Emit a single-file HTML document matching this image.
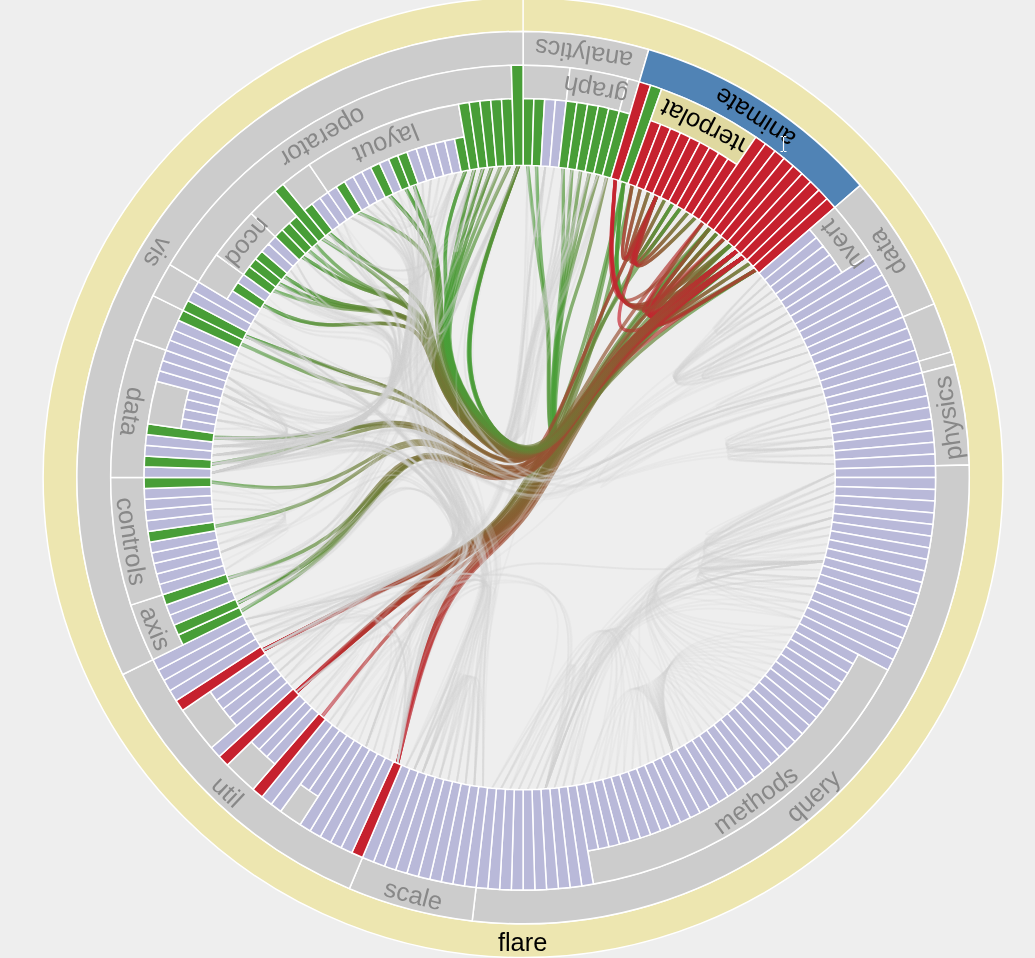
<!DOCTYPE html>
<html><head><meta charset="utf-8"><title>flare</title>
<style>html,body{margin:0;padding:0;background:#eeeeee;overflow:hidden}svg{display:block}.h{stroke-width:3.5;stroke-opacity:0.68}</style>
</head><body><svg width="1035" height="958" viewBox="0 0 1035 958"><defs><clipPath id="c1"><rect x="-31" y="-30" width="63" height="60"/></clipPath><clipPath id="c2"><rect x="-47.9" y="-30" width="92.8" height="60"/></clipPath><clipPath id="c3"><rect x="-30.3" y="-30" width="54.6" height="60"/></clipPath><clipPath id="c4"><rect x="-30.3" y="-30" width="54.6" height="60"/></clipPath><linearGradient id="ga" x1="0" y1="0" x2="1" y2="0"><stop offset="0" stop-color="#489e37"/><stop offset="1" stop-color="#c6212e"/></linearGradient><linearGradient id="gb" x1="1" y1="0" x2="0" y2="0"><stop offset="0" stop-color="#489e37"/><stop offset="1" stop-color="#c6212e"/></linearGradient></defs><g fill="none" stroke="#d0d0d0" stroke-width="1.8" stroke-opacity="0.2"><path class="h" d="M527.6,165.5C527.6,165.5 527.6,165.5 529.5,183.7C531.5,201.9 535.4,238.2 539.5,265.8C543.5,293.5 547.7,312.3 548.3,348.6C549,384.8 546.1,438.5 555.3,442C564.5,445.5 585.8,399 619.2,359.8C652.7,320.6 698.2,288.7 721,272.8C743.8,256.9 743.8,256.9 743.8,256.9" stroke="url(#ga)"/><path d="M527.6,165.5C527.6,165.5 527.6,165.5 527.1,184.5C526.7,203.4 525.8,241.4 525.1,270.6C524.3,299.8 523.7,320.2 519.5,358C515.4,395.9 507.7,451.1 487.5,461.7C467.4,472.4 434.7,438.5 405.9,427.6C377.1,416.7 352.3,428.8 320.5,438.8C288.7,448.7 249.9,456.5 230.6,460.4C211.2,464.2 211.2,464.2 211.2,464.2"/><path d="M527.6,165.5C527.6,165.5 527.6,165.5 527.5,185.5C527.5,205.4 527.4,245.4 527.5,276.6C527.6,307.8 527.8,330.2 524.4,370.1C521.1,409.9 514.2,467.1 497.7,501.9C481.2,536.8 455.1,549.3 435.1,564.3C415,579.2 401.1,596.5 381,620.3C361,644.1 334.9,674.3 321.8,689.4C308.8,704.5 308.8,704.5 308.8,704.5"/><path d="M527.6,165.5C527.6,165.5 527.6,165.5 528.8,183.2C530,201 532.4,236.5 536.9,236.7C541.3,237 547.8,202 551,184.5C554.3,167 554.3,167 554.3,167"/><path d="M527.6,165.5C527.6,165.5 527.6,165.5 528.7,183.2C529.8,201 532,236.4 534.9,236.6C537.9,236.7 541.6,201.5 543.5,183.9C545.4,166.2 545.4,166.2 545.4,166.2"/><path d="M527.6,165.5C527.6,165.5 527.6,165.5 527.1,184.5C526.7,203.5 525.8,241.5 525.1,270.8C524.3,300.1 523.7,320.6 519.5,358.5C515.4,396.4 507.7,451.7 487.5,462.4C467.4,473.1 434.7,439.3 405.9,428.5C377.1,417.7 352.2,429.9 320.4,441.2C288.5,452.4 249.8,462.8 230.4,468C211,473.1 211,473.1 211,473.1"/><path d="M536.5,165.7C536.5,165.7 536.5,165.7 536.2,183.4C535.9,201.1 535.4,236.5 536.9,236.6C538.4,236.7 541.9,201.5 543.6,183.9C545.4,166.2 545.4,166.2 545.4,166.2"/><path class="h" d="M536.5,165.7C536.5,165.7 536.5,165.7 537.1,183.9C537.8,202 539.1,238.3 541.8,265.9C544.5,293.5 548.6,312.4 549.1,348.6C549.7,384.9 546.7,438.5 555.8,442C565,445.6 586.2,399 619.5,359.8C652.9,320.6 698.3,288.7 721.1,272.8C743.8,256.9 743.8,256.9 743.8,256.9" stroke="url(#ga)"/><path d="M536.5,165.7C536.5,165.7 536.5,165.7 534.7,184.7C533,203.6 529.5,241.5 527.4,270.6C525.4,299.8 524.7,320.2 520.4,358.1C516.2,395.9 508.5,451.1 488.2,461.7C468,472.4 435.2,438.5 406.4,427.6C377.5,416.7 352.6,428.8 320.7,438.8C288.8,448.7 250,456.5 230.6,460.4C211.2,464.2 211.2,464.2 211.2,464.2"/><path d="M536.5,165.7C536.5,165.7 536.5,165.7 536.3,183.4C536.2,201.2 535.8,236.6 538.8,236.8C541.8,237 548,202 551.1,184.5C554.3,167 554.3,167 554.3,167"/><path d="M536.5,165.7C536.5,165.7 536.5,165.7 535.1,185.7C533.8,205.6 531.2,245.5 529.9,276.6C528.6,307.8 528.7,330.3 525.3,370.1C521.9,409.9 515,467.1 498.4,502C481.8,536.8 455.7,549.3 435.5,564.3C415.4,579.2 401.4,596.6 381.3,620.3C361.1,644.1 335,674.3 321.9,689.4C308.8,704.5 308.8,704.5 308.8,704.5"/><path d="M545.4,166.2C545.4,166.2 545.4,166.2 542.3,185C539.3,203.8 533.3,241.4 529.8,270.3C526.4,299.3 525.7,319.6 521.4,357.2C517.1,394.9 509.3,449.9 489,460.4C468.7,470.9 435.9,436.9 406.9,425.8C378,414.8 353,426.8 321.2,434.1C289.5,441.3 251,443.9 231.8,445.2C212.5,446.4 212.5,446.4 212.5,446.4"/><path d="M545.4,166.2C545.4,166.2 545.4,166.2 542.3,185C539.3,203.7 533.3,241.2 529.9,270.1C526.5,299 525.7,319.2 521.4,356.8C517.2,394.4 509.4,449.3 489.1,459.8C468.8,470.2 436,436.1 407,425C378.1,413.8 353.1,425.8 321.5,431.7C289.9,437.6 251.7,437.6 232.6,437.6C213.5,437.6 213.5,437.6 213.5,437.6"/><path d="M545.4,166.2C545.4,166.2 545.4,166.2 542.3,185.1C539.3,204 533.2,241.7 529.8,270.8C526.4,299.9 525.6,320.3 521.3,358.1C517,395.9 509.2,451.1 488.9,461.8C468.6,472.4 435.7,438.5 406.8,427.6C377.9,416.7 352.9,428.9 320.9,438.8C289,448.7 250.1,456.5 230.7,460.4C211.2,464.2 211.2,464.2 211.2,464.2"/><path d="M545.4,166.2C545.4,166.2 545.4,166.2 542.4,184.8C539.4,203.3 533.5,240.4 530.2,268.8C526.9,297.2 526.2,317 522,354.2C517.8,391.3 510.1,445.9 489.9,455.9C469.7,465.8 437,431.3 408.2,419.7C379.4,408.2 354.4,419.7 324.5,417.8C294.6,415.9 259.8,400.6 242.3,393C224.9,385.4 224.9,385.4 224.9,385.4"/><path d="M545.4,166.2C545.4,166.2 545.4,166.2 543,186.9C540.6,207.5 535.9,248.7 533.7,281.2C531.6,313.8 532.1,337.7 529.2,379C526.2,420.3 519.6,479 503.5,515.4C487.4,551.7 461.6,565.7 442.3,603.3C423,640.9 410.3,702.1 403.9,732.8C397.5,763.4 397.5,763.4 397.5,763.4"/><path d="M545.4,166.2C545.4,166.2 545.4,166.2 543.8,183.9C542.3,201.5 539.3,236.8 540.7,236.9C542.2,237 548.2,202 551.2,184.5C554.3,167 554.3,167 554.3,167"/><path d="M545.4,166.2C545.4,166.2 545.4,166.2 542.3,186.2C539.2,206.2 533,246.1 529.4,277.4C525.9,308.7 524.9,331.3 520.5,371.3C516.1,411.4 508.1,468.8 490.5,503.8C473,538.9 445.8,551.6 404.6,569.7C363.5,587.9 308.5,611.4 281,623.2C253.5,635 253.5,635 253.5,635"/><path d="M545.4,166.2C545.4,166.2 545.4,166.2 543.4,183.9C541.5,201.5 537.6,236.8 536.4,263.4C535.2,290 536.6,308 534.5,343.4C532.4,378.7 526.7,431.5 508.6,439.6C490.5,447.8 459.9,411.5 445.9,379.7C431.9,348 434.6,320.9 442.1,286.6C449.6,252.3 461.9,210.8 468.1,190C474.3,169.3 474.3,169.3 474.3,169.3"/><path d="M545.4,166.2C545.4,166.2 545.4,166.2 542.3,186.3C539.3,206.3 533.2,246.4 529.7,277.8C526.2,309.3 525.4,332.1 521.1,372.2C516.7,412.4 508.9,470 491.4,505.2C473.9,540.4 446.8,553.2 407.1,573.7C367.4,594.1 315.2,622.1 289.1,636.1C262.9,650.1 262.9,650.1 262.9,650.1"/><path d="M545.4,166.2C545.4,166.2 545.4,166.2 542.3,185.1C539.3,204 533.2,241.8 529.8,271C526.4,300.2 525.6,320.7 521.3,358.6C517,396.5 509.2,451.7 488.9,462.4C468.5,473.1 435.7,439.3 406.8,428.5C377.9,417.7 352.8,429.9 320.8,441.2C288.8,452.5 249.9,462.8 230.4,468C211,473.1 211,473.1 211,473.1"/><path class="h" d="M563.1,168C563.1,168 563.1,168 563.2,186.2C563.4,204.5 563.6,240.9 562.3,268.2C561,295.4 558,313.4 554.9,349.2C551.8,385 548.6,438.6 557.4,442.1C566.3,445.7 587.2,399.1 620.3,359.9C653.4,320.7 698.6,288.8 721.2,272.8C743.8,256.9 743.8,256.9 743.8,256.9" stroke="url(#ga)"/><path d="M563.1,168C563.1,168 563.1,168 560.9,186.9C558.7,205.8 554.2,243.6 548.1,272.2C542.1,300.8 534.4,320.2 526.6,357.4C518.8,394.5 510.8,449.5 490.4,459.9C469.9,470.3 437,436.2 407.9,425C378.9,413.9 353.7,425.8 322,431.7C290.2,437.7 251.9,437.6 232.7,437.6C213.5,437.6 213.5,437.6 213.5,437.6"/><path d="M563.1,168C563.1,168 563.1,168 560.9,187C558.6,206.1 554.2,244.1 548.1,272.9C542,301.7 534.3,321.3 526.5,358.7C518.6,396.1 510.7,451.3 490.2,461.9C469.7,472.5 436.8,438.6 407.7,427.7C378.6,416.8 353.4,428.9 321.3,438.8C289.2,448.8 250.2,456.5 230.7,460.4C211.2,464.2 211.2,464.2 211.2,464.2"/><path d="M563.1,168C563.1,168 563.1,168 561.5,188.8C559.9,209.5 556.7,251 551.9,283.4C547.1,315.7 540.7,338.7 534.1,379.6C527.6,420.5 520.9,479.2 504.6,515.5C488.2,551.8 462.3,565.8 442.9,603.4C423.4,641 410.4,702.2 404,732.8C397.5,763.4 397.5,763.4 397.5,763.4"/><path d="M563.1,168C563.1,168 563.1,168 560.9,187.1C558.6,206.1 554.2,244.2 548.1,273.1C542,302 534.3,321.7 526.5,359.2C518.6,396.6 510.7,451.9 490.2,462.6C469.7,473.3 436.8,439.4 407.7,428.6C378.6,417.8 353.4,430 321.3,441.2C289.1,452.5 250.1,462.8 230.5,468C211,473.1 211,473.1 211,473.1"/><path d="M563.1,168C563.1,168 563.1,168 560.8,188.2C558.6,208.4 554,248.8 547.9,280C541.7,311.1 534,333.1 526.1,372.8C518.2,412.6 510.1,470.1 492.5,505.3C474.8,540.5 447.5,553.3 407.6,573.7C367.8,594.1 315.4,622.1 289.2,636.1C262.9,650.1 262.9,650.1 262.9,650.1"/><path d="M563.1,168C563.1,168 563.1,168 562,185.8C560.8,203.6 558.5,239.2 554.7,265.5C550.8,291.9 545.3,309 539.6,344C534,378.9 528.2,431.6 509.9,439.8C491.7,447.9 460.9,411.6 446.8,379.8C432.7,348.1 435.2,321 442.6,286.6C449.9,252.3 462.1,210.8 468.2,190C474.3,169.3 474.3,169.3 474.3,169.3"/><path class="h" d="M571.9,169.3C571.9,169.3 571.9,169.3 570.8,187.3C569.6,205.4 567.3,241.4 564.6,268.5C561.9,295.5 558.9,313.5 555.7,349.3C552.5,385.1 549.2,438.7 558,442.2C566.7,445.7 587.6,399.2 620.6,359.9C653.6,320.7 698.7,288.8 721.3,272.8C743.8,256.9 743.8,256.9 743.8,256.9" stroke="url(#ga)"/><path d="M571.9,169.3C571.9,169.3 571.9,169.3 568.4,188C564.9,206.7 557.9,244.2 550.5,272.6C543.1,301 535.4,320.3 527.5,357.5C519.6,394.7 511.6,449.6 491,460C470.5,470.4 437.5,436.2 408.4,425.1C379.2,414 354,425.9 322.2,431.8C290.3,437.7 251.9,437.6 232.7,437.6C213.5,437.6 213.5,437.6 213.5,437.6"/><path d="M571.9,169.3C571.9,169.3 571.9,169.3 568.4,188C564.9,206.8 557.9,244.3 550.5,272.8C543.1,301.3 535.3,320.7 527.4,357.9C519.5,395.2 511.5,450.2 491,460.7C470.4,471.1 437.4,437 408.3,426C379.1,414.9 353.9,426.9 321.9,434.1C289.9,441.4 251.2,443.9 231.9,445.2C212.5,446.4 212.5,446.4 212.5,446.4"/><path d="M571.9,169.3C571.9,169.3 571.9,169.3 570.1,186.9C568.3,204.6 564.7,239.9 567.6,240.4C570.6,241 580,206.8 584.7,189.7C589.5,172.6 589.5,172.6 589.5,172.6"/><path d="M571.9,169.3C571.9,169.3 571.9,169.3 568.4,188.2C564.9,207 557.8,244.8 550.4,273.5C543,302.2 535.2,321.8 527.3,359.3C519.4,396.7 511.4,452 490.9,462.7C470.3,473.4 437.3,439.5 408.1,428.7C379,417.8 353.7,430 321.5,441.3C289.3,452.5 250.1,462.8 230.6,468C211,473.1 211,473.1 211,473.1"/><path d="M571.9,169.3C571.9,169.3 571.9,169.3 568.4,189.3C564.8,209.3 557.7,249.3 550.2,280.3C542.7,311.3 534.8,333.2 526.9,372.9C518.9,412.7 510.7,470.2 493,505.4C475.2,540.5 447.9,553.4 407.9,573.8C368,594.2 315.5,622.1 289.2,636.1C262.9,650.1 262.9,650.1 262.9,650.1"/><path d="M571.9,169.3C571.9,169.3 571.9,169.3 569.5,186.9C567.1,204.5 562.2,239.7 557,265.9C551.8,292 546.2,309.2 540.5,344.1C534.8,379 528.9,431.7 510.6,439.9C492.3,448 461.4,411.6 447.2,379.9C433,348.1 435.5,321 442.8,286.7C450.1,252.3 462.2,210.8 468.2,190.1C474.3,169.3 474.3,169.3 474.3,169.3"/><path class="h" d="M580.7,170.8C580.7,170.8 580.7,170.8 578.3,188.6C575.8,206.4 570.9,242.1 566.9,268.9C562.9,295.7 559.8,313.7 556.5,349.5C553.2,385.3 549.8,438.8 558.5,442.3C567.2,445.8 587.9,399.2 620.8,360C653.7,320.7 698.8,288.8 721.3,272.8C743.8,256.9 743.8,256.9 743.8,256.9" stroke="url(#ga)"/><path d="M580.7,170.8C580.7,170.8 580.7,170.8 575.9,189.3C571.1,207.8 561.5,244.8 552.8,273C544.1,301.2 536.3,320.5 528.3,357.7C520.4,394.8 512.3,449.7 491.7,460.1C471.1,470.5 438,436.3 408.8,425.2C379.6,414 354.3,425.9 322.4,431.8C290.5,437.7 252,437.7 232.8,437.6C213.5,437.6 213.5,437.6 213.5,437.6"/><path d="M580.7,170.8C580.7,170.8 580.7,170.8 575.9,189.3C571.1,207.9 561.5,244.9 552.8,273.2C544.1,301.4 536.3,320.9 528.3,358.1C520.3,395.3 512.2,450.3 491.6,460.8C471,471.2 437.9,437.1 408.7,426.1C379.5,415 354.2,426.9 322.1,434.2C290.1,441.4 251.3,443.9 231.9,445.2C212.5,446.4 212.5,446.4 212.5,446.4"/><path d="M580.7,170.8C580.7,170.8 580.7,170.8 575.9,189.5C571.1,208.1 561.5,245.4 552.8,273.9C544,302.3 536.2,322 528.2,359.4C520.2,396.9 512.1,452.1 491.5,462.8C470.9,473.5 437.8,439.6 408.6,428.7C379.3,417.9 354,430.1 321.7,441.3C289.4,452.5 250.2,462.8 230.6,468C211,473.1 211,473.1 211,473.1"/><path d="M580.7,170.8C580.7,170.8 580.7,170.8 575.9,190.6C571,210.4 561.3,249.9 552.5,280.7C543.7,311.4 535.7,333.4 527.6,373.1C519.6,412.8 511.4,470.3 493.5,505.4C475.7,540.6 448.2,553.4 408.2,573.8C368.1,594.2 315.5,622.1 289.2,636.1C262.9,650.1 262.9,650.1 262.9,650.1"/><path d="M580.7,170.8C580.7,170.8 580.7,170.8 577,188.2C573.3,205.6 565.9,240.3 559.3,266.3C552.8,292.2 547.2,309.3 541.4,344.2C535.6,379.1 529.7,431.8 511.3,440C492.8,448.1 461.9,411.7 447.7,380C433.4,348.2 435.8,321 443,286.7C450.2,252.4 462.2,210.8 468.3,190.1C474.3,169.3 474.3,169.3 474.3,169.3"/><path d="M589.5,172.6C589.5,172.6 589.5,172.6 583.4,190.9C577.3,209.1 565.2,245.7 555.1,273.7C545.1,301.7 537.2,321.1 529.2,358.3C521.1,395.5 513,450.5 492.3,460.9C471.6,471.3 438.4,437.2 409.2,426.2C379.9,415.1 354.5,427 322.3,434.2C290.2,441.4 251.4,443.9 231.9,445.2C212.5,446.4 212.5,446.4 212.5,446.4"/><path d="M589.5,172.6C589.5,172.6 589.5,172.6 583.4,190.8C577.3,209.1 565.2,245.5 555.2,273.4C545.1,301.4 537.3,320.7 529.2,357.8C521.2,395 513,449.9 492.4,460.2C471.7,470.6 438.5,436.4 409.3,425.3C380,414.1 354.6,426 322.6,431.9C290.6,437.7 252.1,437.7 232.8,437.6C213.5,437.6 213.5,437.6 213.5,437.6"/><path class="h" d="M589.5,172.6C589.5,172.6 589.5,172.6 585.7,190.1C582,207.7 574.5,242.8 569.2,269.3C563.9,295.9 560.6,313.9 557.3,349.6C553.9,385.4 550.4,439 559,442.4C567.6,445.9 588.3,399.3 621.1,360C653.9,320.7 698.9,288.8 721.3,272.8C743.8,256.9 743.8,256.9 743.8,256.9" stroke="url(#ga)"/><path d="M589.5,172.6C589.5,172.6 589.5,172.6 584.5,189.7C579.5,206.8 569.5,241.1 561.7,266.7C553.8,292.4 548.1,309.5 542.3,344.4C536.4,379.3 530.4,432 511.9,440.1C493.4,448.3 462.4,411.8 448.1,380C433.8,348.3 436.1,321.1 443.2,286.8C450.4,252.4 462.3,210.8 468.3,190.1C474.3,169.3 474.3,169.3 474.3,169.3"/><path d="M589.5,172.6C589.5,172.6 589.5,172.6 583.9,192.1C578.4,211.5 567.3,250.5 558.4,280.8C549.5,311.2 542.7,333 535.7,372.6C528.8,412.2 521.7,469.6 505,504.6C488.2,539.6 461.9,552.3 444.9,570C427.8,587.8 420.1,610.5 404.7,638.5C389.4,666.4 366.3,699.6 354.8,716.2C343.2,732.7 343.2,732.7 343.2,732.7"/><path d="M589.5,172.6C589.5,172.6 589.5,172.6 584,192.1C578.5,211.6 567.5,250.5 558.6,281C549.7,311.4 543,333.2 536.1,372.8C529.2,412.5 522.2,469.9 505.5,505C488.9,540 462.6,552.8 445.6,570.6C428.6,588.3 421,611.1 406.7,639.8C392.4,668.5 371.5,703.1 361.1,720.5C350.6,737.8 350.6,737.8 350.6,737.8"/><path d="M589.5,172.6C589.5,172.6 589.5,172.6 583.3,192.1C577.2,211.6 564.9,250.7 554.8,281.1C544.6,311.6 536.6,333.5 528.4,373.2C520.3,412.9 512,470.4 494,505.6C476.1,540.7 448.6,553.5 408.4,573.9C368.3,594.2 315.6,622.2 289.3,636.1C262.9,650.1 262.9,650.1 262.9,650.1"/><path d="M589.5,172.6C589.5,172.6 589.5,172.6 583.4,191C577.3,209.4 565.1,246.1 555.1,274.3C545.1,302.5 537.1,322.2 529.1,359.6C521,397 512.9,452.2 492.2,462.9C471.5,473.6 438.3,439.7 409,428.8C379.7,418 354.3,430.1 321.9,441.3C289.6,452.6 250.3,462.9 230.6,468C211,473.1 211,473.1 211,473.1"/><path class="h" d="M598.1,174.6C598.1,174.6 598.1,174.6 593.1,191.9C588.1,209.1 578.1,243.6 571.5,269.9C564.8,296.1 561.5,314.1 558.1,349.8C554.6,385.6 551,439.1 559.5,442.5C568.1,446 588.6,399.4 621.4,360.1C654.1,320.8 699,288.8 721.4,272.9C743.8,256.9 743.8,256.9 743.8,256.9" stroke="url(#ga)"/><path d="M598.1,174.6C598.1,174.6 598.1,174.6 590.8,192.5C583.5,210.5 568.8,246.4 557.5,274C546.2,301.6 538.2,320.9 530.1,358C522,395.1 513.7,450 493,460.4C472.3,470.7 439,436.5 409.7,425.4C380.3,414.2 354.9,426 322.8,431.9C290.8,437.8 252.2,437.7 232.8,437.6C213.5,437.6 213.5,437.6 213.5,437.6"/><path d="M598.1,174.6C598.1,174.6 598.1,174.6 591.3,191.7C584.4,208.8 570.6,243.1 560.2,269C549.8,295 542.7,312.6 535.5,348.1C528.3,383.5 521,436.8 501.2,445.5C481.3,454.2 449,418.3 433.3,387.1C417.6,355.9 418.6,329.3 402.9,305.3C387.1,281.4 354.6,260.1 338.3,249.4C322.1,238.8 322.1,238.8 322.1,238.8"/><path d="M598.1,174.6C598.1,174.6 598.1,174.6 592,191.4C585.9,208.2 573.6,241.8 564.7,267.1C555.8,292.5 550.2,309.5 544.6,344.3C538.9,379.2 533,431.8 514.7,439.8C496.4,447.9 465.5,411.4 464.1,358.3C462.7,305.1 490.7,235.3 504.7,200.4C518.6,165.5 518.6,165.5 518.6,165.5"/><path d="M598.1,174.6C598.1,174.6 598.1,174.6 590.9,192.3C583.6,210 569,245.4 557.8,272.5C546.6,299.6 538.8,318.4 530.8,355C522.8,391.6 514.7,446 494.1,455.8C473.4,465.7 440.3,431 411.1,419.3C381.9,407.6 356.5,419 326.6,415.7C296.7,412.5 262.1,394.7 244.9,385.8C227.6,376.9 227.6,376.9 227.6,376.9"/><path d="M598.1,174.6C598.1,174.6 598.1,174.6 590.7,193.8C583.3,213.1 568.5,251.5 557,281.7C545.6,311.8 537.5,333.7 529.2,373.4C521,413.1 512.6,470.5 494.6,505.7C476.5,540.8 448.9,553.6 408.7,573.9C368.5,594.3 315.7,622.2 289.3,636.1C262.9,650.1 262.9,650.1 262.9,650.1"/><path d="M598.1,174.6C598.1,174.6 598.1,174.6 591.9,191.4C585.6,208.3 573.1,241.9 564,267.3C554.9,292.6 549.1,309.7 543.1,344.6C537.2,379.5 531.1,432.2 512.6,440.3C494,448.4 462.9,412 448.5,380.2C434.1,348.3 436.4,321.2 443.4,286.8C450.5,252.4 462.4,210.9 468.3,190.1C474.3,169.3 474.3,169.3 474.3,169.3"/><path d="M598.1,174.6C598.1,174.6 598.1,174.6 590.8,192.7C583.4,210.8 568.8,247 557.4,274.9C546.1,302.8 538.1,322.4 530,359.8C521.8,397.2 513.6,452.4 492.8,463.1C472.1,473.7 438.8,439.8 409.4,428.9C380.1,418 354.6,430.2 322.2,441.4C289.7,452.6 250.4,462.9 230.7,468C211,473.1 211,473.1 211,473.1"/><path class="h" d="M606.8,176.9C606.8,176.9 606.8,176.9 602.7,194.3C598.6,211.8 590.5,246.6 582.6,272.5C574.6,298.4 566.8,315.3 561.1,350.5C555.3,385.7 551.6,439.3 560.1,442.7C568.5,446.1 589,399.5 621.6,360.1C654.3,320.8 699,288.9 721.4,272.9C743.8,256.9 743.8,256.9 743.8,256.9" stroke="url(#ga)"/><path d="M606.8,176.9C606.8,176.9 606.8,176.9 601,196.8C595.2,216.8 583.6,256.8 572.2,287.7C560.8,318.7 549.5,340.7 540.3,380.9C531.1,421.2 523.9,479.8 507.2,516C490.4,552.2 464,566.1 444.2,603.6C424.3,641.1 410.9,702.3 404.2,732.8C397.5,763.4 397.5,763.4 397.5,763.4"/><path d="M606.8,176.9C606.8,176.9 606.8,176.9 600.4,195.1C594,213.3 581.2,249.7 568.6,277.1C556,304.5 543.5,322.9 533.1,359.7C522.7,396.4 514.3,451.4 493.5,461.9C472.7,472.4 439.4,438.3 409.9,427.3C380.5,416.2 355,428.2 322.6,436.7C290.2,445.2 251,450.3 231.4,452.8C211.7,455.3 211.7,455.3 211.7,455.3"/><path d="M606.8,176.9C606.8,176.9 606.8,176.9 601.1,196.9C595.4,216.9 584.1,257 572.9,288C561.8,319.1 550.7,341.1 541.8,381.5C532.8,421.9 525.9,480.5 517.1,521.1C508.2,561.7 497.4,584.2 481.3,623.2C465.2,662.1 443.8,717.6 433.1,745.3C422.4,773.1 422.4,773.1 422.4,773.1"/><path d="M606.8,176.9C606.8,176.9 606.8,176.9 600.4,195.6C594.1,214.3 581.5,251.7 569,280.2C556.5,308.6 544.1,328.1 533.9,365.8C523.6,403.6 515.4,459.6 494.7,471.1C474,482.6 440.8,449.6 413.1,454.1C385.3,458.5 363,500.5 333,527.5C303,554.5 265.3,566.4 246.5,572.3C227.6,578.3 227.6,578.3 227.6,578.3"/><path d="M606.8,176.9C606.8,176.9 606.8,176.9 601.6,193.9C596.4,210.8 586,244.8 575.8,269.8C565.6,294.8 555.5,310.8 547.5,345.1C539.5,379.3 533.6,431.9 515.2,440C496.8,448 465.9,411.5 464.4,358.4C462.9,305.2 490.8,235.3 504.7,200.4C518.6,165.5 518.6,165.5 518.6,165.5"/><path d="M606.8,176.9C606.8,176.9 606.8,176.9 600.3,196.3C593.8,215.7 580.9,254.5 568.1,284.3C555.4,314.2 542.7,335 532.2,374.1C521.7,413.3 513.2,470.7 495.1,505.8C477,540.9 449.2,553.7 409,574C368.7,594.3 315.8,622.2 289.4,636.2C262.9,650.1 262.9,650.1 262.9,650.1"/><path d="M606.8,176.9C606.8,176.9 606.8,176.9 601.5,193.9C596.2,210.9 585.6,244.9 575.1,269.9C564.7,295 554.4,311 546.2,345.4C538,379.7 531.9,432.3 513.2,440.4C494.6,448.5 463.4,412.1 449,380.3C434.5,348.4 436.7,321.2 443.7,286.9C450.6,252.5 462.5,210.9 468.4,190.1C474.3,169.3 474.3,169.3 474.3,169.3"/><path class="h" d="M623.8,182.1C623.8,182.1 623.8,182.1 617,212.3C610.3,242.5 596.8,302.8 578.4,359.9C560.1,416.9 536.9,470.8 511,504.9C485.2,539 456.9,553.4 420.6,581.3C384.4,609.2 340.3,650.6 318.2,671.2C296.2,691.9 296.2,691.9 296.2,691.9" stroke="url(#gb)"/><path class="h" d="M623.8,182.1C623.8,182.1 623.8,182.1 620.5,210C617.2,237.8 610.7,293.5 629.6,304.9C648.5,316.3 693,283.5 715.2,267.1C737.4,250.7 737.4,250.7 737.4,250.7" stroke="url(#ga)"/><path class="h" d="M623.8,182.1C623.8,182.1 623.8,182.1 617.7,212.7C611.6,243.4 599.3,304.6 582.2,362.5C565.1,420.5 543.2,475.2 518.6,510.2C494.1,545.2 467,560.5 446.4,599.4C425.7,638.3 411.6,700.9 404.6,732.1C397.5,763.4 397.5,763.4 397.5,763.4" stroke="url(#gb)"/><path class="h" d="M623.8,182.1C623.8,182.1 623.8,182.1 620.4,209.9C617.1,237.7 610.3,293.2 628.2,303.6C646,314 688.4,279.3 709.7,262C730.9,244.6 730.9,244.6 730.9,244.6" stroke="url(#ga)"/><path class="h" d="M623.8,182.1C623.8,182.1 623.8,182.1 620.6,210C617.4,238 611,293.8 631,306.2C651,318.7 697.4,287.8 720.6,272.3C743.8,256.9 743.8,256.9 743.8,256.9" stroke="url(#ga)"/><path class="h" d="M632.2,185.1C632.2,185.1 632.2,185.1 627.6,205.8C623,226.5 613.9,267.9 605.6,300.2C597.4,332.5 590.1,355.8 575.7,394.1C561.3,432.4 539.8,485.6 515.8,519.1C491.7,552.6 465.1,566.5 444.9,603.9C424.8,641.3 411.1,702.3 404.3,732.8C397.5,763.4 397.5,763.4 397.5,763.4" stroke="url(#gb)"/><path class="h" d="M632.2,185.1C632.2,185.1 632.2,185.1 629.1,203.1C626,221 619.8,256.8 623.9,258.6C628,260.3 642.4,227.9 649.6,211.7C656.8,195.5 656.8,195.5 656.8,195.5" stroke="url(#ga)"/><path class="h" d="M640.5,188.4C640.5,188.4 640.5,188.4 636.1,205.8C631.7,223.2 623,258.1 625.7,259.3C628.4,260.5 642.6,228 649.7,211.8C656.8,195.5 656.8,195.5 656.8,195.5" stroke="url(#ga)"/><path class="h" d="M648.7,191.8C648.7,191.8 648.7,191.8 643.1,208.7C637.4,225.6 626.1,259.4 627.5,260C628.8,260.6 642.8,228.1 649.8,211.8C656.8,195.5 656.8,195.5 656.8,195.5" stroke="url(#ga)"/><path class="h" d="M656.8,195.5C656.8,195.5 656.8,195.5 650.1,212C643.4,228.4 630,261.2 632.7,262.6C635.3,263.9 654,233.8 663.4,218.7C672.7,203.6 672.7,203.6 672.7,203.6" stroke="url(#ga)"/><path class="h" d="M656.8,195.5C656.8,195.5 656.8,195.5 649.7,211.8C642.6,228 628.4,260.5 625.7,259.3C623,258.1 631.7,223.2 636.1,205.8C640.5,188.4 640.5,188.4 640.5,188.4" stroke="url(#gb)"/><path class="h" d="M656.8,195.5C656.8,195.5 656.8,195.5 650.3,212.1C643.8,228.6 630.8,261.7 636,264.5C641.2,267.4 664.7,240 676.4,226.3C688.1,212.6 688.1,212.6 688.1,212.6" stroke="url(#ga)"/><path class="h" d="M656.8,195.5C656.8,195.5 656.8,195.5 650.2,212C643.6,228.5 630.4,261.4 634.3,263.5C638.3,265.6 659.4,236.8 669.9,222.4C680.5,208 680.5,208 680.5,208" stroke="url(#ga)"/><path class="h" d="M656.8,195.5C656.8,195.5 656.8,195.5 650,211.9C643.2,228.3 629.6,261 631,261.7C632.3,262.3 648.6,230.9 656.7,215.2C664.8,199.5 664.8,199.5 664.8,199.5" stroke="url(#ga)"/><path class="h" d="M656.8,195.5C656.8,195.5 656.8,195.5 650.4,212.1C644,228.7 631.2,261.9 637.6,265.6C644.1,269.2 669.8,243.3 682.7,230.4C695.6,217.4 695.6,217.4 695.6,217.4" stroke="url(#ga)"/><path class="h" d="M656.8,195.5C656.8,195.5 656.8,195.5 649.8,211.8C642.8,228.1 628.8,260.6 627.5,260C626.1,259.4 637.4,225.6 643.1,208.7C648.7,191.8 648.7,191.8 648.7,191.8" stroke="url(#gb)"/><path class="h" d="M656.8,195.5C656.8,195.5 656.8,195.5 647.9,214.1C639.1,232.7 621.3,269.9 608,299.5C594.7,329.1 585.8,351.2 569.8,388.2C553.8,425.3 530.8,477.3 505.1,509.6C479.5,541.8 451.2,554.4 410.5,574.6C369.7,594.7 316.3,622.4 289.6,636.2C262.9,650.1 262.9,650.1 262.9,650.1" stroke="url(#gb)"/><path class="h" d="M656.8,195.5C656.8,195.5 656.8,195.5 649.6,211.7C642.4,227.9 628,260.3 623.9,258.6C619.8,256.8 626,221 629.1,203.1C632.2,185.1 632.2,185.1 632.2,185.1" stroke="url(#gb)"/><path class="h" d="M664.8,199.5C664.8,199.5 664.8,199.5 656.7,215.2C648.6,230.9 632.3,262.3 631,261.7C629.6,261 643.2,228.3 650,211.9C656.8,195.5 656.8,195.5 656.8,195.5" stroke="url(#gb)"/><path class="h" d="M672.7,203.6C672.7,203.6 672.7,203.6 663.4,218.7C654,233.8 635.3,263.9 632.7,262.6C630,261.2 643.4,228.4 650.1,212C656.8,195.5 656.8,195.5 656.8,195.5" stroke="url(#gb)"/><path class="h" d="M672.7,203.6C672.7,203.6 672.7,203.6 661.7,221.2C650.6,238.9 628.6,274.1 613.2,302.9C597.8,331.7 589.1,354.1 573.2,391.5C557.4,428.9 534.5,481.2 509.1,513.8C483.6,546.4 455.5,559.3 419.6,585.7C383.7,612.1 339.9,652 318.1,672C296.2,691.9 296.2,691.9 296.2,691.9" stroke="url(#gb)"/><path class="h" d="M680.5,208C680.5,208 680.5,208 669.9,222.4C659.4,236.8 638.3,265.6 634.3,263.5C630.4,261.4 643.6,228.5 650.2,212C656.8,195.5 656.8,195.5 656.8,195.5" stroke="url(#gb)"/><path class="h" d="M680.5,208C680.5,208 680.5,208 668.1,224.8C655.8,241.5 631.1,275.1 614.2,302.8C597.3,330.5 588.2,352.5 572,389.4C555.7,426.3 532.4,478.1 506.5,510.3C480.7,542.5 452.2,554.9 411.2,574.9C370.1,594.9 316.5,622.5 289.7,636.3C262.9,650.1 262.9,650.1 262.9,650.1" stroke="url(#gb)"/><path class="h" d="M688.1,212.6C688.1,212.6 688.1,212.6 676.4,226.3C664.7,240 641.2,267.4 636,264.5C630.8,261.7 643.8,228.6 650.3,212.1C656.8,195.5 656.8,195.5 656.8,195.5" stroke="url(#gb)"/><path class="h" d="M695.6,217.4C695.6,217.4 695.6,217.4 682.7,230.4C669.8,243.3 644.1,269.2 637.6,265.6C631.2,261.9 644,228.7 650.4,212.1C656.8,195.5 656.8,195.5 656.8,195.5" stroke="url(#gb)"/><path class="h" d="M710.2,227.7C710.2,227.7 710.2,227.7 692,247.6C673.9,267.5 637.7,307.4 621.9,299.3C606.1,291.3 610.7,235.3 613,207.4C615.3,179.4 615.3,179.4 615.3,179.4" stroke="url(#gb)"/><path class="h" d="M710.2,227.7C710.2,227.7 710.2,227.7 693.6,248.5C677,269.3 643.8,310.9 648.3,314.8C652.9,318.6 695.1,284.6 716.3,267.6C737.4,250.7 737.4,250.7 737.4,250.7" stroke="url(#ga)"/><path class="h" d="M710.2,227.7C710.2,227.7 710.2,227.7 691.3,251.6C672.4,275.4 634.6,323.2 604.2,374.1C573.8,425.1 550.7,479.2 525.1,513.6C499.5,548.1 471.3,562.8 449.6,601.1C427.9,639.5 412.7,701.4 405.1,732.4C397.5,763.4 397.5,763.4 397.5,763.4" stroke="url(#gb)"/><path class="h" d="M710.2,227.7C710.2,227.7 710.2,227.7 690.6,251.1C671.1,274.6 632.1,321.4 600.4,371.4C568.7,421.5 544.4,474.7 517.5,508.3C490.6,541.8 461.2,555.7 423.9,583C386.5,610.3 341.3,651.1 318.8,671.5C296.2,691.9 296.2,691.9 296.2,691.9" stroke="url(#gb)"/><path class="h" d="M710.2,227.7C710.2,227.7 710.2,227.7 690.4,250.9C670.7,274 631.2,320.4 599.1,369.9C567.1,419.4 542.3,472.1 515,505.2C487.7,538.2 457.9,551.5 415.4,572.4C373,593.2 318,621.7 290.4,635.9C262.9,650.1 262.9,650.1 262.9,650.1" stroke="url(#gb)"/><path class="h" d="M717.2,233.2C717.2,233.2 717.2,233.2 699.5,253.1C681.9,273.1 646.5,313 649.9,315.9C653.2,318.9 695.3,284.8 716.4,267.7C737.4,250.7 737.4,250.7 737.4,250.7" stroke="url(#ga)"/><path class="h" d="M717.2,233.2C717.2,233.2 717.2,233.2 696.7,255.8C676.1,278.4 634.9,323.6 602.2,372.8C569.4,422 545,475.2 518.1,508.7C491.1,542.2 461.5,555.9 424.1,583.2C386.7,610.4 341.4,651.2 318.8,671.6C296.2,691.9 296.2,691.9 296.2,691.9" stroke="url(#gb)"/><path class="h" d="M724.1,238.8C724.1,238.8 724.1,238.8 704.9,257.5C685.8,276.3 647.4,313.8 643.9,311.1C640.3,308.3 671.6,265.4 687.3,243.9C703,222.5 703,222.5 703,222.5" stroke="url(#gb)"/><path class="h" d="M724.1,238.8C724.1,238.8 724.1,238.8 705.1,257.7C686.1,276.6 648.1,314.3 647,313.4C645.8,312.4 681.5,272.8 699.4,253C717.2,233.2 717.2,233.2 717.2,233.2" stroke="url(#gb)"/><path class="h" d="M724.1,238.8C724.1,238.8 724.1,238.8 705.4,257.9C686.6,277 649.1,315.2 651.3,317.2C653.6,319.1 695.5,284.9 716.5,267.8C737.4,250.7 737.4,250.7 737.4,250.7" stroke="url(#ga)"/><path class="h" d="M724.1,238.8C724.1,238.8 724.1,238.8 702.5,260.6C680.9,282.4 637.8,325.9 603.9,374.3C570.1,422.6 545.6,475.7 518.6,509.1C491.5,542.5 461.9,556.2 424.4,583.4C386.9,610.6 341.5,651.3 318.8,671.6C296.2,691.9 296.2,691.9 296.2,691.9" stroke="url(#gb)"/><path class="h" d="M730.9,244.6C730.9,244.6 730.9,244.6 709.5,261.9C688.2,279.2 645.6,313.9 626.3,303C607.1,292.1 611.2,235.7 613.3,207.6C615.3,179.4 615.3,179.4 615.3,179.4" stroke="url(#gb)"/><path class="h" d="M730.9,244.6C730.9,244.6 730.9,244.6 708.3,265.6C685.7,286.5 640.5,328.3 605.6,375.7C570.8,423.2 546.2,476.2 519.1,509.6C491.9,542.9 462.2,556.5 424.6,583.6C387,610.7 341.6,651.3 318.9,671.6C296.2,691.9 296.2,691.9 296.2,691.9" stroke="url(#gb)"/><path class="h" d="M730.9,244.6C730.9,244.6 730.9,244.6 711.1,262.8C691.3,281 651.7,317.4 652.8,318.4C653.9,319.4 695.7,285.1 716.5,267.9C737.4,250.7 737.4,250.7 737.4,250.7" stroke="url(#ga)"/><path class="h" d="M730.9,244.6C730.9,244.6 730.9,244.6 708.9,266C687,287.4 643,330.1 609.4,378.4C575.8,426.8 552.6,480.7 526.7,514.9C500.8,549.1 472.3,563.7 450.4,601.8C428.4,639.9 413,701.6 405.2,732.5C397.5,763.4 397.5,763.4 397.5,763.4" stroke="url(#gb)"/><path class="h" d="M730.9,244.6C730.9,244.6 730.9,244.6 708.1,265.3C685.3,285.9 639.7,327.3 604.4,374.2C569.1,421.1 544.1,473.6 516.6,506.4C489,539.2 458.9,552.3 416.2,573C373.5,593.6 318.2,621.9 290.6,636C262.9,650.1 262.9,650.1 262.9,650.1" stroke="url(#gb)"/><path class="h" d="M737.4,250.7C737.4,250.7 737.4,250.7 716.7,268C696,285.4 654.5,320 655.6,321.1C656.7,322.1 700.3,289.5 722,273.2C743.8,256.9 743.8,256.9 743.8,256.9" stroke="url(#ga)"/><path class="h" d="M737.4,250.7C737.4,250.7 737.4,250.7 716.8,268.1C696.1,285.5 654.9,320.4 657,322.5C659.1,324.6 704.5,293.9 727.3,278.6C750,263.3 750,263.3 750,263.3" stroke="url(#ga)"/><path class="h" d="M737.4,250.7C737.4,250.7 737.4,250.7 716.5,267.8C695.5,284.9 653.6,319.1 651.3,317.2C649.1,315.2 686.6,277 705.4,257.9C724.1,238.8 724.1,238.8 724.1,238.8" stroke="url(#gb)"/><path class="h" d="M737.4,250.7C737.4,250.7 737.4,250.7 716.4,267.7C695.3,284.8 653.2,318.9 649.9,315.9C646.5,313 681.9,273.1 699.5,253.1C717.2,233.2 717.2,233.2 717.2,233.2" stroke="url(#gb)"/><path class="h" d="M737.4,250.7C737.4,250.7 737.4,250.7 716.3,267.6C695.1,284.6 652.9,318.6 648.3,314.8C643.8,310.9 677,269.3 693.6,248.5C710.2,227.7 710.2,227.7 710.2,227.7" stroke="url(#gb)"/><path class="h" d="M737.4,250.7C737.4,250.7 737.4,250.7 715.1,267C692.8,283.4 648.1,316.2 627.8,304.3C607.4,292.4 611.4,235.9 613.3,207.6C615.3,179.4 615.3,179.4 615.3,179.4" stroke="url(#gb)"/><path class="h" d="M737.4,250.7C737.4,250.7 737.4,250.7 716.5,267.9C695.7,285.1 653.9,319.4 652.8,318.4C651.7,317.4 691.3,281 711.1,262.8C730.9,244.6 730.9,244.6 730.9,244.6" stroke="url(#gb)"/><path class="h" d="M737.4,250.7C737.4,250.7 737.4,250.7 716.2,267.6C695,284.5 652.5,318.3 646.8,313.6C641,308.9 672,265.7 687.5,244.1C703,222.5 703,222.5 703,222.5" stroke="url(#gb)"/><path class="h" d="M737.4,250.7C737.4,250.7 737.4,250.7 713.9,270.7C690.3,290.7 643.2,330.8 607.3,377.3C571.4,423.8 546.8,476.8 519.6,510C492.3,543.3 462.5,556.8 424.9,583.8C387.2,610.9 341.7,651.4 318.9,671.7C296.2,691.9 296.2,691.9 296.2,691.9" stroke="url(#gb)"/><path class="h" d="M737.4,250.7C737.4,250.7 737.4,250.7 716.9,268.2C696.3,285.7 655.2,320.7 658.3,323.9C661.4,327.1 708.7,298.5 732.4,284.2C756.1,269.8 756.1,269.8 756.1,269.8" stroke="url(#ga)"/><path class="h" d="M737.4,250.7C737.4,250.7 737.4,250.7 713.7,270.4C689.9,290.2 642.4,329.7 606.1,375.7C569.8,421.7 544.7,474.1 517.1,506.9C489.4,539.6 459.2,552.6 416.4,573.2C373.6,593.8 318.3,621.9 290.6,636C262.9,650.1 262.9,650.1 262.9,650.1" stroke="url(#gb)"/><path class="h" d="M743.8,256.9C743.8,256.9 743.8,256.9 719.5,276.1C695.1,295.4 646.5,333.9 609.9,379.8C573.4,425.6 549,478.8 522,512.3C495,545.8 465.5,559.6 431.7,590.3C398,621 360,668.7 341,692.6C322.1,716.4 322.1,716.4 322.1,716.4" stroke="url(#gb)"/><path class="h" d="M743.8,256.9C743.8,256.9 743.8,256.9 721.7,272.9C699.6,288.9 655.3,321 649.7,316.1C644.1,311.3 677.1,269.5 693.6,248.6C710.2,227.7 710.2,227.7 710.2,227.7" stroke="url(#gb)"/><path class="h" d="M743.8,256.9C743.8,256.9 743.8,256.9 720.5,272.3C697.2,287.7 650.6,318.6 629.2,305.6C607.7,292.7 611.5,236.1 613.4,207.7C615.3,179.4 615.3,179.4 615.3,179.4" stroke="url(#gb)"/><path class="h" d="M743.8,256.9C743.8,256.9 743.8,256.9 722,273.1C700.1,289.3 656.4,321.8 654.2,319.8C652,317.7 691.4,281.2 711.2,262.9C730.9,244.6 730.9,244.6 730.9,244.6" stroke="url(#gb)"/><path class="h" d="M743.8,256.9C743.8,256.9 743.8,256.9 722,273.2C700.3,289.5 656.7,322.1 655.6,321.1C654.5,320 696,285.4 716.7,268C737.4,250.7 737.4,250.7 737.4,250.7" stroke="url(#gb)"/><path class="h" d="M743.8,256.9C743.8,256.9 743.8,256.9 722.3,273.4C700.7,290 657.6,323.1 659.7,325.2C661.7,327.4 708.9,298.6 732.5,284.2C756.1,269.8 756.1,269.8 756.1,269.8" stroke="url(#ga)"/><path class="h" d="M743.8,256.9C743.8,256.9 743.8,256.9 719.1,275.7C694.4,294.6 645,332.3 607.7,377.3C570.4,422.3 545.3,474.7 517.6,507.3C489.8,540 459.5,552.9 416.7,573.4C373.8,594 318.4,622 290.7,636.1C262.9,650.1 262.9,650.1 262.9,650.1" stroke="url(#gb)"/><path class="h" d="M743.8,256.9C743.8,256.9 743.8,256.9 719.3,276C694.8,295.1 645.8,333.3 608.9,378.9C572.1,424.4 547.4,477.3 520.1,510.5C492.7,543.7 462.9,557.1 425.1,584.1C387.4,611 341.8,651.5 319,671.7C296.2,691.9 296.2,691.9 296.2,691.9" stroke="url(#gb)"/><path class="h" d="M750,263.3C750,263.3 750,263.3 727.3,278.6C704.5,293.9 659.1,324.6 657,322.5C654.9,320.4 696.1,285.5 716.8,268.1C737.4,250.7 737.4,250.7 737.4,250.7" stroke="url(#gb)"/><path class="h" d="M756.1,269.8C756.1,269.8 756.1,269.8 732.5,284.2C708.9,298.6 661.7,327.4 659.7,325.2C657.6,323.1 700.7,290 722.3,273.4C743.8,256.9 743.8,256.9 743.8,256.9" stroke="url(#gb)"/><path class="h" d="M756.1,269.8C756.1,269.8 756.1,269.8 732.4,284.2C708.7,298.5 661.4,327.1 658.3,323.9C655.2,320.7 696.3,285.7 716.9,268.2C737.4,250.7 737.4,250.7 737.4,250.7" stroke="url(#gb)"/><path class="h" d="M756.1,269.8C756.1,269.8 756.1,269.8 731.8,283.8C707.5,297.7 659,325.6 636.4,330.1C613.8,334.7 617.1,315.9 624.8,289.6C632.5,263.3 644.7,229.4 650.7,212.5C656.8,195.5 656.8,195.5 656.8,195.5" stroke="url(#gb)"/><path class="h" d="M756.1,269.8C756.1,269.8 756.1,269.8 729.5,286.8C703,303.7 650,337.6 610.8,380.6C571.6,423.6 546.4,475.8 518.5,508.3C490.6,540.8 460.2,553.6 417.1,573.9C374.1,594.3 318.5,622.2 290.7,636.1C262.9,650.1 262.9,650.1 262.9,650.1" stroke="url(#gb)"/><path d="M761.9,276.6C761.9,276.6 761.9,276.6 749.5,289.4C737.1,302.3 712.4,327.9 715.1,331.5C717.8,335 748,316.4 763.1,307.1C778.2,297.7 778.2,297.7 778.2,297.7"/><path d="M761.9,276.6C761.9,276.6 761.9,276.6 749.5,289.3C737,302.1 712.1,327.6 713.9,329.9C715.8,332.2 744.4,311.4 758.7,301C773,290.5 773,290.5 773,290.5"/><path d="M761.9,276.6C761.9,276.6 761.9,276.6 749.6,289.5C737.3,302.4 712.6,328.3 716.2,333.1C719.7,337.8 751.5,321.5 767.4,313.3C783.3,305.1 783.3,305.1 783.3,305.1"/><path d="M761.9,276.6C761.9,276.6 761.9,276.6 749.4,289.2C736.9,301.9 711.8,327.2 712.8,328.4C713.7,329.5 740.6,306.5 754.1,295C767.5,283.5 767.5,283.5 767.5,283.5"/><path d="M767.5,283.5C767.5,283.5 767.5,283.5 754.4,295.4C741.3,307.4 715,331.4 695.9,350.3C676.7,369.1 664.8,383 682.8,378.4C700.9,373.9 749,350.9 773,339.5C797.1,328 797.1,328 797.1,328"/><path d="M767.5,283.5C767.5,283.5 767.5,283.5 754.5,295.6C741.5,307.8 715.4,332.2 696.4,351.5C677.5,370.7 665.8,385 685.7,384.2C705.6,383.5 757.2,367.7 783.1,359.9C808.9,352 808.9,352 808.9,352"/><path d="M767.5,283.5C767.5,283.5 767.5,283.5 754.5,295.6C741.4,307.7 715.2,331.9 696.3,351C677.3,370.2 665.4,384.3 684.8,382.3C704.1,380.2 754.6,362.1 779.9,353C805.2,343.9 805.2,343.9 805.2,343.9"/><path d="M767.5,283.5C767.5,283.5 767.5,283.5 754.3,295.3C741,307 714.5,330.6 716.3,333C718.1,335.3 748.2,316.5 763.2,307.1C778.2,297.7 778.2,297.7 778.2,297.7"/><path d="M767.5,283.5C767.5,283.5 767.5,283.5 754.4,295.4C741.2,307.3 714.8,331.1 695.6,349.9C676.4,368.6 664.4,382.3 681.8,376.6C699.1,370.8 745.9,345.5 769.3,332.9C792.7,320.2 792.7,320.2 792.7,320.2"/><path d="M767.5,283.5C767.5,283.5 767.5,283.5 754.3,295.3C741.1,307.2 714.7,330.8 695.4,349.5C676.1,368.1 664,381.7 680.7,374.7C697.3,367.7 742.7,340.2 765.4,326.4C788.1,312.6 788.1,312.6 788.1,312.6"/><path d="M773,290.5C773,290.5 773,290.5 759,301.4C745.1,312.4 717.2,334.2 697.2,352C677.2,369.7 665.1,383.5 683.1,378.8C701.1,374.1 749.1,351.1 773.1,339.5C797.1,328 797.1,328 797.1,328"/><path d="M773,290.5C773,290.5 773,290.5 759.1,301.6C745.3,312.8 717.5,335 697.8,353.2C678,371.3 666.1,385.5 686,384.6C705.8,383.7 757.3,367.9 783.1,359.9C808.9,352 808.9,352 808.9,352"/><path d="M773,290.5C773,290.5 773,290.5 759.1,301.6C745.2,312.6 717.4,334.7 697.6,352.8C677.7,370.8 665.8,384.8 685.1,382.6C704.3,380.5 754.7,362.2 779.9,353C805.2,343.9 805.2,343.9 805.2,343.9"/><path d="M773,290.5C773,290.5 773,290.5 758.9,301.2C744.8,311.9 716.6,333.3 717.5,334.5C718.4,335.7 748.3,316.7 763.3,307.2C778.2,297.7 778.2,297.7 778.2,297.7"/><path d="M773,290.5C773,290.5 773,290.5 759,301.4C745,312.2 717,333.9 696.9,351.6C676.9,369.2 664.8,382.8 682,376.9C699.3,371 746,345.6 769.3,332.9C792.7,320.2 792.7,320.2 792.7,320.2"/><path d="M773,290.5C773,290.5 773,290.5 759,301.3C744.9,312.1 716.9,333.7 696.7,351.2C676.6,368.7 664.4,382.2 680.9,375.1C697.5,368 742.8,340.3 765.4,326.4C788.1,312.6 788.1,312.6 788.1,312.6"/><path d="M778.2,297.7C778.2,297.7 778.2,297.7 763.5,307.6C748.7,317.4 719.2,337.1 698.4,353.7C677.6,370.3 665.5,383.9 683.4,379.2C701.3,374.4 749.2,351.2 773.1,339.6C797.1,328 797.1,328 797.1,328"/><path d="M778.2,297.7C778.2,297.7 778.2,297.7 763.4,307.5C748.7,317.3 719.1,336.8 698.2,353.3C677.3,369.8 665.1,383.3 682.3,377.3C699.5,371.3 746.1,345.8 769.4,333C792.7,320.2 792.7,320.2 792.7,320.2"/><path d="M783.3,305.1C783.3,305.1 783.3,305.1 767.8,313.8C752.3,322.6 721.3,340 699.6,355.5C678,371 665.8,384.4 683.6,379.5C701.4,374.6 749.2,351.3 773.2,339.7C797.1,328 797.1,328 797.1,328"/><path d="M783.3,305.1C783.3,305.1 783.3,305.1 767.9,314C752.5,323 721.7,340.8 700.2,356.7C678.8,372.6 666.8,386.4 686.5,385.3C706.1,384.2 757.5,368.1 783.2,360C808.9,352 808.9,352 808.9,352"/><path d="M783.3,305.1C783.3,305.1 783.3,305.1 767.8,314C752.4,322.8 721.5,340.5 700.1,356.3C678.6,372 666.5,385.8 685.6,383.4C704.7,381 754.9,362.4 780,353.2C805.2,343.9 805.2,343.9 805.2,343.9"/><path d="M783.3,305.1C783.3,305.1 783.3,305.1 767.6,313.6C751.9,322 720.5,338.9 719.7,337.7C718.9,336.4 748.5,317.1 763.4,307.4C778.2,297.7 778.2,297.7 778.2,297.7"/><path d="M783.3,305.1C783.3,305.1 783.3,305.1 767.7,313.8C752.2,322.4 721.1,339.8 699.4,355.1C677.7,370.4 665.5,383.8 682.6,377.6C699.7,371.5 746.2,345.9 769.4,333.1C792.7,320.2 792.7,320.2 792.7,320.2"/><path d="M783.3,305.1C783.3,305.1 783.3,305.1 767.7,313.7C752.1,322.3 721,339.5 699.2,354.7C677.4,369.9 665.1,383.2 681.4,375.8C697.8,368.5 743,340.5 765.5,326.6C788.1,312.6 788.1,312.6 788.1,312.6"/><path d="M783.3,305.1C783.3,305.1 783.3,305.1 765,315.4C746.8,325.6 710.4,346.2 683.3,364.7C656.3,383.2 638.7,399.8 612.2,428C585.8,456.2 550.5,496 518.2,521.7C485.8,547.3 456.3,558.8 414.2,577.8C372.2,596.9 317.6,623.5 290.3,636.8C262.9,650.1 262.9,650.1 262.9,650.1"/><path d="M788.1,312.6C788.1,312.6 788.1,312.6 765.8,327.1C743.6,341.6 699,370.7 702.5,377.2C706,383.8 757.4,367.9 783.1,359.9C808.9,352 808.9,352 808.9,352"/><path d="M792.7,320.2C792.7,320.2 792.7,320.2 769.5,333.1C746.2,345.9 699.8,371.6 699,370.4C698.2,369.1 743.1,340.8 765.6,326.7C788.1,312.6 788.1,312.6 788.1,312.6"/><path d="M792.7,320.2C792.7,320.2 792.7,320.2 767,336C741.4,351.7 690.1,383.1 647,419.8C603.8,456.4 568.9,498.4 536.8,526.1C504.7,553.9 475.4,567.4 452.7,604.6C430,641.8 413.7,702.6 405.6,733C397.5,763.4 397.5,763.4 397.5,763.4"/><path d="M797.1,328C797.1,328 797.1,328 773.4,340C749.7,352.1 702.3,376.2 703.6,378.8C705,381.5 755.1,362.7 780.1,353.3C805.2,343.9 805.2,343.9 805.2,343.9"/><path d="M801.2,335.9C801.2,335.9 801.2,335.9 776.7,346.3C752.1,356.7 702.9,377.5 684.4,381.1C665.8,384.6 677.9,370.9 698.6,354.1C719.4,337.3 748.8,317.5 763.5,307.6C778.2,297.7 778.2,297.7 778.2,297.7"/><path d="M801.2,335.9C801.2,335.9 801.2,335.9 776.5,346.1C751.8,356.4 702.4,376.8 683.6,380C664.7,383.2 676.5,369.1 694.7,349C712.9,328.9 737.4,302.7 749.6,289.6C761.9,276.6 761.9,276.6 761.9,276.6"/><path d="M801.2,335.9C801.2,335.9 801.2,335.9 776.7,346.4C752.2,356.9 703.3,378 701.8,375.4C700.4,372.8 746.5,346.5 769.6,333.4C792.7,320.2 792.7,320.2 792.7,320.2"/><path d="M801.2,335.9C801.2,335.9 801.2,335.9 776.8,346.5C752.4,357.1 703.5,378.4 702.8,377.1C702.1,375.8 749.6,351.9 773.3,339.9C797.1,328 797.1,328 797.1,328"/><path d="M805.2,343.9C805.2,343.9 805.2,343.9 780.1,353.2C755,362.5 704.8,381.1 702.7,377.1C700.6,373.2 746.6,346.7 769.7,333.5C792.7,320.2 792.7,320.2 792.7,320.2"/><path d="M808.9,352C808.9,352 808.9,352 783.1,359.9C757.4,367.9 706,383.8 702.5,377.2C699,370.7 743.6,341.6 765.8,327.1C788.1,312.6 788.1,312.6 788.1,312.6"/><path d="M815.6,368.5C815.6,368.5 815.6,368.5 790.8,377.9C765.9,387.3 716.3,406.1 715.8,404.8C715.2,403.4 763.8,381.8 788.1,371C812.3,360.2 812.3,360.2 812.3,360.2"/><path d="M818.6,376.9C818.6,376.9 818.6,376.9 793.3,385C768,393.1 717.5,409.4 716.4,406.6C715.4,403.8 763.9,382 788.1,371.1C812.3,360.2 812.3,360.2 812.3,360.2"/><path d="M821.3,385.4C821.3,385.4 821.3,385.4 795.6,392.2C769.9,399 718.5,412.6 717,408.4C715.5,404.2 763.9,382.2 788.1,371.2C812.3,360.2 812.3,360.2 812.3,360.2"/><path d="M823.8,393.9C823.8,393.9 823.8,393.9 798.2,400.8C772.6,407.7 721.3,421.5 678.5,441.8C635.8,462.1 601.6,488.8 601,487.2C600.5,485.6 633.7,455.6 674.5,429.7C715.4,403.8 763.8,382 788.1,371.1C812.3,360.2 812.3,360.2 812.3,360.2"/><path d="M823.8,393.9C823.8,393.9 823.8,393.9 798.1,400.6C772.4,407.3 720.9,420.7 678,440.6C635,460.5 600.6,486.8 598.3,481.4C595.9,476 625.6,438.7 664.1,407.9C702.6,377 749.8,352.5 773.4,340.3C797.1,328 797.1,328 797.1,328"/><path d="M823.8,393.9C823.8,393.9 823.8,393.9 796.4,399.6C768.9,405.3 714,416.7 667.5,434.5C621.1,452.4 583.2,476.7 547.3,469.2C511.5,461.7 477.6,422.5 473.2,366.6C468.7,310.7 493.7,238.1 506.2,201.8C518.6,165.5 518.6,165.5 518.6,165.5"/><path d="M823.8,393.9C823.8,393.9 823.8,393.9 795.3,402C766.7,410 709.7,426.1 661.1,448.6C612.5,471.2 572.5,500.2 534.5,497.4C496.4,494.6 460.5,460.1 429.9,463.1C399.4,466 374.3,506.5 341.5,532C308.6,557.5 268.1,567.9 247.9,573.1C227.6,578.3 227.6,578.3 227.6,578.3"/><path d="M823.8,393.9C823.8,393.9 823.8,393.9 795.4,402.1C766.9,410.3 709.9,426.7 661.5,449.6C613.1,472.5 573.2,501.8 535.3,499.4C497.4,496.9 461.5,462.7 431.1,466C400.7,469.3 375.7,510.2 345,540.6C314.2,571.1 277.6,591.2 259.3,601.3C241,611.3 241,611.3 241,611.3"/><path d="M823.8,393.9C823.8,393.9 823.8,393.9 795.2,401.4C766.6,409 709.3,424 660.6,445.5C611.9,466.9 571.7,494.9 533.5,491.1C495.3,487.3 459.1,451.7 426.8,439.1C394.6,426.5 366.2,437 330.9,446.5C295.5,456 253.3,464.6 232.1,468.9C211,473.1 211,473.1 211,473.1"/><path d="M826.1,402.6C826.1,402.6 826.1,402.6 800.8,411.2C775.5,419.9 724.8,437.2 726.1,444.5C727.3,451.8 780.5,449.1 807.1,447.8C833.7,446.4 833.7,446.4 833.7,446.4"/><path d="M826.1,402.6C826.1,402.6 826.1,402.6 800.8,411.1C775.4,419.7 724.8,436.8 725.9,442.6C727,448.4 779.8,443 806.2,440.3C832.7,437.6 832.7,437.6 832.7,437.6"/><path d="M826.1,402.6C826.1,402.6 826.1,402.6 800.7,410.9C775.4,419.2 724.6,435.9 725.3,438.8C725.9,441.7 777.9,430.8 803.9,425.4C829.9,420 829.9,420 829.9,420"/><path d="M828.1,411.2C828.1,411.2 828.1,411.2 802.5,418.6C776.9,425.9 725.6,440.5 726.5,446.4C727.4,452.3 780.6,449.4 807.1,447.9C833.7,446.4 833.7,446.4 833.7,446.4"/><path d="M828.1,411.2C828.1,411.2 828.1,411.2 802.5,418.5C776.8,425.7 725.5,440.1 726.3,444.5C727.1,448.9 779.9,443.2 806.3,440.4C832.7,437.6 832.7,437.6 832.7,437.6"/><path d="M828.1,411.2C828.1,411.2 828.1,411.2 802.4,418.2C776.8,425.2 725.4,439.2 725.7,440.7C726,442.1 777.9,431.1 803.9,425.5C829.9,420 829.9,420 829.9,420"/><path d="M829.9,420C829.9,420 829.9,420 804,426C778.1,431.9 726.3,443.9 726.9,448.3C727.5,452.7 780.6,449.6 807.2,448C833.7,446.4 833.7,446.4 833.7,446.4"/><path d="M831.4,428.8C831.4,428.8 831.4,428.8 805.3,433.4C779.1,438 726.8,447.3 727.2,450.2C727.6,453.1 780.7,449.8 807.2,448.1C833.7,446.4 833.7,446.4 833.7,446.4"/><path d="M831.4,428.8C831.4,428.8 831.4,428.8 805.3,433.3C779.1,437.8 726.8,446.8 727,448.3C727.2,449.8 779.9,443.7 806.3,440.6C832.7,437.6 832.7,437.6 832.7,437.6"/><path d="M831.4,428.8C831.4,428.8 831.4,428.8 805.2,433.1C779,437.4 726.7,445.9 726.4,444.5C726.2,443 778,431.5 804,425.7C829.9,420 829.9,420 829.9,420"/><path d="M833.7,446.4C833.7,446.4 833.7,446.4 807.2,448.2C780.7,450 727.7,453.6 727.5,452.1C727.3,450.6 780,444.1 806.3,440.9C832.7,437.6 832.7,437.6 832.7,437.6"/><path d="M833.7,446.4C833.7,446.4 833.7,446.4 807.2,448.1C780.7,449.8 727.6,453.1 727.2,450.2C726.8,447.3 779.1,438 805.3,433.4C831.4,428.8 831.4,428.8 831.4,428.8"/><path d="M833.7,446.4C833.7,446.4 833.7,446.4 807.1,447.8C780.5,449.1 727.3,451.8 726.1,444.5C724.8,437.2 775.5,419.9 800.8,411.2C826.1,402.6 826.1,402.6 826.1,402.6"/><path d="M833.7,446.4C833.7,446.4 833.7,446.4 807.1,447.9C780.6,449.4 727.4,452.3 726.5,446.4C725.6,440.5 776.9,425.9 802.5,418.6C828.1,411.2 828.1,411.2 828.1,411.2"/><path d="M833.7,446.4C833.7,446.4 833.7,446.4 807.2,448.5C780.7,450.5 727.8,454.5 727.9,456C728,457.4 781.2,456.4 807.8,455.9C834.5,455.3 834.5,455.3 834.5,455.3"/><path d="M833.7,446.4C833.7,446.4 833.7,446.4 807.2,448.6C780.7,450.7 727.8,454.9 728,457.9C728.2,460.8 781.6,462.5 808.3,463.4C835,464.2 835,464.2 835,464.2"/><path d="M833.7,446.4C833.7,446.4 833.7,446.4 807.2,448C780.6,449.6 727.5,452.7 726.9,448.3C726.3,443.9 778.1,431.9 804,426C829.9,420 829.9,420 829.9,420"/><path d="M834.5,455.3C834.5,455.3 834.5,455.3 807.8,455.7C781.2,456.2 728,457 727.7,454C727.4,451.1 780,444.3 806.3,441C832.7,437.6 832.7,437.6 832.7,437.6"/><path d="M835,464.2C835,464.2 835,464.2 808.3,463.4C781.6,462.5 728.2,460.8 728,457.9C727.8,454.9 780.7,450.7 807.2,448.6C833.7,446.4 833.7,446.4 833.7,446.4"/><path d="M835,464.2C835,464.2 835,464.2 808.3,463.3C781.6,462.3 728.2,460.4 727.8,456C727.4,451.5 780,444.6 806.4,441.1C832.7,437.6 832.7,437.6 832.7,437.6"/><path d="M835,464.2C835,464.2 835,464.2 808.3,463.5C781.6,462.8 728.2,461.3 728.2,459.8C728.1,458.3 781.3,456.8 807.9,456.1C834.5,455.3 834.5,455.3 834.5,455.3"/><path d="M835,464.2C835,464.2 835,464.2 808.2,463.1C781.5,461.9 728,459.5 727.2,452.2C726.3,444.8 778.1,432.4 804,426.2C829.9,420 829.9,420 829.9,420"/><path d="M835.2,473.1C835.2,473.1 835.2,473.1 802.8,487.9C770.4,502.7 705.6,532.2 703.7,546.9C701.8,561.6 762.8,561.4 793.3,561.3C823.8,561.3 823.8,561.3 823.8,561.3"/><path d="M835.2,482.1C835.2,482.1 835.2,482.1 802.9,495C770.6,508 706,533.9 705.4,541.3C704.7,548.7 768.1,537.5 799.7,532C831.4,526.4 831.4,526.4 831.4,526.4"/><path d="M835.2,482.1C835.2,482.1 835.2,482.1 802.8,495.4C770.4,508.8 705.6,535.6 703.7,548.8C701.8,562 762.8,561.6 793.3,561.4C823.8,561.3 823.8,561.3 823.8,561.3"/><path d="M835,491C835,491 835,491 802.7,502.3C770.5,513.7 706,536.4 705.8,539.4C705.6,542.3 769.6,525.5 801.7,517.1C833.7,508.8 833.7,508.8 833.7,508.8"/><path d="M835,491C835,491 835,491 802.6,503C770.2,515 705.5,539 703.7,550.7C701.8,562.5 762.8,561.9 793.3,561.6C823.8,561.3 823.8,561.3 823.8,561.3"/><path d="M834.5,499.9C834.5,499.9 834.5,499.9 802.2,510.5C769.9,521.2 705.3,542.4 703.6,552.7C701.8,562.9 762.8,562.1 793.3,561.7C823.8,561.3 823.8,561.3 823.8,561.3"/><path d="M834.5,499.9C834.5,499.9 834.5,499.9 802.3,509.4C770.2,519 705.9,538 706,533.6C706.2,529.1 770.7,501.1 803,487.1C835.2,473.1 835.2,473.1 835.2,473.1"/><path d="M833.7,508.8C833.7,508.8 833.7,508.8 801.5,518C769.4,527.3 705,545.9 703.4,554.6C701.8,563.4 762.8,562.3 793.3,561.8C823.8,561.3 823.8,561.3 823.8,561.3"/><path d="M832.7,517.6C832.7,517.6 832.7,517.6 797.4,528.3C762.1,539.1 691.6,560.5 646.7,605.5C601.8,650.4 582.4,718.8 572.8,753C563.1,787.2 563.1,787.2 563.1,787.2"/><path d="M832.7,517.6C832.7,517.6 832.7,517.6 800.8,524.9C768.9,532.1 705.1,546.6 705.3,545.1C705.5,543.7 769.6,526.2 801.6,517.5C833.7,508.8 833.7,508.8 833.7,508.8"/><path d="M832.7,517.6C832.7,517.6 832.7,517.6 800.7,525.5C768.7,533.4 704.6,549.2 703.2,556.5C701.7,563.8 762.8,562.5 793.3,561.9C823.8,561.3 823.8,561.3 823.8,561.3"/><path d="M832.7,517.6C832.7,517.6 832.7,517.6 797.3,528.4C761.9,539.1 691.2,560.6 644.8,605.7C598.4,650.8 576.3,719.5 565.3,753.8C554.3,788.2 554.3,788.2 554.3,788.2"/><path d="M831.4,526.4C831.4,526.4 831.4,526.4 799.6,533C767.8,539.5 704.2,552.6 702.9,558.4C701.6,564.2 762.7,562.7 793.3,562C823.8,561.3 823.8,561.3 823.8,561.3"/><path d="M829.9,535.2C829.9,535.2 829.9,535.2 798.3,540.4C766.7,545.6 703.6,556 702.6,560.3C701.6,564.7 762.7,563 793.3,562.1C823.8,561.3 823.8,561.3 823.8,561.3"/><path d="M829.9,535.2C829.9,535.2 829.9,535.2 798.5,539.3C767,543.4 704.1,551.6 705,541.2C705.9,530.9 770.6,502 802.9,487.6C835.2,473.1 835.2,473.1 835.2,473.1"/><path d="M828.1,544C828.1,544 828.1,544 796.7,548C765.4,552.1 702.6,560.2 701,565.9C699.5,571.6 759,575 788.8,576.6C818.6,578.3 818.6,578.3 818.6,578.3"/><path d="M826.1,552.6C826.1,552.6 826.1,552.6 795.1,555.1C764.1,557.7 702.1,562.7 701.7,564.1C701.4,565.5 762.6,563.4 793.2,562.3C823.8,561.3 823.8,561.3 823.8,561.3"/><path d="M826.1,552.6C826.1,552.6 826.1,552.6 795.2,554C764.4,555.5 702.7,558.3 704.2,545C705.7,531.8 770.5,502.5 802.8,487.8C835.2,473.1 835.2,473.1 835.2,473.1"/><path d="M823.8,561.3C823.8,561.3 823.8,561.3 789.3,565.3C754.7,569.3 685.6,577.4 633.2,615.4C580.9,653.5 545.3,721.5 527.5,755.5C509.7,789.5 509.7,789.5 509.7,789.5"/><path d="M823.8,561.3C823.8,561.3 823.8,561.3 793,562.9C762.3,564.5 700.7,567.7 698.8,573.3C696.9,578.9 754.6,587 783.5,591C812.3,595 812.3,595 812.3,595"/><path d="M823.8,561.3C823.8,561.3 823.8,561.3 793.2,562.5C762.5,563.8 701.1,566.4 700.7,567.8C700.3,569.3 760.8,569.5 791.1,569.7C821.3,569.8 821.3,569.8 821.3,569.8"/><path d="M823.8,561.3C823.8,561.3 823.8,561.3 790.1,563.4C756.4,565.6 688.9,570 640.1,569C591.3,568 561.2,561.6 530.9,563.5C500.6,565.3 470.1,575.4 436.5,603.2C402.8,630.9 365.9,676.5 347.4,699.3C329,722 329,722 329,722"/><path d="M823.8,561.3C823.8,561.3 823.8,561.3 793,563C762.2,564.7 700.5,568.1 698,575.1C695.5,582.1 752.2,592.6 780.5,597.9C808.9,603.2 808.9,603.2 808.9,603.2"/><path d="M823.8,561.3C823.8,561.3 823.8,561.3 790.1,563.5C756.4,565.7 689.1,570.1 640.4,569.2C591.7,568.3 561.6,562 531.4,563.9C501.2,565.8 470.8,575.9 438.3,604.5C405.7,633.2 370.8,680.3 353.4,703.9C336,727.5 336,727.5 336,727.5"/><path d="M823.8,561.3C823.8,561.3 823.8,561.3 793.1,562.8C762.3,564.3 700.8,567.3 699.5,571.5C698.1,575.7 756.8,581.2 786.2,583.9C815.6,586.7 815.6,586.7 815.6,586.7"/><path d="M821.3,569.8C821.3,569.8 821.3,569.8 791.1,569.7C760.8,569.5 700.3,569.3 700.7,567.8C701.1,566.4 762.5,563.8 793.2,562.5C823.8,561.3 823.8,561.3 823.8,561.3"/><path d="M818.6,578.3C818.6,578.3 818.6,578.3 788.8,576.6C759,575 699.5,571.6 701,565.9C702.6,560.2 765.4,552.1 796.7,548C828.1,544 828.1,544 828.1,544"/><path d="M818.6,578.3C818.6,578.3 818.6,578.3 788.8,576.4C759.1,574.5 699.6,570.8 701.8,562.1C703.9,553.5 767.7,540 799.5,533.2C831.4,526.4 831.4,526.4 831.4,526.4"/><path d="M818.6,578.3C818.6,578.3 818.6,578.3 788.7,576.8C758.9,575.4 699.2,572.5 700.1,569.7C701,566.8 762.4,564 793.1,562.7C823.8,561.3 823.8,561.3 823.8,561.3"/><path d="M818.6,578.3C818.6,578.3 818.6,578.3 785,579.7C751.5,581.1 684.4,583.9 635.9,619.2C587.4,654.4 557.5,722.1 542.5,755.9C527.6,789.7 527.6,789.7 527.6,789.7"/><path d="M815.6,586.7C815.6,586.7 815.6,586.7 786.2,583.9C756.8,581.2 698.1,575.7 699.5,571.5C700.8,567.3 762.3,564.3 793.1,562.8C823.8,561.3 823.8,561.3 823.8,561.3"/><path d="M812.3,595C812.3,595 812.3,595 783.5,591C754.6,587 696.9,578.9 698.8,573.3C700.7,567.7 762.3,564.5 793,562.9C823.8,561.3 823.8,561.3 823.8,561.3"/><path d="M808.9,603.2C808.9,603.2 808.9,603.2 780.5,597.9C752.2,592.6 695.5,582.1 698,575.1C700.5,568.1 762.2,564.7 793,563C823.8,561.3 823.8,561.3 823.8,561.3"/><path d="M805.2,611.3C805.2,611.3 805.2,611.3 777.5,604.1C749.9,596.9 694.6,582.5 699.4,565.4C704.1,548.4 768.9,528.6 801.3,518.7C833.7,508.8 833.7,508.8 833.7,508.8"/><path d="M805.2,611.3C805.2,611.3 805.2,611.3 777.4,604.8C749.6,598.2 694.1,585.2 697.2,576.8C700.3,568.5 762.1,564.9 793,563.1C823.8,561.3 823.8,561.3 823.8,561.3"/><path d="M805.2,611.3C805.2,611.3 805.2,611.3 773.7,607.6C742.2,604 679.3,596.6 633,626.3C586.8,656.1 557.2,722.9 542.4,756.3C527.6,789.7 527.6,789.7 527.6,789.7"/><path d="M801.2,619.3C801.2,619.3 801.2,619.3 774.1,611.5C746.9,603.8 692.6,588.2 696.4,578.6C700.1,568.9 762,565.1 792.9,563.2C823.8,561.3 823.8,561.3 823.8,561.3"/><path d="M801.2,619.3C801.2,619.3 801.2,619.3 774.2,610.4C747.2,601.6 693.2,583.8 698.8,559.5C704.5,535.1 769.9,504.1 802.5,488.6C835.2,473.1 835.2,473.1 835.2,473.1"/><path d="M797.1,627.2C797.1,627.2 797.1,627.2 774.2,626.3C751.3,625.5 705.5,623.7 679.2,613.3C653,602.9 646.4,583.7 675.6,561.9C704.8,540.1 769.9,515.5 802.4,503.2C835,491 835,491 835,491"/><path d="M797.1,627.2C797.1,627.2 797.1,627.2 772.3,629C747.5,630.9 698,634.5 677.3,655.2C656.5,676 664.6,713.8 668.7,732.7C672.7,751.6 672.7,751.6 672.7,751.6"/><path d="M792.7,635C792.7,635 792.7,635 770.4,632.9C748.2,630.8 703.7,626.6 678.2,614.7C652.7,602.9 646.1,583.5 675.4,560.1C704.8,536.8 770,509.4 802.6,495.7C835.2,482.1 835.2,482.1 835.2,482.1"/><path d="M792.7,635C792.7,635 792.7,635 768.6,635.6C744.5,636.2 696.3,637.5 676.3,656.9C656.3,676.4 664.5,714 668.6,732.8C672.7,751.6 672.7,751.6 672.7,751.6"/><path d="M788.1,642.6C788.1,642.6 788.1,642.6 766.5,639.5C745,636.4 701.9,630.2 677,617.5C652.2,604.8 645.7,585.5 675,564.8C704.3,544.1 769.4,522 801.9,510.9C834.5,499.9 834.5,499.9 834.5,499.9"/><path d="M788.1,642.6C788.1,642.6 788.1,642.6 764.7,642C741.3,641.5 694.5,640.4 675.3,658.6C656.1,676.7 664.4,714.1 668.5,732.9C672.7,751.6 672.7,751.6 672.7,751.6"/><path d="M783.3,650.1C783.3,650.1 783.3,650.1 762.4,646.2C741.5,642.2 699.8,634.4 675.7,621.1C651.5,607.7 645,589 673.7,573.7C702.3,558.5 766.1,546.9 798,541C829.9,535.2 829.9,535.2 829.9,535.2"/><path d="M783.3,650.1C783.3,650.1 783.3,650.1 760.6,648.4C738,646.7 692.7,643.3 674.3,660.2C655.8,677.1 664.3,714.3 668.5,733C672.7,751.6 672.7,751.6 672.7,751.6"/><path d="M778.2,657.5C778.2,657.5 778.2,657.5 758.1,652.6C737.9,647.7 697.6,637.9 674.2,623.7C650.9,609.5 644.4,590.9 672.5,578.3C700.6,565.7 763.4,559.2 794.7,555.9C826.1,552.6 826.1,552.6 826.1,552.6"/><path d="M778.2,657.5C778.2,657.5 778.2,657.5 756.4,654.6C734.5,651.8 690.8,646.1 673.2,661.8C655.6,677.5 664.1,714.5 668.4,733C672.7,751.6 672.7,751.6 672.7,751.6"/><path d="M773,664.7C773,664.7 773,664.7 753.7,658.2C734.4,651.7 695.8,638.7 673.4,622.4C651,606 644.8,586.2 674.4,563.8C704,541.3 769.5,516.1 802.2,503.6C835,491 835,491 835,491"/><path d="M773,664.7C773,664.7 773,664.7 751.9,660.7C730.9,656.8 688.8,648.9 672,663.4C655.3,677.8 664,714.7 668.4,733.1C672.7,751.6 672.7,751.6 672.7,751.6"/><path d="M767.5,671.7C767.5,671.7 767.5,671.7 749.1,664.4C730.6,657.1 693.6,642.4 672,625.4C650.4,608.4 644.2,588.9 673.6,570.6C702.9,552.2 767.8,534.9 800.2,526.3C832.7,517.6 832.7,517.6 832.7,517.6"/><path d="M767.5,671.7C767.5,671.7 767.5,671.7 747.3,666.7C727.1,661.6 686.7,651.6 670.9,664.9C655.1,678.2 663.9,714.9 668.3,733.2C672.7,751.6 672.7,751.6 672.7,751.6"/><path d="M761.9,678.6C761.9,678.6 761.9,678.6 744.1,670.8C726.4,662.9 690.9,647.2 669.9,630.1C649,613 642.7,594.5 669.9,585.6C697.1,576.7 757.8,577.5 788.2,577.9C818.6,578.3 818.6,578.3 818.6,578.3"/><path d="M761.9,678.6C761.9,678.6 761.9,678.6 742.6,672.5C723.2,666.4 684.5,654.2 669.6,666.4C654.8,678.5 663.7,715.1 668.2,733.3C672.7,751.6 672.7,751.6 672.7,751.6"/><path d="M756.1,685.4C756.1,685.4 756.1,685.4 739.3,676C722.5,666.6 689,647.9 669.2,628.7C649.5,609.5 643.5,589.8 673,571.2C702.5,552.7 767.6,535.1 800.1,526.4C832.7,517.6 832.7,517.6 832.7,517.6"/><path d="M756.1,685.4C756.1,685.4 756.1,685.4 737.6,678.2C719.2,671.1 682.3,656.8 668.4,667.8C654.5,678.9 663.6,715.2 668.1,733.4C672.7,751.6 672.7,751.6 672.7,751.6"/><path d="M750,691.9C750,691.9 750,691.9 734.2,681.6C718.3,671.2 686.6,650.5 667.8,630.3C649,610.1 643.1,590.3 672.7,571.6C702.3,552.9 767.5,535.2 800.1,526.4C832.7,517.6 832.7,517.6 832.7,517.6"/><path d="M750,691.9C750,691.9 750,691.9 732.5,683.8C715,675.6 680,659.3 667.1,669.3C654.2,679.2 663.4,715.4 668.1,733.5C672.7,751.6 672.7,751.6 672.7,751.6"/><path d="M743.8,698.3C743.8,698.3 743.8,698.3 728.7,687.6C713.7,676.9 683.5,655.4 665.4,635.3C647.3,615.2 641.2,596.5 668.3,588.6C695.3,580.7 755.4,583.7 785.5,585.2C815.6,586.7 815.6,586.7 815.6,586.7"/><path d="M743.8,698.3C743.8,698.3 743.8,698.3 727.3,689.2C710.7,680 677.6,661.8 665.7,670.6C653.9,679.5 663.3,715.5 668,733.6C672.7,751.6 672.7,751.6 672.7,751.6"/><path d="M737.4,704.5C737.4,704.5 737.4,704.5 723.3,692.9C709.1,681.3 680.9,658.1 663.7,637.2C646.5,616.3 640.5,597.6 667.2,590.9C693.8,584.2 753.1,589.6 782.7,592.3C812.3,595 812.3,595 812.3,595"/><path d="M737.4,704.5C737.4,704.5 737.4,704.5 721.9,694.4C706.3,684.3 675.1,664.2 664.3,672C653.5,679.8 663.1,715.7 667.9,733.6C672.7,751.6 672.7,751.6 672.7,751.6"/><path d="M730.9,710.6C730.9,710.6 730.9,710.6 717.9,697.4C704.9,684.3 678.9,658 663.1,634.8C647.4,611.6 641.8,591.5 671.7,572.5C701.7,553.5 767.2,535.6 799.9,526.6C832.7,517.6 832.7,517.6 832.7,517.6"/><path d="M730.9,710.6C730.9,710.6 730.9,710.6 716.3,699.5C701.7,688.5 672.6,666.5 662.9,673.3C653.2,680.1 663,715.8 667.8,733.7C672.7,751.6 672.7,751.6 672.7,751.6"/><path d="M724.1,716.4C724.1,716.4 724.1,716.4 712.1,702.4C700.2,688.4 676.2,660.3 661.5,636.2C646.8,612.1 641.3,591.9 671.4,572.8C701.5,553.7 767.1,535.6 799.9,526.6C832.7,517.6 832.7,517.6 832.7,517.6"/><path d="M724.1,716.4C724.1,716.4 724.1,716.4 710.6,704.5C697.1,692.6 670,668.7 661.5,674.6C652.9,680.4 662.8,716 667.7,733.8C672.7,751.6 672.7,751.6 672.7,751.6"/><path d="M717.2,722C717.2,722 717.2,722 706,708C694.8,694 672.4,666 658.3,642.7C644.1,619.3 638.3,600.8 663.5,597.7C688.7,594.6 744.9,606.9 773.1,613.1C801.2,619.3 801.2,619.3 801.2,619.3"/><path d="M717.2,722C717.2,722 717.2,722 704.8,709.2C692.3,696.5 667.4,670.9 660,675.8C652.5,680.7 662.6,716.1 667.7,733.9C672.7,751.6 672.7,751.6 672.7,751.6"/><path d="M710.2,727.5C710.2,727.5 710.2,727.5 698.1,714C686.1,700.6 661.9,673.7 645.1,652.3C628.2,630.9 618.7,615 607.7,638.2C596.7,661.4 584.3,723.6 578.1,754.8C571.9,785.9 571.9,785.9 571.9,785.9"/><path d="M710.2,727.5C710.2,727.5 710.2,727.5 698.8,713.9C687.4,700.2 664.7,673 658.4,677C652.2,681 662.4,716.3 667.6,733.9C672.7,751.6 672.7,751.6 672.7,751.6"/><path d="M703,732.7C703,732.7 703,732.7 694.2,716C685.4,699.3 667.8,666 656.5,638.8C645.2,611.7 640.1,590.8 670.9,567.2C701.7,543.6 768.3,517.3 801.6,504.1C835,491 835,491 835,491"/><path d="M703,732.7C703,732.7 703,732.7 692.7,718.3C682.4,703.8 661.9,675 656.9,678.1C651.8,681.2 662.3,716.4 667.5,734C672.7,751.6 672.7,751.6 672.7,751.6"/><path d="M695.6,737.8C695.6,737.8 695.6,737.8 687.9,720.3C680.2,702.9 664.9,668 654.7,640C644.6,612.1 639.6,591.1 670.5,567.4C701.4,543.7 768.2,517.4 801.6,504.2C835,491 835,491 835,491"/><path d="M695.6,737.8C695.6,737.8 695.6,737.8 686.5,722.5C677.3,707.3 659.1,676.9 655.3,679.2C651.5,681.5 662.1,716.5 667.4,734C672.7,751.6 672.7,751.6 672.7,751.6"/><path d="M688.1,742.6C688.1,742.6 688.1,742.6 681.5,724.6C674.9,706.7 661.8,670.8 652.8,642.5C643.8,614.3 638.9,593.7 669.6,574.1C700.3,554.6 766.5,536.1 799.6,526.8C832.7,517.6 832.7,517.6 832.7,517.6"/><path d="M688.1,742.6C688.1,742.6 688.1,742.6 680.1,726.6C672.2,710.7 656.2,678.7 653.6,680.2C651.1,681.7 661.9,716.6 667.3,734.1C672.7,751.6 672.7,751.6 672.7,751.6"/><path d="M680.5,747.2C680.5,747.2 680.5,747.2 672.8,730.8C665.1,714.4 649.8,681.6 637.5,657.1C625.2,632.6 616,616.4 604.1,639.5C592.2,662.5 577.6,724.9 570.4,756C563.1,787.2 563.1,787.2 563.1,787.2"/><path d="M680.5,747.2C680.5,747.2 680.5,747.2 673.7,730.5C666.9,713.8 653.3,680.5 652,681.2C650.7,682 661.7,716.8 667.2,734.2C672.7,751.6 672.7,751.6 672.7,751.6"/><path d="M672.7,751.6C672.7,751.6 672.7,751.6 666.1,734.5C659.5,717.5 646.4,683.4 635.2,658.2C623.9,633.1 614.7,616.8 601.5,640C588.4,663.1 571.3,725.6 562.8,756.9C554.3,788.2 554.3,788.2 554.3,788.2"/><path d="M672.7,751.6L672.7,751.6"/><path d="M664.8,755.7C664.8,755.7 664.8,755.7 659.3,738.1C653.9,720.4 642.9,685.1 632.8,659.3C622.7,633.5 613.4,617.1 599,640.3C584.6,663.5 565,726.2 555.2,757.6C545.4,789 545.4,789 545.4,789"/><path d="M664.8,755.7C664.8,755.7 664.8,755.7 660.4,737.7C656,719.8 647.3,683.8 648.6,683.1C649.9,682.4 661.3,717 667,734.3C672.7,751.6 672.7,751.6 672.7,751.6"/><path d="M656.8,759.7C656.8,759.7 656.8,759.7 652.5,741.4C648.1,723.2 639.4,686.7 630.4,660.3C621.4,633.8 612.2,617.5 596.5,640.7C580.7,663.9 558.6,726.7 547.5,758.1C536.5,789.5 536.5,789.5 536.5,789.5"/><path d="M656.8,759.7C656.8,759.7 656.8,759.7 653.7,741.1C650.5,722.5 644.2,685.3 646.9,683.9C649.5,682.6 661.1,717.1 666.9,734.3C672.7,751.6 672.7,751.6 672.7,751.6"/><path d="M648.7,763.4C648.7,763.4 648.7,763.4 645.6,744.6C642.6,725.8 636.5,688.1 628.9,661.1C621.4,634.1 612.4,617.7 598.2,640.7C584,663.8 564.7,726.4 555,757.7C545.4,789 545.4,789 545.4,789"/><path d="M648.7,763.4C648.7,763.4 648.7,763.4 646.8,744.2C644.9,725 641.1,686.7 645.1,684.7C649.1,682.8 660.9,717.2 666.8,734.4C672.7,751.6 672.7,751.6 672.7,751.6"/><path d="M640.5,766.8C640.5,766.8 640.5,766.8 638.3,747.5C636.1,728.2 631.7,689.5 624.7,662C617.7,634.4 608.1,617.9 587,640.9C565.9,663.9 533.4,726.4 517.1,757.7C500.8,789 500.8,789 500.8,789"/><path d="M640.5,766.8C640.5,766.8 640.5,766.8 639.9,747.1C639.2,727.4 638,688 643.3,685.5C648.7,682.9 660.7,717.3 666.7,734.4C672.7,751.6 672.7,751.6 672.7,751.6"/><path d="M632.2,770.1C632.2,770.1 632.2,770.1 634,747.8C635.8,725.5 639.5,680.9 639.4,647.8C639.3,614.8 635.4,593.3 667.4,569C699.3,544.8 767.1,517.9 801.1,504.4C835,491 835,491 835,491"/><path d="M632.2,770.1C632.2,770.1 632.2,770.1 632.8,749.9C633.5,729.7 634.8,689.3 641.5,686.2C648.3,683.1 660.5,717.3 666.6,734.5C672.7,751.6 672.7,751.6 672.7,751.6"/><path d="M623.8,773.1C623.8,773.1 623.8,773.1 624.2,752.8C624.7,732.6 625.6,692.1 621.6,663.5C617.5,635 608.5,618.4 590.5,641.4C572.5,664.4 545.6,727.1 532.1,758.4C518.6,789.7 518.6,789.7 518.6,789.7"/><path d="M623.8,773.1C623.8,773.1 623.8,773.1 625.7,752.4C627.7,731.7 631.6,690.4 639.7,686.8C647.9,683.3 660.3,717.4 666.5,734.5C672.7,751.6 672.7,751.6 672.7,751.6"/><path d="M615.3,775.8C615.3,775.8 615.3,775.8 617.3,755.1C619.2,734.5 623.1,693.1 620.8,664.1C618.6,635.1 610.1,618.5 596.5,641.3C582.9,664.2 564.1,726.6 554.8,757.8C545.4,789 545.4,789 545.4,789"/><path d="M615.3,775.8C615.3,775.8 615.3,775.8 618.6,754.7C621.8,733.6 628.3,691.5 637.9,687.4C647.4,683.4 660.1,717.5 666.4,734.5C672.7,751.6 672.7,751.6 672.7,751.6"/><path d="M606.8,778.3C606.8,778.3 606.8,778.3 609.6,757.3C612.5,736.2 618.2,694.1 616.5,664.7C614.9,635.3 605.9,618.7 585.3,641.5C564.8,664.3 532.8,726.6 516.8,757.8C500.8,789 500.8,789 500.8,789"/><path d="M606.8,778.3C606.8,778.3 606.8,778.3 611.3,756.9C615.9,735.4 625,692.4 636,688C647,683.5 659.9,717.5 666.3,734.6C672.7,751.6 672.7,751.6 672.7,751.6"/><path d="M598.1,780.6C598.1,780.6 598.1,780.6 602.7,759.2C607.2,737.8 616.2,695 616.7,665.3C617.1,635.5 609,618.8 595.7,641.6C582.4,664.4 563.9,726.7 554.6,757.8C545.4,789 545.4,789 545.4,789"/><path d="M598.1,780.6C598.1,780.6 598.1,780.6 604,758.8C609.9,737 621.7,693.3 634.2,688.5C646.6,683.6 659.6,717.6 666.2,734.6C672.7,751.6 672.7,751.6 672.7,751.6"/><path d="M589.5,782.6C589.5,782.6 589.5,782.6 594.8,760.9C600.2,739.2 611,695.8 611.9,665.7C612.9,635.6 604,618.9 582.3,641.5C560.7,664.1 526.3,726.2 509.1,757.2C491.9,788.2 491.9,788.2 491.9,788.2"/><path d="M589.5,782.6C589.5,782.6 589.5,782.6 596.7,760.5C603.9,738.3 618.4,694.1 632.3,688.9C646.1,683.7 659.4,717.7 666.1,734.6C672.7,751.6 672.7,751.6 672.7,751.6"/><path d="M580.7,784.4C580.7,784.4 580.7,784.4 590,760.9C599.4,737.4 618.1,690.4 625.7,656.9C633.3,623.5 629.8,603.6 658.5,596.9C687.2,590.2 748,596.7 778.4,600C808.9,603.2 808.9,603.2 808.9,603.2"/><path d="M580.7,784.4C580.7,784.4 580.7,784.4 589.3,762C597.9,739.6 615,694.8 630.4,689.3C645.7,683.8 659.2,717.7 666,734.6C672.7,751.6 672.7,751.6 672.7,751.6"/><path d="M571.9,785.9C571.9,785.9 571.9,785.9 580.1,752.5C588.3,719 604.7,652.1 646.7,614.7C688.7,577.2 756.2,569.2 790,565.2C823.8,561.3 823.8,561.3 823.8,561.3"/><path d="M571.9,785.9C571.9,785.9 571.9,785.9 580.3,751.4C588.6,716.8 605.3,647.7 649.1,595.6C693,543.4 764.1,508.3 799.7,490.7C835.2,473.1 835.2,473.1 835.2,473.1"/><path d="M563.1,787.2C563.1,787.2 563.1,787.2 572.7,753.5C582.2,719.9 601.3,652.6 644.8,614.9C688.2,577.3 756,569.3 789.9,565.3C823.8,561.3 823.8,561.3 823.8,561.3"/><path d="M554.3,788.2C554.3,788.2 554.3,788.2 565.3,754C576.3,719.7 598.3,651.2 644.5,607.6C690.7,564 761,545.2 796.2,535.8C831.4,526.4 831.4,526.4 831.4,526.4"/><path d="M554.3,788.2C554.3,788.2 554.3,788.2 565.2,754.4C576.1,720.6 597.9,653 642.8,615.1C687.8,577.3 755.8,569.3 789.8,565.3C823.8,561.3 823.8,561.3 823.8,561.3"/><path d="M545.4,789C545.4,789 545.4,789 553.7,757.9C562.1,726.8 578.8,664.7 572.9,664.8C566.9,664.8 538.3,727.2 524,758.3C509.7,789.5 509.7,789.5 509.7,789.5"/><path d="M545.4,789C545.4,789 545.4,789 553.8,757.9C562.3,726.8 579.3,664.7 574.8,664.8C570.3,664.9 544.5,727.3 531.6,758.5C518.6,789.7 518.6,789.7 518.6,789.7"/><path d="M545.4,789C545.4,789 545.4,789 557.7,755C569.9,721.1 594.5,653.3 640.9,615.3C687.3,577.4 755.6,569.3 789.7,565.3C823.8,561.3 823.8,561.3 823.8,561.3"/><path d="M545.4,789C545.4,789 545.4,789 552.4,756.9C559.3,724.9 573.3,660.8 566.5,623.6C559.7,586.4 532.1,576.1 504.4,574C476.6,571.9 448.7,578 406.8,589.6C365,601.1 309.3,618 281.4,626.5C253.5,635 253.5,635 253.5,635"/><path d="M545.4,789C545.4,789 545.4,789 554.4,757.9C563.4,726.8 581.5,664.6 584.4,664.3C587.4,664 575.2,725.6 569.2,756.4C563.1,787.2 563.1,787.2 563.1,787.2"/><path d="M545.4,789C545.4,789 545.4,789 557.6,755.2C569.8,721.5 594.3,654.1 639.8,619C685.3,583.9 751.9,581.1 785.3,579.7C818.6,578.3 818.6,578.3 818.6,578.3"/><path d="M545.4,789C545.4,789 545.4,789 557.5,755.6C569.6,722.2 593.8,655.4 637.7,624.4C681.6,593.4 745.2,598.3 777,600.8C808.9,603.2 808.9,603.2 808.9,603.2"/><path d="M545.4,789C545.4,789 545.4,789 553.1,757.6C560.7,726.3 576.1,663.6 570.7,627.8C565.3,592 539.1,583.1 512.8,582.4C486.4,581.7 459.9,589.3 435.4,618.1C410.8,646.9 388.3,697 377,722.1C365.7,747.2 365.7,747.2 365.7,747.2"/><path d="M545.4,789C545.4,789 545.4,789 552.4,757C559.4,725.1 573.5,661.2 566.8,624.2C560.2,587.2 532.7,577.1 505.1,575.2C477.4,573.2 449.6,579.5 409.2,593.4C368.8,607.3 315.9,628.7 289.4,639.4C262.9,650.1 262.9,650.1 262.9,650.1"/><path d="M545.4,789C545.4,789 545.4,789 552.8,757.5C560.3,726 575.2,663 569.3,626.9C563.5,590.8 536.8,581.6 510,580.6C483.2,579.5 456.2,586.7 426,611.7C395.8,636.6 362.4,679.3 345.7,700.7C329,722 329,722 329,722"/><path d="M545.4,789C545.4,789 545.4,789 557.8,753.9C570.2,718.9 595.1,648.9 643.4,596.2C691.7,543.6 763.5,508.4 799.3,490.8C835.2,473.1 835.2,473.1 835.2,473.1"/><path d="M545.4,789C545.4,789 545.4,789 557.7,754.9C570,720.9 594.6,652.8 641.4,613.4C688.2,574.1 757.2,563.3 791.6,558C826.1,552.6 826.1,552.6 826.1,552.6"/><path d="M545.4,789C545.4,789 545.4,789 557.8,754.3C570.2,719.6 595,650.2 643.2,602C691.4,553.8 762.9,526.8 798.7,513.4C834.5,499.9 834.5,499.9 834.5,499.9"/><path d="M545.4,789C545.4,789 545.4,789 557.7,754.7C570.1,720.5 594.8,652 642.2,609.7C689.7,567.4 759.8,551.3 794.8,543.3C829.9,535.2 829.9,535.2 829.9,535.2"/><path d="M545.4,789C545.4,789 545.4,789 557.4,755.8C569.4,722.6 593.4,656.2 636,627.9C678.7,599.6 739.9,609.5 770.6,614.4C801.2,619.3 801.2,619.3 801.2,619.3"/><path d="M545.4,789C545.4,789 545.4,789 554.5,757.8C563.6,726.7 581.9,664.5 586.3,664C590.8,663.5 581.4,724.7 576.6,755.3C571.9,785.9 571.9,785.9 571.9,785.9"/><path d="M545.4,789C545.4,789 545.4,789 553.6,757.9C561.9,726.8 578.4,664.6 570.9,664.6C563.5,664.6 532.2,726.8 516.5,757.9C500.8,789 500.8,789 500.8,789"/><path d="M545.4,789C545.4,789 545.4,789 557.6,755.3C569.7,721.7 594.1,654.5 639.1,620.8C684.2,587.1 749.9,586.9 782.7,586.8C815.6,586.7 815.6,586.7 815.6,586.7"/><path d="M545.4,789C545.4,789 545.4,789 557.8,754C570.2,719.1 595.1,649.3 643.4,598.2C691.7,547 763.5,514.5 799.3,498.3C835.2,482.1 835.2,482.1 835.2,482.1"/><path d="M545.4,789C545.4,789 545.4,789 557.8,754.5C570.2,720 595,651.1 642.8,605.9C690.7,560.6 761.7,539.1 797.2,528.4C832.7,517.6 832.7,517.6 832.7,517.6"/><path d="M536.5,789.5C536.5,789.5 536.5,789.5 550.3,754.5C564.1,719.5 591.7,649.5 641.5,598.3C691.3,547 763.2,514.5 799.2,498.3C835.2,482.1 835.2,482.1 835.2,482.1"/><path d="M536.5,789.5C536.5,789.5 536.5,789.5 550.2,754.9C564,720.4 591.5,651.3 640.9,606C690.3,560.7 761.5,539.1 797.1,528.4C832.7,517.6 832.7,517.6 832.7,517.6"/><path d="M536.5,789.5C536.5,789.5 536.5,789.5 550.1,755.5C563.8,721.5 591.1,653.5 639,615.4C686.9,577.4 755.4,569.3 789.6,565.3C823.8,561.3 823.8,561.3 823.8,561.3"/><path d="M527.6,789.7C527.6,789.7 527.6,789.7 542.5,755.9C557.5,722.1 587.4,654.4 635.9,619.2C684.4,583.9 751.5,581.1 785,579.7C818.6,578.3 818.6,578.3 818.6,578.3"/><path d="M518.6,789.7C518.6,789.7 518.6,789.7 535,755.7C551.5,721.6 584.3,653.6 635.1,615.5C686,577.4 754.9,569.3 789.4,565.3C823.8,561.3 823.8,561.3 823.8,561.3"/><path d="M518.6,789.7C518.6,789.7 518.6,789.7 535.2,754.6C551.7,719.4 584.8,649.1 637.6,596.4C690.4,543.6 762.8,508.4 799,490.8C835.2,473.1 835.2,473.1 835.2,473.1"/><path d="M509.7,789.5C509.7,789.5 509.7,789.5 527.5,755.5C545.3,721.5 580.9,653.5 633.2,615.4C685.6,577.4 754.7,569.3 789.3,565.3C823.8,561.3 823.8,561.3 823.8,561.3"/><path d="M509.7,789.5C509.7,789.5 509.7,789.5 522,757.4C534.4,725.4 559,661.4 557.8,624.3C556.6,587.2 529.6,577.1 502.4,575.2C475.2,573.3 447.8,579.6 407.9,593.4C368,607.3 315.4,628.7 289.2,639.4C262.9,650.1 262.9,650.1 262.9,650.1"/><path d="M500.8,789C500.8,789 500.8,789 520,755C539.1,721.1 577.4,653.3 631.3,615.3C685.1,577.4 754.5,569.3 789.2,565.3C823.8,561.3 823.8,561.3 823.8,561.3"/><path d="M500.8,789C500.8,789 500.8,789 520.1,753.9C539.4,718.9 578,648.9 633.7,596.2C689.5,543.6 762.3,508.4 798.8,490.8C835.2,473.1 835.2,473.1 835.2,473.1"/><path d="M491.9,788.2C491.9,788.2 491.9,788.2 512.6,754C533.2,719.7 574.4,651.2 631,607.6C687.6,564 759.5,545.2 795.4,535.8C831.4,526.4 831.4,526.4 831.4,526.4"/><path d="M491.9,788.2C491.9,788.2 491.9,788.2 512.5,754.4C533,720.6 574,653 629.4,615.1C684.7,577.3 754.2,569.3 789,565.3C823.8,561.3 823.8,561.3 823.8,561.3"/><path d="M483.1,787.2C483.1,787.2 483.1,787.2 483.5,760.3C483.9,733.3 484.7,679.5 474.6,677.1C464.5,674.8 443.5,723.9 432.9,748.5C422.4,773.1 422.4,773.1 422.4,773.1"/><path d="M474.3,785.9C474.3,785.9 474.3,785.9 475.6,758.8C476.9,731.6 479.5,677.3 484.2,641.3C488.9,605.3 495.7,587.6 485.8,582.1C475.9,576.7 449.4,583.6 415,603.9C380.6,624.3 338.4,658.1 317.3,675C296.2,691.9 296.2,691.9 296.2,691.9"/><path d="M474.3,785.9C474.3,785.9 474.3,785.9 475.3,758.3C476.2,730.7 478.2,675.5 482.3,638.5C486.3,601.6 492.5,583 481.9,576.7C471.4,570.4 444.3,576.3 402,585.5C359.7,594.6 302.4,607 273.7,613.1C245,619.3 245,619.3 245,619.3"/><path d="M474.3,785.9C474.3,785.9 474.3,785.9 476,759.2C477.8,732.4 481.4,679 472.7,676.8C464.1,674.7 443.2,723.9 432.8,748.5C422.4,773.1 422.4,773.1 422.4,773.1"/><path d="M474.3,785.9C474.3,785.9 474.3,785.9 476.3,759.2C478.2,732.6 482.2,679.3 476.4,678C470.6,676.7 455,727.5 447.2,752.9C439.4,778.3 439.4,778.3 439.4,778.3"/><path d="M474.3,785.9C474.3,785.9 474.3,785.9 475.9,759.1C477.6,732.4 480.9,678.8 470.9,676.2C460.9,673.6 437.4,721.8 425.7,745.9C414,770.1 414,770.1 414,770.1"/><path d="M465.5,784.4C465.5,784.4 465.5,784.4 468.1,757.5C470.7,730.5 475.9,676.7 482,640.9C488,605.1 494.9,587.4 485.1,582C475.4,576.6 448.9,583.5 414.7,603.9C380.4,624.2 338.3,658.1 317.2,675C296.2,691.9 296.2,691.9 296.2,691.9"/><path d="M465.5,784.4C465.5,784.4 465.5,784.4 467.8,757C470.1,729.6 474.6,674.8 480,638.2C485.4,601.5 491.7,582.9 481.3,576.6C470.9,570.3 443.8,576.2 401.7,585.4C359.5,594.6 302.2,606.9 273.6,613.1C245,619.3 245,619.3 245,619.3"/><path d="M465.5,784.4C465.5,784.4 465.5,784.4 468.6,757.9C471.7,731.4 478,678.4 470.8,676.5C463.6,674.6 443,723.8 432.7,748.5C422.4,773.1 422.4,773.1 422.4,773.1"/><path d="M465.5,784.4C465.5,784.4 465.5,784.4 468.8,758C472.2,731.5 478.8,678.7 474.5,677.7C470.2,676.6 454.8,727.5 447.1,752.9C439.4,778.3 439.4,778.3 439.4,778.3"/><path d="M465.5,784.4C465.5,784.4 465.5,784.4 468.5,757.9C471.5,731.3 477.6,678.3 469,675.9C460.4,673.5 437.2,721.8 425.6,745.9C414,770.1 414,770.1 414,770.1"/><path d="M456.7,782.6C456.7,782.6 456.7,782.6 461.1,756.4C465.5,730.1 474.2,677.6 467.1,675.5C460,673.4 437,721.7 425.5,745.9C414,770.1 414,770.1 414,770.1"/><path d="M456.7,782.6C456.7,782.6 456.7,782.6 461.3,756.4C465.8,730.2 474.9,677.7 483.5,643.1C492.2,608.5 500.5,591.7 492.1,587.3C483.7,582.8 458.6,590.6 440.1,622C421.6,653.4 409.5,708.4 403.5,735.9C397.5,763.4 397.5,763.4 397.5,763.4"/><path d="M456.7,782.6C456.7,782.6 456.7,782.6 461.2,756.4C465.7,730.2 474.6,677.7 468.9,676.1C463.2,674.5 442.8,723.8 432.6,748.4C422.4,773.1 422.4,773.1 422.4,773.1"/><path d="M448.1,780.6C448.1,780.6 448.1,780.6 453.2,754.2C458.4,727.9 468.8,675.1 477.5,639.9C486.3,604.7 493.4,587.1 483.8,581.7C474.3,576.4 448.1,583.3 414,603.7C380,624.1 338.1,658 317.1,675C296.2,691.9 296.2,691.9 296.2,691.9"/><path d="M448.1,780.6C448.1,780.6 448.1,780.6 452.9,753.8C457.8,726.9 467.5,673.3 475.6,637.2C483.7,601.1 490.2,582.6 480,576.3C469.8,570 443,576 401,585.3C359.1,594.5 302,606.9 273.5,613.1C245,619.3 245,619.3 245,619.3"/><path d="M448.1,780.6C448.1,780.6 448.1,780.6 453.9,754.7C459.7,728.8 471.3,677 467,675.7C462.8,674.4 442.6,723.8 432.5,748.4C422.4,773.1 422.4,773.1 422.4,773.1"/><path d="M448.1,780.6C448.1,780.6 448.1,780.6 453.8,754.6C459.5,728.7 470.9,676.8 465.2,675C459.5,673.3 436.8,721.7 425.4,745.9C414,770.1 414,770.1 414,770.1"/><path d="M439.4,778.3C439.4,778.3 439.4,778.3 445.9,752.3C452.4,726.3 465.3,674.2 475.3,639.3C485.4,604.5 492.6,586.9 483.2,581.6C473.7,576.2 447.6,583.2 413.7,603.6C379.8,624.1 338,658 317.1,675C296.2,691.9 296.2,691.9 296.2,691.9"/><path d="M439.4,778.3C439.4,778.3 439.4,778.3 445.6,751.8C451.7,725.4 464,672.4 473.4,636.6C482.8,600.9 489.4,582.4 479.3,576.1C469.2,569.9 442.5,575.9 400.7,585.2C358.9,594.4 301.9,606.9 273.4,613.1C245,619.3 245,619.3 245,619.3"/><path d="M439.4,778.3C439.4,778.3 439.4,778.3 446.6,752.8C453.7,727.2 468,676.1 465.2,675.2C462.3,674.3 442.4,723.7 432.4,748.4C422.4,773.1 422.4,773.1 422.4,773.1"/><path d="M430.9,775.8C430.9,775.8 430.9,775.8 438.6,750.2C446.3,724.5 461.8,673.2 473.2,638.7C484.5,604.3 491.9,586.7 482.5,581.4C473.2,576.1 447.2,583.1 413.4,603.5C379.5,624 337.9,658 317,675C296.2,691.9 296.2,691.9 296.2,691.9"/><path d="M430.9,775.8C430.9,775.8 430.9,775.8 438.3,749.7C445.7,723.6 460.5,671.3 471.2,636C482,600.6 488.7,582.1 478.7,575.9C468.7,569.7 442.1,575.8 400.4,585.1C358.6,594.4 301.8,606.8 273.4,613.1C245,619.3 245,619.3 245,619.3"/><path d="M430.9,775.8C430.9,775.8 430.9,775.8 439.3,750.6C447.8,725.5 464.7,675.1 463.3,674.7C461.9,674.2 442.2,723.6 432.3,748.3C422.4,773.1 422.4,773.1 422.4,773.1"/><path d="M430.9,775.8C430.9,775.8 430.9,775.8 439.6,750.7C448.2,725.6 465.6,675.4 467,675.8C468.4,676.2 453.9,727.3 446.7,752.8C439.4,778.3 439.4,778.3 439.4,778.3"/><path d="M430.9,775.8C430.9,775.8 430.9,775.8 439.2,750.6C447.6,725.4 464.3,675 461.5,674C458.7,673.1 436.4,721.6 425.2,745.8C414,770.1 414,770.1 414,770.1"/><path d="M422.4,773.1C422.4,773.1 422.4,773.1 432.1,748.3C441.7,723.5 461.1,673.9 459.7,673.4C458.3,672.9 436.1,721.5 425.1,745.8C414,770.1 414,770.1 414,770.1"/><path d="M422.4,773.1C422.4,773.1 422.4,773.1 431.1,747.4C439.7,721.6 457,670.2 469.1,635.3C481.1,600.4 487.9,581.9 478,575.7C468.2,569.6 441.7,575.7 400.1,585C358.4,594.3 301.7,606.8 273.3,613.1C245,619.3 245,619.3 245,619.3"/><path d="M405.7,766.8C405.7,766.8 405.7,766.8 417.2,742.5C428.6,718.2 451.5,669.5 466.8,636.4C482,603.4 489.7,585.9 480.6,580.7C471.6,575.5 446,582.6 412.4,603.2C378.9,623.8 337.5,657.9 316.9,674.9C296.2,691.9 296.2,691.9 296.2,691.9"/><path d="M405.7,766.8C405.7,766.8 405.7,766.8 417.7,742.9C429.7,719 453.6,671.1 470,638.8C486.3,606.5 495,589.9 487,585.5C479.1,581.1 454.5,589 434.1,619.4C413.7,649.8 397.6,702.8 389.5,729.3C381.4,755.7 381.4,755.7 381.4,755.7"/><path d="M405.7,766.8C405.7,766.8 405.7,766.8 418.1,743C430.4,719.3 455.1,671.7 457.9,672.7C460.6,673.8 441.5,723.4 432,748.2C422.4,773.1 422.4,773.1 422.4,773.1"/><path d="M405.7,766.8C405.7,766.8 405.7,766.8 417.9,743C430.2,719.2 454.7,671.5 456,672.1C457.4,672.6 435.7,721.3 424.9,745.7C414,770.1 414,770.1 414,770.1"/><path d="M397.5,763.4C397.5,763.4 397.5,763.4 402.2,735.2C406.9,706.9 416.3,650.5 403.7,642.7C391.2,634.9 356.6,675.6 339.4,696C322.1,716.4 322.1,716.4 322.1,716.4"/><path d="M397.5,763.4C397.5,763.4 397.5,763.4 401.5,734.3C405.4,705.3 413.4,647.2 390.9,628.3C368.5,609.4 315.7,629.8 289.3,639.9C262.9,650.1 262.9,650.1 262.9,650.1"/><path d="M397.5,763.4C397.5,763.4 397.5,763.4 402.4,735.3C407.3,707.2 417,651.1 406.8,645.1C396.5,639.1 366.3,683.3 351.2,705.4C336,727.5 336,727.5 336,727.5"/><path d="M381.4,755.7C381.4,755.7 381.4,755.7 388.3,728.4C395.1,701 408.8,646.4 394.6,635.7C380.4,625.1 338.3,658.5 317.2,675.2C296.2,691.9 296.2,691.9 296.2,691.9"/><path d="M365.7,747.2C365.7,747.2 365.7,747.2 375.4,721.5C385.1,695.9 404.5,644.6 398.4,640.4C392.2,636.2 360.6,679.1 344.8,700.6C329,722 329,722 329,722"/><path d="M365.7,747.2C365.7,747.2 365.7,747.2 374.6,720.6C383.5,694.1 401.2,641 384.1,624.8C366.9,608.6 314.9,629.4 288.9,639.7C262.9,650.1 262.9,650.1 262.9,650.1"/><path d="M350.6,737.8C350.6,737.8 350.6,737.8 360,722.7C369.3,707.7 388.1,677.7 386.9,676.9C385.6,676 364.4,704.4 353.8,718.6C343.2,732.7 343.2,732.7 343.2,732.7"/><path d="M315.3,710.6C315.3,710.6 315.3,710.6 326.5,696.8C337.6,683 359.9,655.4 358.8,654.4C357.7,653.4 333.2,679 321,691.8C308.8,704.5 308.8,704.5 308.8,704.5"/><path d="M302.4,698.3C302.4,698.3 302.4,698.3 315.5,686.4C328.6,674.5 354.9,650.7 356,651.8C357,652.8 332.9,678.7 320.8,691.6C308.8,704.5 308.8,704.5 308.8,704.5"/><path d="M296.2,691.9C296.2,691.9 296.2,691.9 317.4,675.3C338.7,658.7 381.2,625.5 398.1,637.4C415,649.3 406.3,706.3 401.9,734.8C397.5,763.4 397.5,763.4 397.5,763.4"/><path d="M284.3,678.6C284.3,678.6 284.3,678.6 297,666.3C309.8,653.9 335.3,629.2 334.4,628C333.4,626.9 306,649.3 292.3,660.5C278.7,671.7 278.7,671.7 278.7,671.7"/><path d="M284.3,678.6C284.3,678.6 284.3,678.6 298,667C311.7,655.4 339.1,632.2 362.5,618C385.9,603.7 405.4,598.4 409.3,623.5C413.1,648.6 401.2,704.1 395.3,731.9C389.4,759.7 389.4,759.7 389.4,759.7"/><path d="M273.2,664.7C273.2,664.7 273.2,664.7 287.7,654.5C302.1,644.2 331,623.8 331.9,625C332.9,626.2 305.8,649 292.2,660.3C278.7,671.7 278.7,671.7 278.7,671.7"/><path d="M273.2,664.7C273.2,664.7 273.2,664.7 287.5,654.2C301.7,643.7 330.3,622.7 353.3,608.7C376.3,594.7 393.8,587.7 377,594.5C360.2,601.3 309.2,621.9 283.6,632.3C258.1,642.6 258.1,642.6 258.1,642.6"/><path d="M268,657.5C268,657.5 268,657.5 283.2,648.4C298.5,639.3 329,621.1 330.8,623.4C332.6,625.8 305.6,648.8 292.1,660.2C278.7,671.7 278.7,671.7 278.7,671.7"/><path d="M262.9,650.1C262.9,650.1 262.9,650.1 288.5,639.4C314,628.7 365.1,607.4 376.1,619.4C387.1,631.4 358,676.7 343.5,699.4C329,722 329,722 329,722"/><path d="M262.9,650.1C262.9,650.1 262.9,650.1 288.4,639.3C313.8,628.6 364.7,607.1 374.6,618.2C384.5,629.2 353.3,672.8 337.7,694.6C322.1,716.4 322.1,716.4 322.1,716.4"/><path d="M262.9,650.1C262.9,650.1 262.9,650.1 288.6,639.5C314.2,628.9 365.4,607.7 377.6,620.6C389.8,633.5 362.9,680.5 349.5,704C336,727.5 336,727.5 336,727.5"/><path d="M258.1,642.6C258.1,642.6 258.1,642.6 285.3,633.6C312.4,624.6 366.7,606.6 389.9,626.7C413.1,646.8 405.3,705.1 401.4,734.2C397.5,763.4 397.5,763.4 397.5,763.4"/><path d="M253.5,635C253.5,635 253.5,635 281.4,627.1C309.2,619.3 364.9,603.6 388.9,625C412.9,646.4 405.2,704.9 401.3,734.1C397.5,763.4 397.5,763.4 397.5,763.4"/><path d="M253.5,635C253.5,635 253.5,635 279.7,625.7C305.8,616.5 358.2,598 359.7,600.5C361.3,603 312.1,626.6 287.5,638.3C262.9,650.1 262.9,650.1 262.9,650.1"/><path d="M249.1,627.2C249.1,627.2 249.1,627.2 277.7,620.6C306.2,613.9 363.2,600.7 387.9,623.4C412.7,646.1 405.1,704.7 401.3,734C397.5,763.4 397.5,763.4 397.5,763.4"/><path d="M249.1,627.2C249.1,627.2 249.1,627.2 276,619.2C302.8,611.1 356.5,595 358.8,598.8C361.1,602.6 312,626.4 287.5,638.2C262.9,650.1 262.9,650.1 262.9,650.1"/><path d="M245,619.3C245,619.3 245,619.3 273.9,613.8C302.9,608.3 360.8,597.3 383.6,620C406.3,642.7 393.8,699.2 387.6,727.5C381.4,755.7 381.4,755.7 381.4,755.7"/><path d="M245,619.3C245,619.3 245,619.3 272.5,612.5C299.9,605.7 354.9,592 357.9,597.1C360.9,602.2 311.9,626.2 287.4,638.1C262.9,650.1 262.9,650.1 262.9,650.1"/><path class="h" d="M241,611.3C241,611.3 241,611.3 258.9,600.6C276.8,589.8 312.6,568.4 342.6,536.5C372.5,504.7 396.7,462.5 426.3,457.8C455.9,453.1 491,486 520.6,476.9C550.2,467.8 574.3,416.8 610.6,373.2C646.9,329.5 695.4,293.2 719.6,275C743.8,256.9 743.8,256.9 743.8,256.9" stroke="url(#ga)"/><path d="M241,611.3C241,611.3 241,611.3 258.7,598.6C276.4,586 311.8,560.6 341.4,524.9C370.9,489.1 394.7,443.1 423.3,381.4C451.9,319.8 485.2,242.6 501.9,204.1C518.6,165.5 518.6,165.5 518.6,165.5"/><path d="M237.3,603.2C237.3,603.2 237.3,603.2 254.5,596.3C271.6,589.4 305.8,575.6 333.8,550.3C361.7,525 383.3,488.2 410.3,488.9C437.4,489.6 469.9,527.8 482.8,556.1C495.8,584.4 489.3,602.8 486.1,639.6C482.9,676.5 483,731.8 483,759.5C483.1,787.2 483.1,787.2 483.1,787.2"/><path class="h" d="M237.3,603.2C237.3,603.2 237.3,603.2 255.7,593.6C274.1,584 310.9,564.9 341.4,534.2C371.9,503.6 396,461.4 425.6,456.7C455.2,452.1 490.2,484.9 519.8,475.9C549.4,466.8 573.5,415.8 608.9,371.3C644.2,326.8 690.8,288.7 714.1,269.7C737.4,250.7 737.4,250.7 737.4,250.7" stroke="url(#ga)"/><path class="h" d="M237.3,603.2C237.3,603.2 237.3,603.2 255.8,593.7C274.2,584.1 311.1,565 341.6,534.4C372.1,503.8 396.3,461.7 426,457.1C455.6,452.5 490.7,485.4 520.4,476.4C550,467.4 574.2,416.5 610.5,372.9C646.9,329.4 695.3,293.1 719.6,275C743.8,256.9 743.8,256.9 743.8,256.9" stroke="url(#ga)"/><path d="M237.3,603.2C237.3,603.2 237.3,603.2 253.2,595.3C269,587.4 300.8,571.5 300.2,570.2C299.6,568.8 266.7,581.9 250.3,588.4C233.9,595 233.9,595 233.9,595"/><path d="M237.3,603.2C237.3,603.2 237.3,603.2 253.2,595.2C269,587.2 300.6,571.1 299.5,568.4C298.4,565.6 264.5,576.1 247.6,581.4C230.6,586.7 230.6,586.7 230.6,586.7"/><path class="h" d="M237.3,603.2C237.3,603.2 237.3,603.2 255,593.7C272.6,584.2 307.9,565.1 336.9,534.6C365.8,504.1 388.5,462 416.6,457.5C444.6,452.9 478.2,485.9 506.2,477C534.3,468.1 556.9,417.2 572.5,381.4C588,345.5 596.5,324.6 609.4,296.1C622.2,267.6 639.5,231.6 648.2,213.6C656.8,195.5 656.8,195.5 656.8,195.5" stroke="url(#ga)"/><path d="M237.3,603.2C237.3,603.2 237.3,603.2 254,596.2C270.7,589.2 304.1,575.1 331.2,549.6C358.3,524.1 379,487 405.2,487.5C431.4,487.9 463,525.9 467.5,549.7C472,573.6 449.3,583.2 433.1,616.4C416.9,649.7 407.2,706.5 402.3,734.9C397.5,763.4 397.5,763.4 397.5,763.4"/><path d="M237.3,603.2C237.3,603.2 237.3,603.2 254.2,596.2C271,589.3 304.6,575.3 331.9,549.9C359.3,524.4 380.3,487.5 406.7,488.1C433.1,488.6 465,526.7 477.4,554.9C489.7,583 482.6,601.2 470.2,636C457.8,670.7 440.1,721.9 431.3,747.5C422.4,773.1 422.4,773.1 422.4,773.1"/><path d="M237.3,603.2C237.3,603.2 237.3,603.2 253.3,595.5C269.2,587.7 301.1,572.3 326.6,545.3C352.2,518.3 371.4,479.8 396,478.8C420.7,477.9 450.8,514.4 453.8,536.8C456.7,559.1 432.5,567.3 393.2,578.7C353.8,590.1 299.4,604.7 272.2,612C245,619.3 245,619.3 245,619.3"/><path d="M237.3,603.2C237.3,603.2 237.3,603.2 256.2,594.3C275,585.4 312.6,567.6 343.9,538.3C375.2,508.9 400.2,468.1 430.6,464.8C461.1,461.5 496.9,495.7 534.4,496.9C572,498.1 611.1,466.4 659.2,442.3C707.3,418.2 764.3,401.8 792.8,393.6C821.3,385.4 821.3,385.4 821.3,385.4"/><path d="M237.3,603.2C237.3,603.2 237.3,603.2 253.3,595.5C269.3,587.8 301.2,572.4 326.8,545.5C352.3,518.6 371.6,480.2 396.3,479.3C421,478.4 451.1,515 454.1,537.5C457.1,559.9 433,568.2 394.3,580.8C355.6,593.4 302.3,610.3 275.7,618.7C249.1,627.2 249.1,627.2 249.1,627.2"/><path d="M237.3,603.2C237.3,603.2 237.3,603.2 254.1,596.2C270.9,589.2 304.5,575.3 331.7,549.8C358.9,524.3 379.8,487.3 406.2,487.9C432.5,488.4 464.3,526.5 476.6,554.6C488.9,582.7 481.7,600.9 468,635.2C454.3,669.4 434.2,719.7 424.1,744.9C414,770.1 414,770.1 414,770.1"/><path d="M237.3,603.2C237.3,603.2 237.3,603.2 254.4,596.3C271.5,589.4 305.7,575.6 333.5,550.3C361.3,525 382.8,488.1 409.8,488.8C436.8,489.5 469.2,527.7 482,556C494.9,584.3 488.3,602.7 483.8,639.3C479.2,676 476.7,730.9 475.5,758.4C474.3,785.9 474.3,785.9 474.3,785.9"/><path d="M233.9,595C233.9,595 233.9,595 250.3,588.4C266.7,581.9 299.6,568.8 300.2,570.2C300.8,571.5 269,587.4 253.2,595.3C237.3,603.2 237.3,603.2 237.3,603.2"/><path d="M233.9,595C233.9,595 233.9,595 253.2,587.2C272.5,579.4 311.1,563.9 342.8,535.6C374.6,507.4 399.6,466.4 430,463C460.4,459.6 496.2,493.8 533.7,494.9C571.2,496 610.3,464.2 657.6,437.6C704.8,411.1 760.2,389.8 787.9,379.2C815.6,368.5 815.6,368.5 815.6,368.5"/><path d="M230.6,586.7C230.6,586.7 230.6,586.7 247.6,581.4C264.5,576.1 298.4,565.6 299.5,568.4C300.6,571.1 269,587.2 253.2,595.2C237.3,603.2 237.3,603.2 237.3,603.2"/><path d="M230.6,586.7C230.6,586.7 230.6,586.7 250.4,580.2C270.2,573.7 309.8,560.8 342.2,533.9C374.5,507.1 399.5,466.5 430,463.3C460.5,460.2 496.5,494.5 534,495.9C571.6,497.3 610.8,465.7 659,441.8C707.2,417.9 764.2,401.6 792.8,393.5C821.3,385.4 821.3,385.4 821.3,385.4"/><path class="h" d="M227.6,578.3C227.6,578.3 227.6,578.3 247.5,572.4C267.3,566.5 307,554.7 339.1,527.9C371.1,501.1 395.4,459.2 425.1,454.8C454.9,450.5 490,483.7 519.8,474.9C549.5,466.2 573.8,415.5 610.2,372.2C646.7,328.9 695.2,292.9 719.5,274.9C743.8,256.9 743.8,256.9 743.8,256.9" stroke="url(#ga)"/><path d="M227.6,578.3C227.6,578.3 227.6,578.3 247.9,573C268.1,567.7 308.5,557.1 341.3,531.5C374,505.9 399.1,465.2 429.6,462C460.1,458.9 496,493.3 533.6,494.7C571.2,496.1 610.4,464.5 658.2,439.3C706,414.2 762.3,395.6 790.4,386.2C818.6,376.9 818.6,376.9 818.6,376.9"/><path d="M227.6,578.3C227.6,578.3 227.6,578.3 245,574.3C262.4,570.3 297.2,562.4 298.8,566.5C300.4,570.7 268.9,587 253.1,595.1C237.3,603.2 237.3,603.2 237.3,603.2"/><path d="M227.6,578.3C227.6,578.3 227.6,578.3 247.9,573C268.1,567.8 308.6,557.3 341.4,531.7C374.2,506.2 399.2,465.6 429.8,462.6C460.3,459.5 496.2,493.9 533.9,495.4C571.5,496.9 610.7,465.4 658.9,441.6C707.1,417.7 764.2,401.6 792.8,393.5C821.3,385.4 821.3,385.4 821.3,385.4"/><path d="M227.6,578.3C227.6,578.3 227.6,578.3 245.1,574.4C262.5,570.5 297.4,562.8 299.6,568.3C301.9,573.8 271.5,592.6 256.2,601.9C241,611.3 241,611.3 241,611.3"/><path d="M227.6,578.3C227.6,578.3 227.6,578.3 247.3,570.6C267,562.8 306.4,547.4 338.1,516.9C369.8,486.4 393.8,440.9 422.6,379.8C451.4,318.7 485,242.1 501.8,203.8C518.6,165.5 518.6,165.5 518.6,165.5"/><path d="M227.6,578.3C227.6,578.3 227.6,578.3 245,574.2C262.3,570.1 297,562 298.1,564.8C299.1,567.5 266.5,581.3 250.2,588.1C233.9,595 233.9,595 233.9,595"/><path d="M224.9,569.8C224.9,569.8 224.9,569.8 241.9,559C258.9,548.1 292.8,526.5 322,500.2C351.1,473.9 375.3,443.1 390.1,412.2C404.8,381.3 410,350.3 413.6,323C417.2,295.7 419.2,272.2 419,249.8C418.8,227.4 416.4,206.3 415.2,195.7C414,185.1 414,185.1 414,185.1"/><path d="M224.9,569.8C224.9,569.8 224.9,569.8 243.4,557.5C261.9,545.2 298.8,520.7 331,491.5C363.1,462.4 390.4,428.6 420.8,373.5C451.3,318.4 485,242 501.8,203.7C518.6,165.5 518.6,165.5 518.6,165.5"/><path d="M224.9,569.8C224.9,569.8 224.9,569.8 240.9,560.7C256.8,551.6 288.8,533.3 288,530.4C287.2,527.6 253.7,540.1 236.9,546.4C220.1,552.6 220.1,552.6 220.1,552.6"/><path d="M222.4,561.3C222.4,561.3 222.4,561.3 238.7,553.4C255.1,545.6 287.8,530 287.5,528.6C287.1,527.1 253.6,539.9 236.8,546.3C220.1,552.6 220.1,552.6 220.1,552.6"/><path d="M220.1,552.6C220.1,552.6 220.1,552.6 236.7,545.6C253.3,538.6 286.6,524.5 285.3,517.2C284.1,509.9 248.3,509.3 230.4,509C212.5,508.8 212.5,508.8 212.5,508.8"/><path d="M220.1,552.6C220.1,552.6 220.1,552.6 237.5,547.1C255,541.6 289.9,530.6 319.3,512.6C348.6,494.5 372.5,469.5 400.1,476.1C427.8,482.8 459.3,521.1 463.6,545.3C467.9,569.4 445.1,579.4 424.3,610.7C403.4,642 384.6,694.6 375.2,720.9C365.7,747.2 365.7,747.2 365.7,747.2"/><path d="M218.1,544C218.1,544 218.1,544 235,538.3C252,532.6 285.8,521.2 284.9,515.3C284,509.5 248.2,509.1 230.4,508.9C212.5,508.8 212.5,508.8 212.5,508.8"/><path d="M218.1,544C218.1,544 218.1,544 236,539.8C253.9,535.6 289.7,527.3 319.7,510.8C349.7,494.2 373.8,469.4 401.8,476.3C429.8,483.2 461.7,521.8 466.3,546.2C471,570.6 448.5,580.8 432.5,614.6C416.5,648.5 407,705.9 402.2,734.6C397.5,763.4 397.5,763.4 397.5,763.4"/><path d="M218.1,544C218.1,544 218.1,544 235.1,538.8C252.1,533.7 286.2,523.4 286.5,524.8C286.9,526.3 253.5,539.5 236.8,546C220.1,552.6 220.1,552.6 220.1,552.6"/><path d="M216.3,535.2C216.3,535.2 216.3,535.2 233.6,531.4C250.9,527.6 285.5,520 286.2,522.9C286.8,525.8 253.4,539.2 236.8,545.9C220.1,552.6 220.1,552.6 220.1,552.6"/><path d="M216.3,535.2C216.3,535.2 216.3,535.2 233.5,530.7C250.8,526.2 285.2,517.2 313.6,498.7C342,480.2 364.3,452.2 364.3,442.5C364.3,432.8 342,441.5 312.9,446.7C283.7,451.8 247.7,453.6 229.7,454.5C211.7,455.3 211.7,455.3 211.7,455.3"/><path class="h" d="M214.8,526.4C214.8,526.4 214.8,526.4 234.9,522.3C255,518.2 295.3,510 329.2,491C363.2,472 390.8,442.3 422.3,444.3C453.8,446.3 489.1,480 519,471.8C548.9,463.6 573.3,413.4 609.9,370.6C646.4,327.8 695.1,292.3 719.5,274.6C743.8,256.9 743.8,256.9 743.8,256.9" stroke="url(#ga)"/><path d="M214.8,526.4C214.8,526.4 214.8,526.4 232.3,523.1C249.7,519.8 284.6,513.1 313.3,495.8C341.9,478.4 364.3,450.3 364.3,440.5C364.4,430.7 342.1,439.2 313.3,441.8C284.4,444.4 249,441 231.2,439.3C213.5,437.6 213.5,437.6 213.5,437.6"/><path d="M214.8,526.4C214.8,526.4 214.8,526.4 232.3,524C249.9,521.6 284.9,516.7 285.8,521C286.7,525.4 253.4,539 236.8,545.8C220.1,552.6 220.1,552.6 220.1,552.6"/><path d="M214.8,526.4C214.8,526.4 214.8,526.4 234.8,520.7C254.8,514.9 294.8,503.3 328.5,481C362.3,458.8 389.7,425.7 420.3,371.4C451,317 484.8,241.2 501.7,203.4C518.6,165.5 518.6,165.5 518.6,165.5"/><path d="M213.5,517.6C213.5,517.6 213.5,517.6 231.3,516.5C249,515.4 284.5,513.3 285.6,519.1C286.6,525 253.4,538.8 236.7,545.7C220.1,552.6 220.1,552.6 220.1,552.6"/><path d="M212.5,508.8C212.5,508.8 212.5,508.8 230.4,509C248.3,509.3 284.1,509.9 285.3,517.2C286.6,524.5 253.3,538.6 236.7,545.6C220.1,552.6 220.1,552.6 220.1,552.6"/><path d="M211.7,499.9C211.7,499.9 211.7,499.9 230.5,502.1C249.2,504.4 286.6,508.9 317.3,498.9C348,488.9 372,464.4 399.8,471.6C427.7,478.8 459.3,517.8 463.8,542.5C468.3,567.2 445.6,577.8 426,610.2C406.5,642.7 390,697.1 381.7,724.4C373.5,751.6 373.5,751.6 373.5,751.6"/><path d="M211.7,499.9C211.7,499.9 211.7,499.9 229.8,501.5C247.8,503.2 283.8,506.5 285.2,515.3C286.6,524.1 253.3,538.4 236.7,545.5C220.1,552.6 220.1,552.6 220.1,552.6"/><path d="M211.2,491C211.2,491 211.2,491 229.4,492.4C247.5,493.8 283.7,496.7 313.1,483.8C342.6,471 365.3,442.3 367.3,426.2C369.4,410.1 350.8,406.5 325.1,397.6C299.4,388.7 266.7,374.4 250.3,367.3C233.9,360.2 233.9,360.2 233.9,360.2"/><path d="M211.2,491C211.2,491 211.2,491 229.3,494C247.4,497 283.6,503.1 285.1,513.4C286.5,523.6 253.3,538.1 236.7,545.4C220.1,552.6 220.1,552.6 220.1,552.6"/><path class="h" d="M211,482.1C211,482.1 211,482.1 231.7,484.5C252.5,487 293.9,491.9 328.6,479.8C363.2,467.7 391.1,438.6 422.7,441.1C454.4,443.7 489.9,478 519.9,470.3C549.9,462.7 574.5,413.1 612.9,372.7C651.4,332.3 703.7,301.1 729.9,285.5C756.1,269.8 756.1,269.8 756.1,269.8" stroke="url(#ga)"/><path d="M211,482.1C211,482.1 211,482.1 232,485.1C253.1,488.1 295.2,494.2 330.5,483.3C365.8,472.3 394.3,444.3 426.6,448.1C458.9,451.8 495.1,487.2 532.9,489.7C570.6,492.1 610.1,461.5 658.4,438.7C706.8,415.8 764,400.6 792.7,393C821.3,385.4 821.3,385.4 821.3,385.4"/><path d="M211,482.1C211,482.1 211,482.1 229.1,486.5C247.2,490.9 283.5,499.7 285,511.4C286.5,523.2 253.3,537.9 236.7,545.3C220.1,552.6 220.1,552.6 220.1,552.6"/><path d="M211,482.1C211,482.1 211,482.1 229.2,484.8C247.3,487.5 283.7,492.9 313.2,481.3C342.7,469.7 365.5,441 367.6,424.9C369.6,408.8 351.1,405.2 326,395.2C300.9,385.1 269.1,368.6 253.2,360.3C237.3,352 237.3,352 237.3,352"/><path d="M211,473.1C211,473.1 211,473.1 229.2,468.2C247.5,463.2 284,453.2 286.3,438.6C288.6,423.9 256.7,404.7 240.8,395C224.9,385.4 224.9,385.4 224.9,385.4"/><path d="M211,473.1C211,473.1 211,473.1 229.3,468C247.5,463 284.1,452.8 286.9,436.7C289.7,420.7 258.6,398.8 243.1,387.9C227.6,376.9 227.6,376.9 227.6,376.9"/><path d="M211,473.1C211,473.1 211,473.1 229.3,470.1C247.6,467 284.1,460.8 313.7,453.7C343.4,446.6 366.1,438.6 392.6,453.6C419.2,468.5 449.7,506.6 452.9,530.4C456.2,554.2 432.4,563.9 394.6,578.9C356.8,594 305.2,614.5 279.3,624.7C253.5,635 253.5,635 253.5,635"/><path d="M211,473.1C211,473.1 211,473.1 229.1,469.1C247.1,465.1 283.3,457.1 283.3,455.6C283.4,454.2 247.3,459.2 229.3,461.7C211.2,464.2 211.2,464.2 211.2,464.2"/><path d="M211,473.1C211,473.1 211,473.1 229.1,468.8C247.2,464.5 283.4,455.8 283.8,449.9C284.2,443.9 248.9,440.8 231.2,439.2C213.5,437.6 213.5,437.6 213.5,437.6"/><path d="M211,473.1C211,473.1 211,473.1 229.1,468.9C247.2,464.7 283.3,456.2 283.6,451.8C283.9,447.3 248.2,446.9 230.3,446.7C212.5,446.4 212.5,446.4 212.5,446.4"/><path d="M211,473.1C211,473.1 211,473.1 232,468.5C253,463.9 295,454.7 330.1,444.5C365.1,434.3 393.2,423.2 425.2,435.1C457.2,447.1 493.1,482 529,480.5C564.9,479.1 600.8,441.3 645.5,409.8C690.2,378.3 743.6,353.1 770.3,340.6C797.1,328 797.1,328 797.1,328"/><path d="M211,473.1C211,473.1 211,473.1 229.2,468.6C247.4,464 283.8,455 313.2,444.9C342.7,434.9 365.2,423.9 367.1,416.8C369.1,409.7 350.5,406.5 324.3,399C298.1,391.6 264.4,380.1 247.5,374.3C230.6,368.5 230.6,368.5 230.6,368.5"/><path d="M211,473.1C211,473.1 211,473.1 232,468.5C252.9,463.8 294.9,454.5 329.9,444.3C364.9,434 393,422.8 425,434.7C456.9,446.5 492.8,481.4 528.6,479.8C564.5,478.3 600.3,440.4 644.3,407.7C688.3,375.1 740.5,347.7 766.6,333.9C792.7,320.2 792.7,320.2 792.7,320.2"/><path d="M211,473.1C211,473.1 211,473.1 231.9,468.4C252.9,463.8 294.8,454.4 329.8,444C364.8,433.7 392.8,422.5 424.7,434.2C456.6,446 492.4,480.8 528.2,479.2C564,477.6 599.8,439.6 643.1,405.7C686.4,371.9 737.3,342.3 762.7,327.4C788.1,312.6 788.1,312.6 788.1,312.6"/><path d="M211,473.1C211,473.1 211,473.1 229.3,470.1C247.6,467.1 284.3,461.1 314,454.2C343.8,447.2 366.5,439.3 393.2,454.5C419.9,469.6 450.4,507.8 453.8,531.7C457.2,555.7 433.4,565.5 397.1,582.9C360.7,600.2 311.8,625.2 287.4,637.6C262.9,650.1 262.9,650.1 262.9,650.1"/><path d="M211,473.1C211,473.1 211,473.1 232,468.6C253.1,464.1 295.2,455.1 330.4,445.2C365.6,435.3 393.8,424.4 425.9,436.6C458.1,448.7 494.1,483.9 530.1,482.7C566.1,481.5 602.1,443.9 648.6,416C695,388.2 752,370.1 780.4,361C808.9,352 808.9,352 808.9,352"/><path d="M211,473.1C211,473.1 211,473.1 230,470.7C249,468.3 287,463.4 318.1,457.6C349.1,451.7 373.3,445 401.3,461.3C429.3,477.5 461.2,516.8 465.9,541.9C470.6,567.1 448.2,578 432.3,612.5C416.4,647.1 406.9,705.2 402.2,734.3C397.5,763.4 397.5,763.4 397.5,763.4"/><path d="M211,473.1C211,473.1 211,473.1 229.8,470.6C248.7,468.1 286.4,463.1 317.1,457.1C347.9,451.1 371.7,444.2 399.4,460.3C427.1,476.4 458.6,515.5 463,540.5C467.5,565.4 444.7,576.2 424,608.3C403.2,640.4 384.5,693.8 375.1,720.5C365.7,747.2 365.7,747.2 365.7,747.2"/><path d="M211,473.1C211,473.1 211,473.1 232,468.6C253.1,464.1 295.2,455 330.3,445C365.4,435 393.6,424 425.7,436.1C457.8,448.2 493.8,483.3 529.8,482C565.7,480.7 601.7,443 647.6,413.9C693.5,384.8 749.3,364.4 777.2,354.1C805.2,343.9 805.2,343.9 805.2,343.9"/><path class="h" d="M211.2,464.2C211.2,464.2 211.2,464.2 231.9,460.6C252.6,456.9 294,449.6 328.5,440C363,430.5 390.6,418.8 422.1,430.1C453.5,441.4 488.9,475.7 518.8,468.1C548.7,460.5 573.2,411 609.8,368.8C646.3,326.6 695.1,291.7 719.5,274.3C743.8,256.9 743.8,256.9 743.8,256.9" stroke="url(#ga)"/><path d="M211.2,464.2C211.2,464.2 211.2,464.2 229.3,461.3C247.4,458.3 283.5,452.4 283.9,447.9C284.3,443.5 248.9,440.5 231.2,439.1C213.5,437.6 213.5,437.6 213.5,437.6"/><path d="M211.2,464.2C211.2,464.2 211.2,464.2 230.2,463.1C249.2,462 287.1,459.7 318.1,455.2C349.2,450.8 373.3,444.1 401.3,460.5C429.3,476.8 461.2,516.2 465.9,541.4C470.7,566.6 448.2,577.6 432.3,612.3C416.4,646.9 406.9,705.1 402.2,734.2C397.5,763.4 397.5,763.4 397.5,763.4"/><path d="M211.2,464.2C211.2,464.2 211.2,464.2 229.7,462.6C248.2,461 285.1,457.8 315.2,452.4C345.2,447 368.3,439.4 395.3,454.8C422.3,470.3 453.2,508.7 457,533C460.7,557.2 437.3,567.3 419.9,579.8C402.6,592.3 391.3,607.2 374.9,629.4C358.5,651.6 336.9,681.1 326.1,695.8C315.3,710.6 315.3,710.6 315.3,710.6"/><path d="M211.2,464.2C211.2,464.2 211.2,464.2 229.3,461.5C247.3,458.7 283.4,453.3 283.5,451.8C283.6,450.3 247.7,452.8 229.7,454.1C211.7,455.3 211.7,455.3 211.7,455.3"/><path d="M211.2,464.2C211.2,464.2 211.2,464.2 229.3,461.4C247.3,458.5 283.4,452.8 283.7,449.9C283.9,446.9 248.2,446.7 230.3,446.6C212.5,446.4 212.5,446.4 212.5,446.4"/><path d="M211.2,464.2C211.2,464.2 211.2,464.2 229.4,461C247.6,457.8 283.9,451.3 313.3,442.7C342.7,434 365.2,423.2 367.1,416.2C369.1,409.2 350.5,406 324.3,398.7C298.1,391.4 264.4,380 247.5,374.2C230.6,368.5 230.6,368.5 230.6,368.5"/><path d="M211.2,464.2C211.2,464.2 211.2,464.2 229.5,462.4C247.7,460.6 284.1,457 313.7,451.1C343.2,445.3 365.9,437.3 392.4,452.3C418.9,467.3 449.3,505.3 452.6,529.1C455.8,553 431.9,562.6 393.5,576.6C355,590.6 302.1,608.9 275.6,618C249.1,627.2 249.1,627.2 249.1,627.2"/><path d="M211.2,464.2C211.2,464.2 211.2,464.2 229.7,462.6C248.1,461 285,457.7 315,452.3C345,446.8 368,439.2 395,454.5C421.9,469.9 452.8,508.3 456.5,532.5C460.2,556.7 436.7,566.8 419.3,579.2C401.9,591.6 390.5,606.5 373.1,627.8C355.7,649.1 332.2,676.8 320.5,690.7C308.8,704.5 308.8,704.5 308.8,704.5"/><path d="M211.2,464.2C211.2,464.2 211.2,464.2 229.5,462.5C247.7,460.7 284.2,457.1 313.8,451.4C343.4,445.6 366.1,437.7 392.7,452.8C419.2,467.8 449.7,505.9 453,529.8C456.3,553.8 432.4,563.5 394.6,578.7C356.9,593.8 305.2,614.4 279.4,624.7C253.5,635 253.5,635 253.5,635"/><path d="M211.2,464.2C211.2,464.2 211.2,464.2 230,463C248.9,461.8 286.5,459.4 317.2,454.7C347.9,450.1 371.7,443.3 399.4,459.5C427.1,475.7 458.6,514.9 463.1,539.9C467.5,565 444.7,575.8 424,608C403.2,640.2 384.5,693.7 375.1,720.4C365.7,747.2 365.7,747.2 365.7,747.2"/><path d="M211.2,464.2C211.2,464.2 211.2,464.2 229.5,462.5C247.8,460.8 284.4,457.4 314.1,451.8C343.8,446.2 366.6,438.4 393.2,453.7C419.9,468.9 450.4,507.1 453.8,531.2C457.2,555.3 433.4,565.2 397.1,582.6C360.7,600.1 311.8,625.1 287.4,637.6C262.9,650.1 262.9,650.1 262.9,650.1"/><path d="M211.2,464.2C211.2,464.2 211.2,464.2 229.9,462.9C248.6,461.6 285.9,459 316.3,454.2C346.7,449.3 370.2,442.3 397.6,458.3C425,474.3 456.3,513.3 460.4,538.2C464.5,563 441.5,573.7 416.2,602.9C391,632.1 363.5,679.8 349.8,703.6C336,727.5 336,727.5 336,727.5"/><path d="M211.2,464.2C211.2,464.2 211.2,464.2 229.3,461.7C247.3,459.2 283.4,454.2 283.3,455.6C283.3,457.1 247.1,465.1 229.1,469.1C211,473.1 211,473.1 211,473.1"/><path d="M211.7,455.3C211.7,455.3 211.7,455.3 230.6,455.5C249.5,455.6 287.2,455.9 318,452.8C348.9,449.6 372.9,443 400.8,459.4C428.8,475.9 460.6,515.3 465.2,540.5C469.9,565.8 447.4,576.9 430.2,611C413,645.2 401.2,702.4 395.3,731C389.4,759.7 389.4,759.7 389.4,759.7"/><path d="M211.7,455.3C211.7,455.3 211.7,455.3 229.7,454.2C247.7,453 283.6,450.7 283.4,453.7C283.3,456.7 247.1,464.9 229.1,469C211,473.1 211,473.1 211,473.1"/><path d="M211.7,455.3C211.7,455.3 211.7,455.3 232.7,453.5C253.7,451.6 295.6,448 330.7,440.8C365.8,433.7 394.1,423.1 426.2,435.5C458.4,447.9 494.4,483.3 532.1,485.8C569.8,488.2 609.1,457.7 656.1,431.3C703.1,404.9 757.7,382.5 785,371.4C812.3,360.2 812.3,360.2 812.3,360.2"/><path d="M211.7,455.3C211.7,455.3 211.7,455.3 229.8,453.6C247.8,451.9 283.8,448.4 293.4,443.8C302.9,439.2 285.9,433.4 269,427.8C252,422.2 235.1,416.7 226.6,414C218.1,411.2 218.1,411.2 218.1,411.2"/><path d="M211.7,455.3C211.7,455.3 211.7,455.3 229.8,453.5C247.8,451.7 283.9,448.1 293.5,443.3C303,438.6 286.1,432.7 269.5,425.7C252.8,418.7 236.5,410.7 228.3,406.6C220.1,402.6 220.1,402.6 220.1,402.6"/><path d="M212.5,446.4C212.5,446.4 212.5,446.4 230.4,446.1C248.3,445.8 284.1,445.1 293.5,442.1C302.8,439 285.9,433.6 268.6,429.5C251.3,425.4 233.8,422.7 225.1,421.3C216.3,420 216.3,420 216.3,420"/><path d="M212.5,446.4C212.5,446.4 212.5,446.4 230.4,446.4C248.2,446.4 283.9,446.4 283.8,447.9C283.6,449.4 247.7,452.4 229.7,453.9C211.7,455.3 211.7,455.3 211.7,455.3"/><path d="M212.5,446.4C212.5,446.4 212.5,446.4 230.4,446.2C248.2,446 284,445.6 284.2,444.1C284.3,442.6 248.9,440.1 231.2,438.8C213.5,437.6 213.5,437.6 213.5,437.6"/><path d="M212.5,446.4C212.5,446.4 212.5,446.4 230.4,446.2C248.3,445.9 284,445.4 293.4,442.5C302.7,439.6 285.7,434.3 268.2,431.6C250.7,428.9 232.8,428.8 223.8,428.8C214.8,428.8 214.8,428.8 214.8,428.8"/><path d="M212.5,446.4C212.5,446.4 212.5,446.4 230.3,446.7C248.2,446.9 283.9,447.3 283.6,451.8C283.3,456.2 247.2,464.7 229.1,468.9C211,473.1 211,473.1 211,473.1"/><path class="h" d="M213.5,437.6C213.5,437.6 213.5,437.6 233.9,437.8C254.3,438.1 295,438.6 329.1,433.1C363.3,427.6 390.8,416.1 422.3,427.7C453.7,439.2 489.1,473.8 518.9,466.5C548.8,459.1 573.2,409.9 609.8,368C646.4,326 695.1,291.5 719.5,274.2C743.8,256.9 743.8,256.9 743.8,256.9" stroke="url(#ga)"/><path class="h" d="M213.5,437.6C213.5,437.6 213.5,437.6 233.9,437.8C254.2,438 294.9,438.4 328.9,432.9C363,427.3 390.5,415.8 421.9,427.3C453.3,438.8 488.5,473.3 518.4,465.9C548.2,458.5 572.5,409.2 608.1,366.3C643.8,323.5 690.6,287.1 714,268.9C737.4,250.7 737.4,250.7 737.4,250.7" stroke="url(#ga)"/><path d="M213.5,437.6C213.5,437.6 213.5,437.6 232.2,440.4C250.8,443.1 288.1,448.7 318.7,448.3C349.4,447.8 373.5,441.4 401.5,458.1C429.5,474.7 461.4,514.3 466.1,539.8C470.8,565.3 448.3,576.6 432.4,611.5C416.4,646.4 407,704.9 402.2,734.1C397.5,763.4 397.5,763.4 397.5,763.4"/><path d="M213.5,437.6C213.5,437.6 213.5,437.6 231.2,439C248.9,440.3 284.3,443.1 284,446C283.7,449 247.7,452.1 229.7,453.7C211.7,455.3 211.7,455.3 211.7,455.3"/><path d="M213.5,437.6C213.5,437.6 213.5,437.6 231.2,438.8C248.9,440.1 284.3,442.6 284.2,444.1C284,445.6 248.2,446 230.4,446.2C212.5,446.4 212.5,446.4 212.5,446.4"/><path d="M213.5,437.6C213.5,437.6 213.5,437.6 231.4,438.1C249.2,438.6 284.9,439.6 286.8,430.9C288.7,422.2 256.8,403.8 240.8,394.6C224.9,385.4 224.9,385.4 224.9,385.4"/><path d="M213.5,437.6C213.5,437.6 213.5,437.6 231.4,439.7C249.3,441.9 285.2,446.1 314.4,444.4C343.7,442.7 366.3,435 392.9,450.4C419.4,465.7 449.8,504.1 453.1,528.2C456.4,552.4 432.5,562.4 394.7,577.9C356.9,593.3 305.2,614.1 279.4,624.5C253.5,635 253.5,635 253.5,635"/><path d="M213.5,437.6C213.5,437.6 213.5,437.6 232,440.3C250.5,443 287.4,448.4 317.8,447.8C348.1,447.2 371.9,440.6 399.6,457.1C427.3,473.6 458.8,513 463.2,538.3C467.6,563.7 444.8,574.8 424.1,607.2C403.3,639.7 384.5,693.4 375.1,720.3C365.7,747.2 365.7,747.2 365.7,747.2"/><path d="M213.5,437.6C213.5,437.6 213.5,437.6 231.8,440.2C250.2,442.8 286.8,448 316.9,447.2C347,446.4 370.4,439.6 397.8,455.9C425.2,472.2 456.4,511.5 460.5,536.6C464.6,561.7 441.6,572.6 416.3,602.1C391,631.5 363.5,679.5 349.8,703.5C336,727.5 336,727.5 336,727.5"/><path d="M213.5,437.6C213.5,437.6 213.5,437.6 231.2,439.2C248.9,440.8 284.2,443.9 283.8,449.9C283.4,455.8 247.2,464.5 229.1,468.8C211,473.1 211,473.1 211,473.1"/><path d="M216.3,420C216.3,420 216.3,420 225.1,421.3C233.8,422.7 251.3,425.4 268.6,429.5C285.9,433.6 302.8,439 293.5,442.1C284.1,445.1 248.3,445.8 230.4,446.1C212.5,446.4 212.5,446.4 212.5,446.4"/><path d="M216.3,420C216.3,420 216.3,420 225.1,421.3C233.8,422.6 251.4,425.1 268.6,429C285.9,433 302.9,438.3 293.7,439.9C284.5,441.6 249,439.6 231.3,438.6C213.5,437.6 213.5,437.6 213.5,437.6"/><path d="M216.3,420C216.3,420 216.3,420 225.1,421.4C233.8,422.8 251.3,425.7 268.6,429.9C285.8,434.2 302.8,439.8 293.3,444.2C283.8,448.7 247.8,452 229.7,453.7C211.7,455.3 211.7,455.3 211.7,455.3"/><path d="M216.3,420C216.3,420 216.3,420 225.1,421C233.9,422 251.6,424.1 251.9,422.6C252.1,421.2 235.1,416.2 226.6,413.7C218.1,411.2 218.1,411.2 218.1,411.2"/><path d="M216.3,420C216.3,420 216.3,420 225.3,422C234.2,424.1 252.2,428.2 269.8,433.7C287.5,439.2 304.9,446.1 324.9,445.6C344.9,445.1 367.5,437.4 394,452.6C420.5,467.8 450.9,506 454.1,530.1C457.3,554.2 433.4,564.1 396.2,580.4C359,596.8 308.6,619.7 283.3,631.2C258.1,642.6 258.1,642.6 258.1,642.6"/><path d="M216.3,420C216.3,420 216.3,420 225.7,422.5C235.1,424.9 253.8,429.9 272.3,436.2C290.8,442.6 309.1,450.3 329.9,450.6C350.7,451 374.2,444 401.5,460.1C428.8,476.1 460,515.2 464.1,540.1C468.2,565 445,575.7 422.9,607.1C400.7,638.5 379.4,690.5 368.7,716.6C358.1,742.6 358.1,742.6 358.1,742.6"/><path d="M216.3,420C216.3,420 216.3,420 225.1,421.2C233.9,422.5 251.4,425 251.1,426.4C250.9,427.9 232.8,428.3 223.8,428.6C214.8,428.8 214.8,428.8 214.8,428.8"/><path d="M218.1,411.2C218.1,411.2 218.1,411.2 226.6,414C235.1,416.7 252,422.2 269,427.8C285.9,433.4 302.9,439.2 293.4,443.8C283.8,448.4 247.8,451.9 229.8,453.6C211.7,455.3 211.7,455.3 211.7,455.3"/><path d="M220.1,402.6C220.1,402.6 220.1,402.6 228.5,407.2C236.9,411.8 253.7,421 270.8,429.1C287.9,437.2 305.3,444.2 325.3,443.9C345.3,443.5 367.8,435.9 394.3,451.3C420.8,466.6 451.1,505 454.3,529.2C457.5,553.4 433.5,563.5 396.3,580C359.1,596.5 308.6,619.6 283.4,631.1C258.1,642.6 258.1,642.6 258.1,642.6"/><path d="M220.1,402.6C220.1,402.6 220.1,402.6 228.3,406.6C236.5,410.7 252.8,418.7 269.5,425.7C286.1,432.7 303,438.6 293.5,443.3C283.9,448.1 247.8,451.7 229.8,453.5C211.7,455.3 211.7,455.3 211.7,455.3"/><path d="M220.1,402.6C220.1,402.6 220.1,402.6 228.3,406.3C236.6,410 253,417.4 252.7,418.9C252.3,420.3 235.2,415.8 226.6,413.5C218.1,411.2 218.1,411.2 218.1,411.2"/><path d="M222.4,393.9C222.4,393.9 222.4,393.9 241.7,400.9C260.9,407.8 299.5,421.6 332.8,423.3C366,425 393.9,414.5 425.7,427.1C457.5,439.6 493.2,475.2 528.9,474.4C564.6,473.6 600.3,436.4 643.5,403.4C686.7,370.3 737.4,341.5 762.7,327C788.1,312.6 788.1,312.6 788.1,312.6"/><path d="M222.4,393.9C222.4,393.9 222.4,393.9 239.7,403.1C257.1,412.3 291.9,430.7 321.3,436.9C350.7,443.2 374.8,437.2 402.8,454.3C430.8,471.4 462.6,511.6 475,541.7C487.3,571.9 480.2,592.2 465.4,628C450.6,663.9 428.1,715.4 416.9,741.1C405.7,766.8 405.7,766.8 405.7,766.8"/><path d="M222.4,393.9C222.4,393.9 222.4,393.9 239.8,403.2C257.3,412.4 292.2,430.8 321.8,437.1C351.4,443.4 375.6,437.6 403.8,454.7C431.9,471.9 464,512.1 476.5,542.3C489,572.6 482,592.9 469.7,629.7C457.5,666.5 439.9,719.8 431.2,746.4C422.4,773.1 422.4,773.1 422.4,773.1"/><path d="M222.4,393.9C222.4,393.9 222.4,393.9 240,403.2C257.6,412.5 292.9,431 322.8,437.4C352.8,443.8 377.4,438 405.8,455.3C434.3,472.5 466.7,512.8 479.6,543.2C492.4,573.5 485.8,593.9 478.7,632.2C471.7,670.4 464.2,726.5 460.5,754.6C456.7,782.6 456.7,782.6 456.7,782.6"/><path d="M222.4,393.9C222.4,393.9 222.4,393.9 240.1,403.2C257.8,412.5 293.2,431.1 323.4,437.5C353.5,443.9 378.2,438.2 406.9,455.5C435.6,472.8 468.1,513.1 481.1,543.5C494.2,573.8 487.7,594.3 483.3,633C478.9,671.8 476.6,728.8 475.4,757.4C474.3,785.9 474.3,785.9 474.3,785.9"/><path d="M222.4,393.9C222.4,393.9 222.4,393.9 239.9,403.2C257.4,412.4 292.4,430.9 322.1,437.2C351.7,443.5 376.1,437.7 404.3,454.9C432.5,472.1 464.6,512.3 477.2,542.6C489.8,572.8 482.9,593.2 472,630.4C461,667.6 445.9,721.7 438.4,748.8C430.9,775.8 430.9,775.8 430.9,775.8"/><path d="M222.4,393.9C222.4,393.9 222.4,393.9 238.7,402.3C255,410.6 287.6,427.2 285.7,440.4C283.8,453.6 247.4,463.4 229.2,468.3C211,473.1 211,473.1 211,473.1"/><path d="M222.4,393.9C222.4,393.9 222.4,393.9 240,403.2C257.5,412.5 292.7,431 322.6,437.4C352.4,443.7 376.9,437.9 405.3,455.2C433.7,472.4 466,512.7 478.8,543C491.6,573.3 484.8,593.7 476.5,631.6C468.1,669.6 458.1,725.1 453.1,752.8C448.1,780.6 448.1,780.6 448.1,780.6"/><path d="M222.4,393.9C222.4,393.9 222.4,393.9 239.8,403.2C257.2,412.4 292,430.8 321.5,437C351,443.3 375.2,437.4 403.3,454.5C431.3,471.7 463.3,511.8 475.7,542C488.2,572.3 481.1,592.5 467.5,628.9C454,665.2 434,717.7 424,743.9C414,770.1 414,770.1 414,770.1"/><path d="M222.4,393.9C222.4,393.9 222.4,393.9 239.9,403.2C257.5,412.4 292.5,430.9 322.3,437.3C352.1,443.6 376.5,437.8 404.8,455C433.1,472.2 465.3,512.5 478,542.8C490.7,573.1 483.9,593.5 474.2,631.1C464.5,668.7 452,723.5 445.7,750.9C439.4,778.3 439.4,778.3 439.4,778.3"/><path d="M222.4,393.9C222.4,393.9 222.4,393.9 240,403.2C257.7,412.5 293.1,431.1 323.1,437.5C353.1,443.9 377.8,438.1 406.4,455.4C434.9,472.7 467.4,513 480.4,543.3C493.3,573.7 486.7,594.1 481,632.6C475.3,671.2 470.4,727.8 467.9,756.1C465.5,784.4 465.5,784.4 465.5,784.4"/><path d="M222.4,393.9C222.4,393.9 222.4,393.9 239,402.4C255.6,410.9 288.7,427.9 316.6,432.8C344.5,437.6 367,430.3 393.4,446C419.8,461.7 450.1,500.4 453.2,524.9C456.4,549.5 432.4,559.8 393.8,574.5C355.3,589.2 302.2,608.2 275.7,617.7C249.1,627.2 249.1,627.2 249.1,627.2"/><path d="M222.4,393.9C222.4,393.9 222.4,393.9 241.8,401.1C261.2,408.2 299.9,422.4 333.4,424.5C366.8,426.6 395,416.5 427,429.5C459,442.4 494.9,478.4 530.8,478C566.7,477.5 602.6,440.7 648.9,413.7C695.3,386.6 752.1,369.3 780.5,360.6C808.9,352 808.9,352 808.9,352"/><path d="M224.9,385.4C224.9,385.4 224.9,385.4 240.8,394.7C256.8,404 288.7,422.6 286.6,432.8C284.6,443 248.5,444.7 230.5,445.6C212.5,446.4 212.5,446.4 212.5,446.4"/><path d="M224.9,385.4C224.9,385.4 224.9,385.4 240.8,394.6C256.8,403.8 288.7,422.2 286.8,430.9C284.9,439.6 249.2,438.6 231.4,438.1C213.5,437.6 213.5,437.6 213.5,437.6"/><path d="M224.9,385.4C224.9,385.4 224.9,385.4 241.8,395.8C258.8,406.2 292.7,427.1 321.7,434.6C350.7,442.1 374.6,436.2 402.5,453.4C430.4,470.5 462.1,510.7 466.7,536.7C471.3,562.7 448.8,574.5 432.7,609.9C416.6,645.3 407.1,704.3 402.3,733.9C397.5,763.4 397.5,763.4 397.5,763.4"/><path d="M224.9,385.4C224.9,385.4 224.9,385.4 240.8,395C256.7,404.7 288.6,423.9 286.3,438.6C284,453.2 247.5,463.2 229.2,468.2C211,473.1 211,473.1 211,473.1"/><path d="M227.6,376.9C227.6,376.9 227.6,376.9 243.1,387.7C258.7,398.6 289.7,420.2 286.9,434.8C284.2,449.3 247.7,456.8 229.5,460.5C211.2,464.2 211.2,464.2 211.2,464.2"/><path d="M227.6,376.9C227.6,376.9 227.6,376.9 243.1,387.9C258.6,398.8 289.7,420.7 286.9,436.7C284.1,452.8 247.5,463 229.3,468C211,473.1 211,473.1 211,473.1"/><path d="M227.6,376.9C227.6,376.9 227.6,376.9 243.3,386.8C259,396.6 290.4,416.3 289.9,417.7C289.4,419.1 257.2,402.3 241,393.8C224.9,385.4 224.9,385.4 224.9,385.4"/><path d="M227.6,376.9C227.6,376.9 227.6,376.9 243.2,387.5C258.7,398.1 289.7,419.3 287.2,430.9C284.7,442.5 248.6,444.5 230.6,445.5C212.5,446.4 212.5,446.4 212.5,446.4"/><path d="M227.6,376.9C227.6,376.9 227.6,376.9 243.2,387.4C258.7,397.9 289.8,418.9 287.4,429C285.1,439.1 249.3,438.4 231.4,438C213.5,437.6 213.5,437.6 213.5,437.6"/><path d="M227.6,376.9C227.6,376.9 227.6,376.9 243.9,385.8C260.2,394.7 292.8,412.4 320.9,415.6C348.9,418.8 372.3,407.4 386.3,387.3C400.2,367.2 404.7,338.3 392.4,312.1C380.1,285.9 351.1,262.4 336.6,250.6C322.1,238.8 322.1,238.8 322.1,238.8"/><path d="M227.6,376.9C227.6,376.9 227.6,376.9 244.9,385.4C262.1,393.8 296.7,410.7 326.6,413C356.5,415.3 381.8,403.1 397.7,382.1C413.5,361.1 419.9,331.4 431.1,294.5C442.3,257.5 458.3,213.4 466.3,191.4C474.3,169.3 474.3,169.3 474.3,169.3"/><path d="M227.6,376.9C227.6,376.9 227.6,376.9 243.5,388C259.4,399.1 291.2,421.3 318.4,429C345.6,436.6 368.2,429.7 394.7,445.8C421.2,461.9 451.6,501 454.8,526C458,550.9 434.1,561.7 397.6,580C361.1,598.3 312,624.2 287.5,637.2C262.9,650.1 262.9,650.1 262.9,650.1"/><path d="M230.6,368.5C230.6,368.5 230.6,368.5 247.5,374.1C264.4,379.7 298.2,391 324.3,398C350.5,405.1 369.2,408.1 367.2,414.8C365.3,421.6 342.8,432.2 313.6,438.1C284.4,444.1 248.4,445.3 230.5,445.9C212.5,446.4 212.5,446.4 212.5,446.4"/><path d="M230.6,368.5C230.6,368.5 230.6,368.5 247.5,374.1C264.4,379.6 298.2,390.7 324.4,397.7C350.6,404.7 369.2,407.5 367.3,414.2C365.4,420.8 342.9,431.3 313.9,435.9C284.8,440.4 249.2,439 231.3,438.3C213.5,437.6 213.5,437.6 213.5,437.6"/><path d="M230.6,368.5C230.6,368.5 230.6,368.5 247.5,374.2C264.4,380 298.1,391.4 324.3,398.7C350.5,406 369.1,409.2 367.1,416.2C365.2,423.2 342.7,434 313.3,442.7C283.9,451.3 247.6,457.8 229.4,461C211.2,464.2 211.2,464.2 211.2,464.2"/><path d="M230.6,368.5C230.6,368.5 230.6,368.5 247.5,374.2C264.4,379.9 298.1,391.2 324.3,398.4C350.5,405.6 369.1,408.6 367.2,415.5C365.2,422.4 342.7,433.1 313.4,440.4C284.1,447.7 247.9,451.5 229.8,453.4C211.7,455.3 211.7,455.3 211.7,455.3"/><path d="M233.9,360.2C233.9,360.2 233.9,360.2 250.4,366.6C266.9,373 299.8,385.8 299.3,387.2C298.8,388.6 264.7,378.6 247.7,373.5C230.6,368.5 230.6,368.5 230.6,368.5"/><path d="M237.3,352C237.3,352 237.3,352 253.2,360.1C269.1,368.1 300.9,384.2 326,393.8C351.2,403.5 369.7,406.6 367.7,413.6C365.7,420.6 343.1,431.4 313.8,437.5C284.6,443.6 248.5,445 230.5,445.7C212.5,446.4 212.5,446.4 212.5,446.4"/><path d="M237.3,352C237.3,352 237.3,352 253.2,360C269.1,368 300.9,384 326.1,393.5C351.3,403 369.8,406.1 367.8,412.9C365.8,419.8 343.2,430.5 314.1,435.3C285,440 249.2,438.8 231.4,438.2C213.5,437.6 213.5,437.6 213.5,437.6"/><path class="h" d="M241,343.9C241,343.9 241,343.9 259.1,352.1C277.1,360.2 313.2,376.6 343.1,385.3C373.1,394 397,395.1 426.5,413.4C455.9,431.7 491,467.3 520.6,460.9C550.2,454.5 574.3,406.1 610.6,365.2C646.9,324.2 695.4,290.5 719.6,273.7C743.8,256.9 743.8,256.9 743.8,256.9" stroke="url(#ga)"/><path class="h" d="M245,335.9C245,335.9 245,335.9 263.6,342.9C282.2,349.8 319.4,363.7 348.8,373.7C378.2,383.6 399.7,389.6 428,410.3C456.2,431.1 491.3,466.7 520.8,460.4C550.4,454.1 574.5,405.8 610.8,364.9C647,324 695.4,290.4 719.6,273.7C743.8,256.9 743.8,256.9 743.8,256.9" stroke="url(#ga)"/><path class="h" d="M245,335.9C245,335.9 245,335.9 263.5,342.8C282.1,349.8 319.3,363.6 348.6,373.5C377.9,383.4 399.4,389.3 427.6,410C455.8,430.7 490.7,466.2 520.2,459.8C549.8,453.4 573.8,405.1 609.1,363.3C644.4,321.4 690.9,286.1 714.2,268.4C737.4,250.7 737.4,250.7 737.4,250.7" stroke="url(#ga)"/><path d="M245,335.9C245,335.9 245,335.9 260.9,344C276.8,352.1 308.6,368.3 332.6,380.5C356.5,392.8 372.7,401 369.4,410.7C366.1,420.3 343.5,431.5 313.9,439.2C284.4,446.9 248.1,451.1 229.9,453.2C211.7,455.3 211.7,455.3 211.7,455.3"/><path d="M245,335.9C245,335.9 245,335.9 261.7,345.3C278.3,354.7 311.7,373.5 337.2,388.3C362.7,403 380.4,413.8 404.8,439.5C429.2,465.1 460.4,505.6 464.4,531.8C468.4,558.1 445.2,570.2 423,603C400.8,635.7 379.4,689.2 368.8,715.9C358.1,742.6 358.1,742.6 358.1,742.6"/><path d="M245,335.9C245,335.9 245,335.9 264,343.5C282.9,351 320.9,366.1 351,377.3C381.1,388.4 403.4,395.6 432.4,417.5C461.5,439.5 497.2,476.3 534.6,480.1C572.1,483.9 611.1,454.8 658.7,432.1C706.3,409.4 762.4,393.1 790.5,385C818.6,376.9 818.6,376.9 818.6,376.9"/><path d="M245,335.9C245,335.9 245,335.9 261.3,344.7C277.5,353.5 310.1,371 334.8,384.6C359.5,398.2 376.4,407.8 400,432.2C423.6,456.6 454,495.9 457.2,520.9C460.4,546 436.4,556.9 415.7,567.1C395,577.3 377.6,586.9 356.3,605.3C334.9,623.8 309.6,651.2 297,664.9C284.3,678.6 284.3,678.6 284.3,678.6"/><path d="M245,335.9C245,335.9 245,335.9 262,345.4C279,355 313,374.1 339.1,389.2C365.3,404.3 383.6,415.4 408.7,441.3C433.7,467.2 465.5,508 477.8,538.8C490.1,569.7 482.9,590.6 470.4,627.9C457.9,665.3 440.2,719.2 431.3,746.1C422.4,773.1 422.4,773.1 422.4,773.1"/><path d="M245,335.9C245,335.9 245,335.9 261.1,343.1C277.3,350.4 309.6,364.9 310.3,363.6C311,362.3 280.1,345.2 264.6,336.6C249.1,328 249.1,328 249.1,328"/><path d="M245,335.9C245,335.9 245,335.9 264,343.5C283,351.1 321,366.3 351.1,377.5C381.3,388.8 403.6,396 432.6,418C461.7,440.1 497.5,477 534.9,480.9C572.3,484.8 611.4,455.7 659.4,434.3C707.4,412.9 764.4,399.1 792.8,392.3C821.3,385.4 821.3,385.4 821.3,385.4"/><path d="M245,335.9C245,335.9 245,335.9 261.3,345C277.7,354.1 310.3,372.3 335.2,386.5C360,400.8 377,411 400.7,436C424.5,461.1 455,501 458.3,526.7C461.6,552.4 437.8,563.9 405.2,588C372.7,612.1 331.4,648.7 310.8,667C290.1,685.4 290.1,685.4 290.1,685.4"/><path d="M245,335.9C245,335.9 245,335.9 261.2,344.6C277.4,353.3 309.8,370.7 334.4,384.1C359,397.5 375.7,406.9 399.2,431.2C422.7,455.4 452.9,494.5 455.9,519.3C459,544.2 434.9,554.9 414.1,565C393.3,575 375.7,584.4 351.9,599.7C328.1,615 298,636.2 283,646.8C268,657.5 268,657.5 268,657.5"/><path d="M245,335.9C245,335.9 245,335.9 261.2,344.6C277.4,353.3 309.9,370.8 334.5,384.3C359.1,397.7 375.9,407.2 399.4,431.5C423,455.8 453.2,494.9 456.3,519.9C459.4,544.8 435.4,555.6 414.6,565.7C393.8,575.8 376.3,585.2 353.3,601.6C330.3,618 301.8,641.3 287.5,653C273.2,664.7 273.2,664.7 273.2,664.7"/><path d="M245,335.9C245,335.9 245,335.9 261.2,343.1C277.4,350.2 309.9,364.5 311.3,361.9C312.7,359.3 283.1,339.8 268.3,330C253.5,320.2 253.5,320.2 253.5,320.2"/><path d="M245,335.9C245,335.9 245,335.9 261.7,345.3C278.5,354.8 312,373.6 337.7,388.5C363.3,403.4 381.2,414.3 405.7,440C430.3,465.7 461.6,506.3 465.8,532.6C469.9,559 446.9,571.2 427,605.3C407.1,639.4 390.3,695.5 381.9,723.5C373.5,751.6 373.5,751.6 373.5,751.6"/><path d="M245,335.9C245,335.9 245,335.9 261.9,345.4C278.9,354.9 312.8,374 338.9,389.1C365,404.1 383.2,415.2 408.2,441.1C433.2,467 464.9,507.8 477.1,538.6C489.3,569.4 482,590.2 468.2,627.2C454.5,664.1 434.2,717.1 424.1,743.6C414,770.1 414,770.1 414,770.1"/><path d="M245,335.9C245,335.9 245,335.9 262.3,345.5C279.6,355.1 314.2,374.4 341,389.6C367.7,404.8 386.7,416.1 412.3,442.2C438,468.2 470.4,509.1 483.3,540.1C496.2,571.1 489.6,592.1 486.3,631.6C483,671.2 483.1,729.2 483.1,758.2C483.1,787.2 483.1,787.2 483.1,787.2"/><path d="M245,335.9C245,335.9 245,335.9 262.6,342.2C280.3,348.5 315.6,361.1 343.1,369.7C370.5,378.3 390.2,383 403.2,370.6C416.2,358.3 422.5,329.1 436.2,292.3C449.9,255.6 470.9,211.3 481.4,189.1C491.9,167 491.9,167 491.9,167"/><path d="M249.1,328C249.1,328 249.1,328 264.7,338.1C280.3,348.1 311.4,368.2 335.3,383.2C359.2,398.2 375.8,408.1 399.2,432.8C422.6,457.5 452.7,497 455.7,522.4C458.6,547.7 434.4,558.9 397,576.6C359.5,594.2 308.8,618.4 283.5,630.5C258.1,642.6 258.1,642.6 258.1,642.6"/><path d="M249.1,328C249.1,328 249.1,328 267.5,336.8C285.9,345.5 322.7,363.1 352.2,375.5C381.7,387.9 404,395.2 433,417.3C462,439.5 497.7,476.4 535.1,480.4C572.5,484.4 611.6,455.4 659.6,434.1C707.5,412.7 764.4,399.1 792.9,392.2C821.3,385.4 821.3,385.4 821.3,385.4"/><path d="M249.1,328C249.1,328 249.1,328 264.6,336.6C280.1,345.2 311,362.3 310.3,363.6C309.6,364.9 277.3,350.4 261.1,343.1C245,335.9 245,335.9 245,335.9"/><path d="M249.1,328C249.1,328 249.1,328 267.5,336.7C285.9,345.4 322.6,362.9 352.1,375.2C381.6,387.6 403.8,394.8 432.8,416.8C461.8,438.9 497.5,475.8 534.9,479.6C572.3,483.5 611.3,454.5 658.8,431.8C706.4,409.2 762.5,393.1 790.5,385C818.6,376.9 818.6,376.9 818.6,376.9"/><path d="M253.5,320.2C253.5,320.2 253.5,320.2 269.1,332C284.7,343.8 315.8,367.3 340.4,384.7C364.9,402 382.8,413.1 407.5,439.1C432.1,465 463.5,505.8 467.7,532.4C472,559 449,571.5 431.4,607C413.9,642.5 401.6,701.1 395.5,730.4C389.4,759.7 389.4,759.7 389.4,759.7"/><path d="M253.5,320.2C253.5,320.2 253.5,320.2 268.3,330C283.1,339.8 312.7,359.3 311.3,361.9C309.9,364.5 277.4,350.2 261.2,343.1C245,335.9 245,335.9 245,335.9"/><path d="M253.5,320.2C253.5,320.2 253.5,320.2 271.2,330.1C289,340 324.4,359.7 353.3,373.2C382.1,386.7 404.3,394 433.2,416.1C462.2,438.3 497.8,475.2 535.2,479.2C572.5,483.2 611.5,454.1 659,431.6C706.5,409.1 762.5,393 790.5,384.9C818.6,376.9 818.6,376.9 818.6,376.9"/><path d="M253.5,320.2C253.5,320.2 253.5,320.2 271.3,330.1C289,340 324.5,359.9 353.3,373.4C382.2,387 404.4,394.4 433.4,416.6C462.3,438.8 498.1,475.9 535.4,479.9C572.8,484 611.8,455.1 659.7,433.8C707.6,412.6 764.5,399 792.9,392.2C821.3,385.4 821.3,385.4 821.3,385.4"/><path d="M253.5,320.2C253.5,320.2 253.5,320.2 268.4,331.3C283.2,342.4 313,364.5 336.1,380.5C359.1,396.4 375.6,406.1 398.8,430.7C422,455.2 451.9,494.6 454.7,519.8C457.5,545 433.1,556 393.7,570.2C354.2,584.5 299.6,601.9 272.3,610.6C245,619.3 245,619.3 245,619.3"/><path d="M253.5,320.2C253.5,320.2 253.5,320.2 268.5,331.3C283.6,342.4 313.6,364.5 337.1,380.5C360.5,396.4 377.3,406.1 400.9,430.6C424.4,455.2 454.7,494.6 457.8,519.8C460.9,545 436.9,556 416.1,566.3C395.4,576.7 377.9,586.3 356.5,604.9C335.1,623.5 309.7,651.1 297,664.9C284.3,678.6 284.3,678.6 284.3,678.6"/><path d="M253.5,320.2C253.5,320.2 253.5,320.2 269.3,332.1C285,343.9 316.5,367.6 341.4,385.1C366.2,402.5 384.5,413.8 409.4,439.9C434.4,466 466.1,506.9 478.4,537.9C490.6,568.9 483.3,589.9 470.7,627.5C458.1,665 440.3,719 431.3,746.1C422.4,773.1 422.4,773.1 422.4,773.1"/><path d="M253.5,320.2C253.5,320.2 253.5,320.2 269.6,332.2C285.6,344.1 317.7,367.9 343.2,385.5C368.7,403.1 387.5,414.5 413.1,440.7C438.7,467 471,508 483.8,539.2C496.6,570.3 489.9,591.5 486.6,631.2C483.2,670.8 483.1,729 483.1,758.1C483.1,787.2 483.1,787.2 483.1,787.2"/><path d="M253.5,320.2C253.5,320.2 253.5,320.2 268.4,331.4C283.3,342.5 313,364.7 336.2,380.7C359.3,396.7 375.8,406.5 399,431.1C422.3,455.8 452.3,495.2 455.1,520.5C457.9,545.8 433.6,556.9 394.7,572.3C355.9,587.7 302.5,607.5 275.8,617.3C249.1,627.2 249.1,627.2 249.1,627.2"/><path d="M253.5,320.2C253.5,320.2 253.5,320.2 268.6,331.6C283.7,343 313.9,365.8 337.4,382.4C360.9,399 377.9,409.4 401.5,434.6C425.2,459.8 455.6,499.9 458.8,525.7C462,551.6 438.1,563.3 405.5,587.5C372.8,611.8 331.5,648.6 310.8,667C290.1,685.4 290.1,685.4 290.1,685.4"/><path d="M258.1,312.6C258.1,312.6 258.1,312.6 266.2,316.3C274.3,320.1 290.6,327.5 291.4,326.3C292.2,325 277.6,315.1 270.3,310.1C262.9,305.1 262.9,305.1 262.9,305.1"/><path class="h" d="M262.9,305.1C262.9,305.1 262.9,305.1 272.3,309.8C281.7,314.5 300.4,323.9 327.9,325C355.4,326.1 391.6,319 410.1,328.8C428.6,338.6 429.3,365.3 446.7,396.6C464.1,428 498.1,464 526.7,458C555.3,452.1 578.4,404.3 613.7,363.8C649,323.2 696.4,290.1 720.1,273.5C743.8,256.9 743.8,256.9 743.8,256.9" stroke="url(#ga)"/><path class="h" d="M262.9,305.1C262.9,305.1 262.9,305.1 272.3,309.8C281.6,314.4 300.3,323.7 327.8,324.8C355.2,325.9 391.4,318.7 409.8,328.4C428.2,338.2 428.9,364.9 446.2,396.2C463.6,427.5 497.5,463.4 526.1,457.4C554.6,451.4 577.7,403.5 612,362.1C646.3,320.6 691.9,285.7 714.7,268.2C737.4,250.7 737.4,250.7 737.4,250.7" stroke="url(#ga)"/><path d="M262.9,305.1C262.9,305.1 262.9,305.1 270.1,310.7C277.2,316.4 291.4,327.7 314.4,330.7C337.3,333.7 369,328.5 383,340.2C397,351.9 393.2,380.5 379.9,400.4C366.6,420.3 343.8,431.5 314.2,439.2C284.6,446.8 248.2,451.1 230,453.2C211.7,455.3 211.7,455.3 211.7,455.3"/><path d="M262.9,305.1C262.9,305.1 262.9,305.1 270.2,310.2C277.5,315.3 292,325.4 315.2,327.3C338.5,329.3 370.5,322.9 384.8,333.5C399,344.1 395.5,371.6 384.2,384.6C372.9,397.5 353.9,396 328.7,386.8C303.6,377.6 272.3,360.7 256.7,352.3C241,343.9 241,343.9 241,343.9"/><path d="M262.9,305.1C262.9,305.1 262.9,305.1 270.2,311.5C277.4,317.9 291.9,330.6 315.1,335.1C338.4,339.6 370.3,335.9 384.5,349.1C398.8,362.2 395.2,392.3 383.7,428.2C372.3,464.1 352.9,505.7 327.2,535.9C301.4,566 269.4,584.6 253.4,593.9C237.3,603.2 237.3,603.2 237.3,603.2"/><path d="M262.9,305.1C262.9,305.1 262.9,305.1 270.1,311.4C277.3,317.6 291.7,330.1 314.8,334.4C338,338.6 369.8,334.6 384,347.6C398.1,360.5 394.4,390.4 382.9,426C371.3,461.6 351.8,503 324.6,529.3C297.4,555.7 262.5,567 245.1,572.6C227.6,578.3 227.6,578.3 227.6,578.3"/><path d="M262.9,305.1C262.9,305.1 262.9,305.1 271.3,309.2C279.6,313.4 296.2,321.7 321.6,321.7C346.9,321.7 381,313.5 399.1,298.7C417.2,284 419.2,262.8 419,242.8C418.8,222.7 416.4,203.9 415.2,194.5C414,185.1 414,185.1 414,185.1"/><path d="M262.9,305.1C262.9,305.1 262.9,305.1 270.1,310.8C277.2,316.6 291.4,328 314.3,331.2C337.3,334.4 369,329.4 383,341.3C396.9,353.1 393.1,381.9 379.8,402C366.5,422.1 343.8,433.4 314,443.8C284.3,454.2 247.6,463.7 229.3,468.4C211,473.1 211,473.1 211,473.1"/><path d="M268,297.7C268,297.7 268,297.7 274.6,303.8C281.2,309.8 294.4,321.8 293.5,323.1C292.7,324.3 277.8,314.7 270.4,309.9C262.9,305.1 262.9,305.1 262.9,305.1"/><path class="h" d="M273.2,290.5C273.2,290.5 273.2,290.5 283.5,294.1C293.8,297.7 314.4,304.8 340.3,308.2C366.3,311.5 397.6,310.9 413.6,324.1C429.5,337.2 430.2,364.1 447.5,395.5C464.8,427 498.7,463.1 527.2,457.3C555.7,451.5 578.8,403.8 614,363.4C649.2,323 696.5,289.9 720.2,273.4C743.8,256.9 743.8,256.9 743.8,256.9" stroke="url(#ga)"/><path d="M273.2,290.5C273.2,290.5 273.2,290.5 282.1,296.3C291.1,302 308.9,313.4 332.1,321C355.3,328.6 383.9,332.3 397.1,349.7C410.3,367.2 408.2,398.3 422.7,434C437.3,469.8 468.5,510.2 480.2,540.6C491.9,571.1 484.1,591.6 469.8,628.2C455.5,664.8 434.8,717.4 424.4,743.7C414,770.1 414,770.1 414,770.1"/><path d="M273.2,290.5C273.2,290.5 273.2,290.5 281.6,294.2C290,297.8 306.8,305.1 307.7,303.9C308.6,302.7 293.6,293.1 286.2,288.3C278.7,283.5 278.7,283.5 278.7,283.5"/><path d="M273.2,290.5C273.2,290.5 273.2,290.5 281.6,295.6C289.9,300.7 306.6,310.9 328.7,317.2C350.8,323.5 378.2,325.9 390.3,342.1C402.4,358.2 399.1,388.1 412.5,422.6C425.9,457.1 456,496.2 458.9,521.1C461.8,546 437.6,556.8 416.6,566.9C395.6,576.9 377.9,586.4 355.5,603.7C333.1,621.1 305.9,646.4 292.3,659.1C278.7,671.7 278.7,671.7 278.7,671.7"/><path d="M273.2,290.5C273.2,290.5 273.2,290.5 281.6,295.6C290,300.7 306.7,311 328.8,317.3C350.9,323.7 378.4,326.2 390.5,342.4C402.6,358.6 399.4,388.5 412.9,423C426.3,457.6 456.5,496.7 459.4,521.7C462.4,546.7 438.1,557.5 417.2,567.6C396.3,577.7 378.6,587.2 357,605.6C335.4,624 309.9,651.3 297.1,665C284.3,678.6 284.3,678.6 284.3,678.6"/><path d="M273.2,290.5C273.2,290.5 273.2,290.5 281.2,295.2C289.3,299.8 305.3,309.1 326.7,314.5C348.1,319.9 374.9,321.4 386.3,336.7C397.7,352 393.8,380.9 380.4,401.1C367,421.4 344.2,432.8 314.3,443.4C284.5,453.9 247.7,463.5 229.4,468.3C211,473.1 211,473.1 211,473.1"/><path class="h" d="M278.7,283.5C278.7,283.5 278.7,283.5 288.2,288.1C297.7,292.7 316.7,301.9 341.8,306.3C366.9,310.6 398.2,310.1 414.1,323.4C430,336.6 430.6,363.5 447.9,395C465.1,426.6 499,462.7 527.5,457C556,451.2 579,403.5 614.1,363.2C649.2,322.9 696.5,289.9 720.2,273.4C743.8,256.9 743.8,256.9 743.8,256.9" stroke="url(#ga)"/><path class="h" d="M278.7,283.5C278.7,283.5 278.7,283.5 288.1,288.1C297.6,292.6 316.6,301.8 341.6,306.1C366.7,310.4 397.9,309.9 413.8,323C429.7,336.2 430.2,363.1 447.4,394.6C464.6,426 498.5,462.2 526.9,456.3C555.3,450.5 578.2,402.8 612.4,361.6C646.6,320.3 692,285.5 714.7,268.1C737.4,250.7 737.4,250.7 737.4,250.7" stroke="url(#ga)"/><path d="M278.7,283.5C278.7,283.5 278.7,283.5 285.9,289.1C293.1,294.6 307.6,305.8 328.2,312.1C348.7,318.4 375.5,319.8 386.8,335C398.2,350.2 394.3,379 380.8,399.1C367.4,419.2 344.5,430.6 314.7,438.5C284.9,446.4 248.3,450.9 230,453.1C211.7,455.3 211.7,455.3 211.7,455.3"/><path d="M278.7,283.5C278.7,283.5 278.7,283.5 287.9,287.2C297,291 315.4,298.5 340,301.2C364.5,303.9 395.1,301.7 418.5,278.9C441.9,256.1 458.1,212.7 466.2,191C474.3,169.3 474.3,169.3 474.3,169.3"/><path d="M278.7,283.5C278.7,283.5 278.7,283.5 285.9,288.7C293.2,294 307.8,304.6 328.5,310.2C349.2,315.9 376,316.8 387.5,331.3C399,345.9 395.1,374.1 381.8,393.6C368.5,413.1 345.6,423.8 317.5,422.4C289.3,421 255.9,407.5 239.1,400.7C222.4,393.9 222.4,393.9 222.4,393.9"/><path d="M278.7,283.5C278.7,283.5 278.7,283.5 286.2,289.6C293.8,295.7 308.9,307.9 330.2,315.3C351.4,322.6 378.8,325.1 390.9,341.3C402.9,357.5 399.6,387.4 413,422C426.4,456.5 456.4,495.7 459.3,520.6C462.1,545.6 437.9,556.4 416.8,566.6C395.8,576.7 378.1,586.2 355.6,603.6C333.1,621 305.9,646.4 292.3,659C278.7,671.7 278.7,671.7 278.7,671.7"/><path d="M278.7,283.5C278.7,283.5 278.7,283.5 286.6,290.1C294.5,296.8 310.4,310.1 332.3,318.5C354.3,327 382.4,330.6 395.2,347.9C408,365.2 405.4,396.2 419.5,431.8C433.6,467.4 464.4,507.7 468,533.7C471.6,559.8 448,571.7 426.4,604.9C404.9,638.1 385.3,692.7 375.5,719.9C365.7,747.2 365.7,747.2 365.7,747.2"/><path d="M278.7,283.5C278.7,283.5 278.7,283.5 286.2,289.7C293.7,296 308.7,308.5 329.8,316.1C350.9,323.7 378.1,326.5 390.1,343C402,359.5 398.6,389.7 411.8,424.5C425.1,459.3 455,498.8 457.7,524C460.4,549.3 436,560.4 399,579C362,597.7 312.5,623.9 287.7,637C262.9,650.1 262.9,650.1 262.9,650.1"/><path d="M278.7,283.5C278.7,283.5 278.7,283.5 285.9,289.1C293.1,294.8 307.6,306.1 328.1,312.6C348.7,319.1 375.4,320.7 386.8,336.1C398.2,351.4 394.2,380.4 380.8,400.7C367.3,421 344.4,432.5 314.5,443.2C284.6,453.8 247.8,463.5 229.4,468.3C211,473.1 211,473.1 211,473.1"/><path class="h" d="M284.3,276.6C284.3,276.6 284.3,276.6 293,282.2C301.7,287.8 319,299 343.3,304.4C367.6,309.8 398.8,309.4 414.7,322.7C430.6,335.9 431.1,362.9 448.3,394.5C465.5,426.1 499.4,462.3 527.8,456.6C556.2,450.9 579.1,403.3 614.2,363C649.3,322.8 696.6,289.8 720.2,273.3C743.8,256.9 743.8,256.9 743.8,256.9" stroke="url(#ga)"/><path class="h" d="M284.3,276.6C284.3,276.6 284.3,276.6 293,282.2C301.6,287.8 318.9,298.9 343.1,304.3C367.4,309.6 398.5,309.1 414.4,322.4C430.2,335.6 430.7,362.5 447.8,394C465,425.6 498.8,461.7 527.1,456C555.5,450.3 578.4,402.6 612.5,361.4C646.7,320.2 692.1,285.4 714.7,268C737.4,250.7 737.4,250.7 737.4,250.7" stroke="url(#ga)"/><path d="M284.3,276.6C284.3,276.6 284.3,276.6 290.7,283.2C297.1,289.8 309.9,303.1 329.6,310.6C349.3,318 376,319.6 387.3,334.9C398.6,350.2 394.6,379.2 381.1,399.5C367.6,419.8 344.6,431.3 314.7,440.6C284.8,450 248,457.1 229.6,460.7C211.2,464.2 211.2,464.2 211.2,464.2"/><path d="M284.3,276.6C284.3,276.6 284.3,276.6 290.7,283.3C297.1,289.9 309.9,303.3 329.6,310.8C349.3,318.3 376,320.1 387.3,335.4C398.6,350.8 394.6,379.9 381.1,400.3C367.6,420.7 344.6,432.3 314.7,443C284.7,453.6 247.9,463.4 229.4,468.3C211,473.1 211,473.1 211,473.1"/><path d="M284.3,276.6C284.3,276.6 284.3,276.6 291,282.4C297.7,288.1 311.1,299.7 310.1,300.9C309.2,302 293.9,292.7 286.3,288.1C278.7,283.5 278.7,283.5 278.7,283.5"/><path d="M284.3,276.6C284.3,276.6 284.3,276.6 291.4,284.2C298.5,291.9 312.7,307.2 333.9,316.7C355,326.2 383,329.8 395.8,347.2C408.5,364.5 405.9,395.6 420,431.3C434,467 464.7,507.3 468.3,533.4C471.8,559.5 448.2,571.5 426.6,604.7C405,638 385.4,692.6 375.5,719.9C365.7,747.2 365.7,747.2 365.7,747.2"/><path d="M284.3,276.6C284.3,276.6 284.3,276.6 292.6,281.4C301,286.2 317.7,295.8 341.3,299.6C364.9,303.3 395.5,301.3 418.8,278.6C442.1,255.9 458.2,212.6 466.2,190.9C474.3,169.3 474.3,169.3 474.3,169.3"/><path d="M290.1,269.8C290.1,269.8 290.1,269.8 296,277.9C301.9,286 313.7,302.2 333.3,311.6C352.8,321 380.1,323.6 392.1,339.9C404,356.2 400.7,386.2 414,420.8C427.3,455.4 457.2,494.7 460,519.8C462.8,544.9 438.4,555.8 417.3,566C396.2,576.2 378.4,585.8 355.9,603.3C333.3,620.8 306,646.3 292.3,659C278.7,671.7 278.7,671.7 278.7,671.7"/><path d="M290.1,269.8C290.1,269.8 290.1,269.8 296.6,278.6C303,287.3 316,304.8 336.6,315.5C357.3,326.1 385.7,330.1 398.8,347.7C411.8,365.3 409.6,396.6 424,432.5C438.4,468.4 469.5,509 481,539.6C492.6,570.2 484.6,590.9 470.2,627.7C455.8,664.4 434.9,717.2 424.5,743.7C414,770.1 414,770.1 414,770.1"/><path d="M290.1,269.8C290.1,269.8 290.1,269.8 296,277.9C301.9,286 313.7,302.1 333.2,311.4C352.7,320.8 379.9,323.3 391.8,339.6C403.8,355.8 400.4,385.8 413.6,420.3C426.9,454.9 456.8,494.1 459.5,519.2C462.3,544.2 437.9,555 416.7,565.2C395.6,575.4 377.8,584.9 354.4,601.4C331,617.8 302.1,641.2 287.7,653C273.2,664.7 273.2,664.7 273.2,664.7"/><path d="M290.1,269.8C290.1,269.8 290.1,269.8 295.9,276.7C301.7,283.5 313.3,297.1 311.4,299.4C309.5,301.7 294.1,292.6 286.4,288C278.7,283.5 278.7,283.5 278.7,283.5"/><path d="M290.1,269.8C290.1,269.8 290.1,269.8 295.7,277.5C301.2,285.2 312.3,300.5 331.1,309.1C350,317.6 376.6,319.4 387.8,334.8C399.1,350.3 395,379.5 381.4,399.9C367.9,420.3 344.8,432 314.8,442.8C284.9,453.5 247.9,463.3 229.5,468.2C211,473.1 211,473.1 211,473.1"/><path d="M296.2,263.3C296.2,263.3 296.2,263.3 301,271.1C305.9,278.9 315.6,294.6 312.7,298C309.8,301.3 294.2,292.4 286.4,287.9C278.7,283.5 278.7,283.5 278.7,283.5"/><path d="M296.2,263.3C296.2,263.3 296.2,263.3 301.7,273C307.3,282.7 318.5,302 338.2,313.7C358,325.4 386.3,329.3 399.4,347C412.4,364.7 410.1,396 424.5,432C438.8,468 469.8,508.6 481.3,539.3C492.8,569.9 484.8,590.7 470.4,627.5C455.9,664.3 434.9,717.2 424.5,743.6C414,770.1 414,770.1 414,770.1"/><path d="M296.2,263.3C296.2,263.3 296.2,263.3 301.2,272.3C306.2,281.3 316.3,299.4 334.9,309.8C353.6,320.2 380.8,322.8 392.7,339.2C404.7,355.5 401.2,385.6 414.5,420.2C427.7,454.9 457.7,494.2 460.4,519.3C463.1,544.5 438.7,555.4 417.6,565.7C396.5,576 378.6,585.6 356,603.1C333.4,620.7 306,646.2 292.3,659C278.7,671.7 278.7,671.7 278.7,671.7"/><path d="M296.2,263.3C296.2,263.3 296.2,263.3 301.1,272.3C306.1,281.2 316.1,299.2 334.7,309.5C353.2,319.8 380.4,322.3 392.3,338.6C404.1,354.8 400.6,384.7 413.8,419.3C427,453.9 456.8,493.1 459.5,518.1C462.2,543.1 437.7,554 416.4,564.2C395.2,574.3 377.3,583.8 353.1,599.3C328.9,614.7 298.4,636.1 283.2,646.8C268,657.5 268,657.5 268,657.5"/><path d="M296.2,263.3C296.2,263.3 296.2,263.3 300.8,271.9C305.5,280.5 314.8,297.8 332.7,307.3C350.6,316.9 377.2,318.7 388.4,334.3C399.6,349.8 395.4,379 381.8,399.5C368.2,420 345.1,431.7 315,442.6C285,453.4 248,463.3 229.5,468.2C211,473.1 211,473.1 211,473.1"/><path class="h" d="M302.4,256.9C302.4,256.9 302.4,256.9 311.2,262.4C320,268 337.6,279.1 359.2,287.4C380.8,295.8 406.3,301.4 419.3,317.8C432.2,334.1 432.6,361.3 449.7,393C466.7,424.8 500.4,461.2 528.7,455.6C556.9,450.1 579.7,402.7 614.7,362.5C649.6,322.4 696.7,289.7 720.3,273.3C743.8,256.9 743.8,256.9 743.8,256.9" stroke="url(#ga)"/><path class="h" d="M302.4,256.9C302.4,256.9 302.4,256.9 311.2,262.4C320,267.9 337.5,279 359.1,287.3C380.6,295.6 406,301.1 418.9,317.5C431.8,333.8 432.2,360.8 449.2,392.6C466.2,424.3 499.8,460.6 528,455C556.2,449.4 579,401.9 613,360.9C647,319.8 692.2,285.3 714.8,268C737.4,250.7 737.4,250.7 737.4,250.7" stroke="url(#ga)"/><path d="M302.4,256.9C302.4,256.9 302.4,256.9 308.9,263.3C315.4,269.8 328.5,282.7 345.5,292.9C362.5,303 383.5,310.4 391.9,328.6C400.2,346.8 396.1,375.7 382.4,395.9C368.8,416.1 345.6,427.6 315.9,433.1C286.2,438.6 249.8,438.1 231.7,437.8C213.5,437.6 213.5,437.6 213.5,437.6"/><path d="M302.4,256.9C302.4,256.9 302.4,256.9 308.9,263.4C315.4,270 328.5,283 345.5,293.4C362.5,303.7 383.4,311.3 391.7,329.7C400.1,348 395.9,377.1 382.3,397.5C368.6,417.9 345.4,429.5 315.4,437.7C285.4,445.9 248.6,450.6 230.2,453C211.7,455.3 211.7,455.3 211.7,455.3"/><path d="M302.4,256.9C302.4,256.9 302.4,256.9 308.9,263.4C315.4,269.9 328.5,282.9 345.5,293.1C362.5,303.4 383.4,310.9 391.8,329.1C400.2,347.4 396,376.4 382.3,396.7C368.7,417 345.5,428.5 315.6,435.4C285.7,442.2 249.1,444.3 230.8,445.4C212.5,446.4 212.5,446.4 212.5,446.4"/><path d="M302.4,256.9C302.4,256.9 302.4,256.9 309,263.1C315.6,269.3 328.7,281.6 345.9,291.3C363,300.9 384,307.8 392.5,325.5C401,343.1 397,371.5 383.4,391.2C369.9,410.9 346.9,421.8 318.9,419.4C290.8,417 257.9,401.2 241.4,393.3C224.9,385.4 224.9,385.4 224.9,385.4"/><path d="M302.4,256.9C302.4,256.9 302.4,256.9 310.8,261.7C319.2,266.5 336,276.2 356.8,283.1C377.5,289.9 402.2,294.1 422.5,274.7C442.7,255.3 458.5,212.3 466.4,190.8C474.3,169.3 474.3,169.3 474.3,169.3"/><path d="M302.4,256.9C302.4,256.9 302.4,256.9 308.9,263.5C315.4,270.1 328.5,283.4 345.4,293.9C362.4,304.4 383.3,312.2 391.7,330.7C400.1,349.3 395.9,378.6 382.2,399.1C368.5,419.7 345.3,431.5 315.2,442.4C285.1,453.2 248,463.2 229.5,468.2C211,473.1 211,473.1 211,473.1"/><path class="h" d="M308.8,250.7C308.8,250.7 308.8,250.7 316.7,257.1C324.5,263.6 340.3,276.5 360.9,285.8C381.5,295.1 407,300.7 419.9,317.1C432.8,333.6 433.1,360.7 450.1,392.6C467.1,424.4 500.8,460.8 529,455.3C557.2,449.8 580,402.5 614.9,362.4C649.7,322.3 696.8,289.6 720.3,273.2C743.8,256.9 743.8,256.9 743.8,256.9" stroke="url(#ga)"/><path d="M308.8,250.7C308.8,250.7 308.8,250.7 314.4,258C320,265.4 331.2,280.1 347.2,291.2C363.2,302.3 384.1,309.8 392.4,328C400.7,346.3 396.5,375.3 382.8,395.5C369.1,415.8 345.9,427.3 316.1,432.9C286.3,438.4 249.9,438 231.7,437.8C213.5,437.6 213.5,437.6 213.5,437.6"/><path d="M308.8,250.7C308.8,250.7 308.8,250.7 316.2,256.4C323.7,262.2 338.6,273.7 358.3,281.5C378.1,289.4 402.7,293.7 422.8,274.4C442.9,255.1 458.6,212.2 466.4,190.7C474.3,169.3 474.3,169.3 474.3,169.3"/><path d="M308.8,250.7C308.8,250.7 308.8,250.7 314.4,258.1C319.9,265.6 331.1,280.5 347.1,291.8C363.2,303 384,310.7 392.3,329.1C400.6,347.5 396.4,376.7 382.6,397.1C368.9,417.6 345.7,429.3 315.6,437.5C285.5,445.8 248.6,450.5 230.2,452.9C211.7,455.3 211.7,455.3 211.7,455.3"/><path d="M308.8,250.7C308.8,250.7 308.8,250.7 314.4,258.1C320,265.5 331.1,280.3 347.2,291.5C363.2,302.7 384.1,310.3 392.4,328.6C400.7,346.9 396.4,376 382.7,396.3C369,416.7 345.8,428.3 315.8,435.2C285.9,442.1 249.2,444.3 230.8,445.4C212.5,446.4 212.5,446.4 212.5,446.4"/><path d="M315.3,244.6C315.3,244.6 315.3,244.6 321.8,251.3C328.3,257.9 341.2,271.3 359.9,280.1C378.6,288.9 403.1,293.3 423.1,274.1C443.1,254.9 458.7,212.1 466.5,190.7C474.3,169.3 474.3,169.3 474.3,169.3"/><path class="h" d="M315.3,244.6C315.3,244.6 315.3,244.6 322.3,252C329.2,259.3 343,274 362.7,284.2C382.3,294.4 407.7,300.1 420.6,316.5C433.4,333 433.7,360.2 450.6,392.1C467.6,424 501.2,460.5 529.3,455C557.5,449.6 580.2,402.2 615,362.2C649.9,322.2 696.8,289.6 720.3,273.2C743.8,256.9 743.8,256.9 743.8,256.9" stroke="url(#ga)"/><path d="M315.3,244.6C315.3,244.6 315.3,244.6 320.7,254C326,263.4 336.7,282.1 353.2,296.4C369.7,310.7 392,320.5 401.6,341.1C411.3,361.6 408.5,392.9 422.3,428.9C436.1,464.8 466.5,505.4 469.8,531.8C473.1,558.2 449.2,570.4 427.4,603.9C405.5,637.5 385.6,692.3 375.7,719.8C365.7,747.2 365.7,747.2 365.7,747.2"/><path d="M315.3,244.6C315.3,244.6 315.3,244.6 320,253C324.6,261.3 333.8,278 348.9,290.2C363.9,302.4 384.7,310.1 392.9,328.6C401.2,347 396.8,376.3 383,396.8C369.2,417.3 345.9,429 315.8,437.3C285.7,445.6 248.7,450.5 230.2,452.9C211.7,455.3 211.7,455.3 211.7,455.3"/><path d="M315.3,244.6C315.3,244.6 315.3,244.6 320,253.1C324.6,261.5 333.8,278.3 348.8,290.7C363.8,303.1 384.6,311 392.9,329.6C401.1,348.3 396.8,377.7 383,398.4C369.1,419.1 345.8,431 315.6,442C285.4,453 248.2,463.1 229.6,468.1C211,473.1 211,473.1 211,473.1"/><path class="h" d="M322.1,238.8C322.1,238.8 322.1,238.8 339.3,249.8C356.5,260.8 390.9,282.8 408.6,307.5C426.3,332.1 427.2,359.5 444.8,391.4C462.4,423.3 496.7,459.9 525.5,454.6C554.2,449.2 577.6,401.9 613.1,362C648.6,322.1 696.2,289.5 720,273.2C743.8,256.9 743.8,256.9 743.8,256.9" stroke="url(#ga)"/><path d="M322.1,238.8C322.1,238.8 322.1,238.8 338.8,249.1C355.6,259.4 389,280 405.8,303.3C422.5,326.5 422.5,352.4 438.5,329.9C454.6,307.4 486.6,236.4 502.6,201C518.6,165.5 518.6,165.5 518.6,165.5"/><path class="h" d="M329,233.2C329,233.2 329,233.2 337,239.6C345,246 361.1,258.8 378.7,270.7C396.3,282.6 415.4,293.6 425,312.8C434.6,332 434.8,359.3 451.7,391.2C468.5,423.2 502,459.8 530,454.5C558,449.1 580.6,401.9 615.4,362C650.1,322 697,289.5 720.4,273.2C743.8,256.9 743.8,256.9 743.8,256.9" stroke="url(#ga)"/><path class="h" d="M329,233.2C329,233.2 329,233.2 337,239.5C345,245.9 361,258.7 378.5,270.5C396,282.4 415.1,293.4 424.7,312.5C434.3,331.6 434.4,358.9 451.2,390.8C468,422.7 501.4,459.2 529.4,453.8C557.4,448.4 579.9,401.1 613.7,360.3C647.4,319.4 692.4,285.1 714.9,267.9C737.4,250.7 737.4,250.7 737.4,250.7" stroke="url(#ga)"/><path d="M329,233.2C329,233.2 329,233.2 334.7,240.6C340.4,248 351.8,262.8 364.8,276.8C377.7,290.7 392.2,303.7 397.2,324.9C402.2,346.1 397.8,375.5 383.8,396.1C369.9,416.7 346.5,428.6 316.2,437C285.9,445.4 248.8,450.4 230.3,452.9C211.7,455.3 211.7,455.3 211.7,455.3"/><path d="M329,233.2C329,233.2 329,233.2 337.3,240.1C345.7,247 362.4,260.9 380.6,273.9C398.8,286.9 418.6,299 428.9,319.2C439.2,339.5 440,367.9 457.5,400.9C474.9,433.9 509.1,471.6 544.9,476.2C580.6,480.9 618.1,452.6 664.4,432C710.8,411.3 766,398.4 793.7,391.9C821.3,385.4 821.3,385.4 821.3,385.4"/><path d="M329,233.2C329,233.2 329,233.2 335,241.2C341,249.2 353,265.2 366.5,280.3C380.1,295.5 395.1,309.7 400.7,332.1C406.3,354.5 402.4,385 415.2,420.2C428,455.3 457.5,495.1 459.7,520.8C462,546.4 437.1,557.8 399,575.8C360.9,593.7 309.5,618.2 283.8,630.4C258.1,642.6 258.1,642.6 258.1,642.6"/><path d="M329,233.2C329,233.2 329,233.2 335.4,241.6C341.9,250.1 354.8,267 369.2,283C383.7,299 399.6,314.1 406.1,337.3C412.6,360.6 409.6,392 423.3,428C437,464.1 467.3,504.7 470.5,531.2C473.7,557.7 449.7,570 427.7,603.7C405.7,637.3 385.7,692.2 375.7,719.7C365.7,747.2 365.7,747.2 365.7,747.2"/><path d="M329,233.2C329,233.2 329,233.2 335,241.2C341,249.2 353.1,265.3 366.7,280.5C380.2,295.7 395.3,310 401,332.5C406.6,354.9 402.8,385.5 415.6,420.7C428.4,456 457.9,495.8 460.2,521.5C462.5,547.2 437.7,558.7 400.3,577.8C362.9,596.8 312.9,623.5 287.9,636.8C262.9,650.1 262.9,650.1 262.9,650.1"/><path d="M329,233.2C329,233.2 329,233.2 336.5,238.9C344,244.7 359,256.3 375.6,266.9C392.1,277.6 410.2,287.3 426.9,270.9C443.6,254.5 458.9,211.9 466.6,190.6C474.3,169.3 474.3,169.3 474.3,169.3"/><path d="M329,233.2C329,233.2 329,233.2 334.7,240.7C340.4,248.2 351.8,263.2 364.8,277.3C377.7,291.4 392.2,304.6 397.2,326C402.2,347.4 397.7,376.9 383.8,397.7C369.8,418.5 346.4,430.5 316,441.7C285.6,452.8 248.3,463 229.6,468C211,473.1 211,473.1 211,473.1"/><path d="M336,227.7C336,227.7 336,227.7 341.2,234.9C346.5,242 356.9,256.3 355.7,257.2C354.5,258.1 341.8,245.6 335.4,239.4C329,233.2 329,233.2 329,233.2"/><path d="M336,227.7C336,227.7 336,227.7 341,236.5C346,245.3 355.9,262.9 368.4,278.9C380.9,294.8 395.9,309.1 401.4,331.5C407,354 403,384.5 415.8,419.8C428.5,455 457.9,494.8 460.1,520.5C462.3,546.2 437.4,557.6 399.2,575.6C361,593.6 309.6,618.1 283.8,630.4C258.1,642.6 258.1,642.6 258.1,642.6"/><path d="M336,227.7C336,227.7 336,227.7 343.4,235.4C350.7,243.2 365.3,258.7 382.5,272.5C399.7,286.3 419.4,298.4 429.6,318.7C439.8,339 440.6,367.4 458,400.5C475.4,433.5 509.5,471.2 545.2,476C580.9,480.7 618.3,452.4 664.6,431.8C710.9,411.2 766.1,398.3 793.7,391.9C821.3,385.4 821.3,385.4 821.3,385.4"/><path d="M336,227.7C336,227.7 336,227.7 340.7,235.9C345.4,244.1 354.8,260.6 366.6,275.3C378.5,290.1 392.9,303.2 397.9,324.4C402.8,345.7 398.3,375.1 384.3,395.8C370.3,416.4 346.8,428.4 316.4,436.8C286.1,445.3 248.9,450.3 230.3,452.8C211.7,455.3 211.7,455.3 211.7,455.3"/><path d="M336,227.7C336,227.7 336,227.7 340.7,236C345.4,244.3 354.7,260.9 366.6,275.9C378.5,290.8 392.9,304.1 397.8,325.5C402.8,346.9 398.2,376.5 384.2,397.4C370.2,418.2 346.7,430.3 316.2,441.5C285.8,452.7 248.4,462.9 229.7,468C211,473.1 211,473.1 211,473.1"/><path d="M343.2,222.5C343.2,222.5 343.2,222.5 347.3,230.4C351.4,238.4 359.6,254.3 357.3,256.1C354.9,257.9 341.9,245.5 335.5,239.3C329,233.2 329,233.2 329,233.2"/><path d="M343.2,222.5C343.2,222.5 343.2,222.5 349.5,231C355.8,239.5 368.3,256.5 384.4,271.1C400.5,285.6 420.1,297.8 430.3,318.1C440.5,338.5 441.2,367 458.5,400.1C475.9,433.2 509.9,470.9 545.6,475.7C581.2,480.5 618.5,452.2 664.8,431.7C711,411.1 766.2,398.3 793.7,391.8C821.3,385.4 821.3,385.4 821.3,385.4"/><path d="M343.2,222.5C343.2,222.5 343.2,222.5 346.9,231.5C350.5,240.4 357.7,258.4 368.5,274C379.3,289.5 393.6,302.7 398.5,324C403.4,345.3 398.8,374.7 384.7,395.5C370.6,416.2 347,428.1 316.6,436.7C286.2,445.2 249,450.3 230.4,452.8C211.7,455.3 211.7,455.3 211.7,455.3"/><path d="M343.2,222.5C343.2,222.5 343.2,222.5 346.9,231.5C350.5,240.6 357.7,258.8 368.5,274.5C379.3,290.2 393.6,303.6 398.5,325C403.3,346.5 398.7,376.2 384.6,397.1C370.5,418 347,430.1 316.4,441.3C285.9,452.6 248.4,462.9 229.7,468C211,473.1 211,473.1 211,473.1"/><path d="M350.6,217.4C350.6,217.4 350.6,217.4 362.3,223.9C374,230.3 397.3,243.2 409.5,261.9C421.7,280.6 422.6,305.1 422,333.3C421.4,361.5 419.2,393.3 433.7,429.8C448.2,466.3 479.3,507.5 491,538.7C502.6,569.9 494.7,591.2 490.1,630.9C485.6,670.7 484.3,728.9 483.7,758.1C483.1,787.2 483.1,787.2 483.1,787.2"/><path d="M350.6,217.4C350.6,217.4 350.6,217.4 362.3,223.9C373.9,230.3 397.2,243.2 409.3,261.9C421.4,280.6 422.3,305 421.6,333.2C420.9,361.4 418.7,393.2 433.1,429.7C447.5,466.2 478.5,507.4 490.1,538.6C501.6,569.8 493.7,591 487.8,630.6C481.9,670.2 478.1,728 476.2,757C474.3,785.9 474.3,785.9 474.3,785.9"/><path d="M350.6,217.4C350.6,217.4 350.6,217.4 361.9,223.8C373.3,230.1 395.9,242.8 407.4,261.3C418.8,279.8 419.1,304.1 417.7,332.1C416.4,360.1 413.5,391.7 427.3,428.1C441.1,464.4 471.5,505.3 474.8,532.1C478,558.8 454.1,571.4 436.7,607.6C419.3,643.8 408.4,703.6 402.9,733.5C397.5,763.4 397.5,763.4 397.5,763.4"/><path d="M350.6,217.4C350.6,217.4 350.6,217.4 361.1,222.4C371.6,227.4 392.6,237.3 402.3,253C412.1,268.7 410.7,290.2 407.7,315.4C404.7,340.6 400.2,369.5 386.1,389.6C372.1,409.8 348.5,421.2 319.6,420.5C290.8,419.7 256.6,406.8 239.5,400.4C222.4,393.9 222.4,393.9 222.4,393.9"/><path d="M350.6,217.4C350.6,217.4 350.6,217.4 361.2,223.4C371.7,229.4 392.9,241.5 402.8,259.3C412.7,277.1 411.5,300.6 408.6,327.9C405.8,355.2 401.4,386.2 389,423C376.7,459.7 356.4,502.2 329.8,533.2C303.2,564.2 270.3,583.7 253.8,593.5C237.3,603.2 237.3,603.2 237.3,603.2"/><path d="M350.6,217.4C350.6,217.4 350.6,217.4 361,222.7C371.5,228 392.4,238.5 402,254.8C411.7,271.1 410.2,293.3 407.1,319.1C404,344.9 399.3,374.4 385.1,395.1C371,415.9 347.3,427.9 316.9,436.5C286.4,445.1 249.1,450.2 230.4,452.8C211.7,455.3 211.7,455.3 211.7,455.3"/><path d="M350.6,217.4C350.6,217.4 350.6,217.4 361.1,223.3C371.6,229.2 392.7,241 402.5,258.5C412.3,276.1 411,299.4 408,326.4C405.1,353.5 400.6,384.2 388.1,420.7C375.7,457.2 355.3,499.5 327.3,526.7C299.2,553.9 263.4,566.1 245.5,572.2C227.6,578.3 227.6,578.3 227.6,578.3"/><path d="M350.6,217.4C350.6,217.4 350.6,217.4 362.5,221.1C374.5,224.8 398.3,232.1 408.9,226.7C419.4,221.4 416.7,203.2 415.4,194.2C414,185.1 414,185.1 414,185.1"/><path d="M350.6,217.4C350.6,217.4 350.6,217.4 361,222.8C371.5,228.1 392.3,238.9 402,255.4C411.7,271.9 410.1,294.1 407,320.1C403.9,346.1 399.2,375.8 385.1,396.8C370.9,417.7 347.3,429.9 316.7,441.2C286.1,452.5 248.5,462.8 229.8,468C211,473.1 211,473.1 211,473.1"/><path class="h" d="M358.1,212.6C358.1,212.6 358.1,212.6 369.8,217.6C381.5,222.5 404.8,232.4 418,247.4C431.2,262.4 434.3,282.5 435.8,306.3C437.3,330.1 437.3,357.6 453.8,389.7C470.4,421.8 503.7,458.6 531.5,453.4C559.3,448.3 581.6,401.2 616.1,361.4C650.6,321.7 697.2,289.3 720.5,273.1C743.8,256.9 743.8,256.9 743.8,256.9" stroke="url(#ga)"/><path d="M358.1,212.6C358.1,212.6 358.1,212.6 367.5,218.5C376.8,224.4 395.5,236.2 404,253C412.6,269.9 411,291.9 407.9,317.6C404.7,343.2 400,372.6 385.8,393.3C371.5,413.9 347.8,425.8 317.6,431.7C287.3,437.7 250.4,437.6 232,437.6C213.5,437.6 213.5,437.6 213.5,437.6"/><path d="M358.1,212.6C358.1,212.6 358.1,212.6 368.3,219.7C378.6,226.7 399,240.8 409.4,260C419.7,279.3 419.9,303.6 418.5,331.6C417.1,359.6 414.2,391.3 427.9,427.7C441.6,464 471.9,505 475.1,531.8C478.3,558.6 454.4,571.2 436.9,607.5C419.4,643.7 408.5,703.5 403,733.4C397.5,763.4 397.5,763.4 397.5,763.4"/><path d="M358.1,212.6C358.1,212.6 358.1,212.6 367.4,218.6C376.8,224.6 395.5,236.5 404,253.6C412.5,270.6 410.9,292.8 407.7,318.6C404.6,344.5 399.8,374 385.6,394.9C371.4,415.7 347.6,427.8 317.1,436.4C286.5,445 249.1,450.2 230.4,452.7C211.7,455.3 211.7,455.3 211.7,455.3"/><path d="M358.1,212.6C358.1,212.6 358.1,212.6 367.4,218.5C376.8,224.5 395.5,236.3 404,253.3C412.6,270.3 411,292.3 407.8,318.1C404.6,343.9 399.9,373.3 385.7,394.1C371.4,414.8 347.7,426.8 317.3,434.1C286.8,441.3 249.7,443.9 231.1,445.2C212.5,446.4 212.5,446.4 212.5,446.4"/><path d="M358.1,212.6C358.1,212.6 358.1,212.6 367.8,219.2C377.4,225.7 396.7,238.8 405.9,257C415,275.2 414.1,298.6 411.5,325.6C409,352.6 404.9,383.3 417.4,418.6C430,454 459.2,493.9 461.2,519.7C463.2,545.5 438.1,557.1 399.7,575.3C361.4,593.4 309.7,618 283.9,630.3C258.1,642.6 258.1,642.6 258.1,642.6"/><path d="M358.1,212.6C358.1,212.6 358.1,212.6 368.9,217C379.6,221.5 401.2,230.3 410.5,225.7C419.8,221.1 416.9,203.1 415.5,194.1C414,185.1 414,185.1 414,185.1"/><path d="M358.1,212.6C358.1,212.6 358.1,212.6 369.1,217C380.2,221.4 402.3,230.2 414.2,244.1C426.1,258 427.9,277 436.2,265.4C444.6,253.8 459.4,211.5 466.8,190.4C474.3,169.3 474.3,169.3 474.3,169.3"/><path d="M365.7,208C365.7,208 365.7,208 374,214.6C382.2,221.1 398.6,234.3 406,251.8C413.4,269.4 411.8,291.4 408.5,317.1C405.3,342.9 400.5,372.3 386.2,393C371.9,413.7 348.1,425.6 317.8,431.6C287.4,437.6 250.5,437.6 232,437.6C213.5,437.6 213.5,437.6 213.5,437.6"/><path d="M365.7,208C365.7,208 365.7,208 374,214.7C382.2,221.4 398.6,234.8 406,252.6C413.3,270.5 411.7,292.8 408.4,318.7C405.1,344.7 400.3,374.4 386,395.4C371.7,416.3 347.9,428.5 317.2,438.6C286.5,448.6 248.9,456.4 230,460.3C211.2,464.2 211.2,464.2 211.2,464.2"/><path d="M365.7,208C365.7,208 365.7,208 374,214.4C382.3,220.7 398.8,233.4 406.3,250.5C413.8,267.7 412.2,289.2 409.1,314.5C405.9,339.8 401.2,368.8 387,389.1C372.8,409.3 349.1,420.8 320.1,420.2C291.1,419.5 256.7,406.7 239.5,400.3C222.4,393.9 222.4,393.9 222.4,393.9"/><path d="M365.7,208C365.7,208 365.7,208 374.3,215.3C382.9,222.5 400,237 408,256C416.1,274.9 415.1,298.4 412.5,325.5C410,352.6 405.8,383.4 418.3,418.8C430.9,454.3 460,494.4 462.1,520.3C464.1,546.2 438.9,557.9 401.2,577.1C363.5,596.4 313.2,623.3 288.1,636.7C262.9,650.1 262.9,650.1 262.9,650.1"/><path d="M365.7,208C365.7,208 365.7,208 375.3,213.1C384.9,218.3 404.1,228.5 412.2,224.7C420.2,220.9 417.1,203 415.6,194.1C414,185.1 414,185.1 414,185.1"/><path d="M365.7,208C365.7,208 365.7,208 374,214.8C382.2,221.5 398.6,235 406,252.9C413.3,270.8 411.6,293.2 408.4,319.3C405.1,345.4 400.3,375.1 386,396.2C371.7,417.2 347.9,429.5 317.1,440.9C286.4,452.3 248.7,462.7 229.8,467.9C211,473.1 211,473.1 211,473.1"/><path d="M373.5,203.6C373.5,203.6 373.5,203.6 380.6,210.8C387.7,218 401.9,232.4 408.1,250.7C414.3,268.9 412.6,291 409.2,316.8C405.9,342.5 401,372 386.7,392.7C372.3,413.5 348.5,425.4 318,431.5C287.6,437.5 250.5,437.5 232,437.6C213.5,437.6 213.5,437.6 213.5,437.6"/><path d="M373.5,203.6C373.5,203.6 373.5,203.6 380.8,210.5C388,217.4 402.5,231.1 409,248.6C415.6,266.2 414.2,287.6 411.2,312.7C408.2,337.8 403.6,366.5 389.6,386.6C375.5,406.6 352,417.9 331.1,421.9C310.1,425.9 291.8,422.6 273.7,418.1C255.7,413.7 237.9,408.1 229,405.3C220.1,402.6 220.1,402.6 220.1,402.6"/><path d="M373.5,203.6C373.5,203.6 373.5,203.6 380.9,211.5C388.3,219.4 403.1,235.1 410,254.6C416.8,274.2 415.7,297.6 413.1,324.7C410.4,351.8 406.2,382.5 418.6,418C431,453.4 460.1,493.4 462,519.3C463.9,545.2 438.6,556.8 400.1,575C361.6,593.2 309.9,617.9 284,630.3C258.1,642.6 258.1,642.6 258.1,642.6"/><path d="M373.5,203.6C373.5,203.6 373.5,203.6 380.9,211.5C388.3,219.3 403.1,234.9 409.9,254.4C416.7,273.9 415.5,297.3 412.8,324.3C410.1,351.3 405.8,382 418.2,417.4C430.6,452.7 459.6,492.7 461.5,518.5C463.4,544.3 438.1,556 398.9,573C359.7,590 306.6,612.5 280.1,623.7C253.5,635 253.5,635 253.5,635"/><path d="M373.5,203.6C373.5,203.6 373.5,203.6 381.9,209.4C390.3,215.2 407.1,226.8 413.8,223.8C420.6,220.7 417.3,202.9 415.7,194C414,185.1 414,185.1 414,185.1"/><path d="M373.5,203.6C373.5,203.6 373.5,203.6 380.6,210.6C387.8,217.5 402.1,231.4 408.4,249.1C414.7,266.8 413.1,288.4 409.9,313.6C406.7,338.9 402,367.8 387.7,388C373.4,408.2 349.7,419.7 321,417.8C292.3,415.9 258.6,400.6 241.7,393C224.9,385.4 224.9,385.4 224.9,385.4"/><path d="M373.5,203.6C373.5,203.6 373.5,203.6 380.6,211C387.7,218.4 401.8,233.2 408,251.7C414.2,270.3 412.4,292.8 409.1,318.9C405.8,345 400.8,374.8 386.5,395.9C372.1,417 348.2,429.4 317.3,440.8C286.5,452.2 248.8,462.7 229.9,467.9C211,473.1 211,473.1 211,473.1"/><path d="M373.5,203.6C373.5,203.6 373.5,203.6 380.9,211.5C388.4,219.4 403.2,235.2 410.1,254.8C417,274.4 415.9,297.9 413.3,325C410.7,352.2 406.5,383 418.9,418.5C431.4,454 460.5,494.1 462.4,520C464.4,546 439.2,557.7 401.4,577C363.6,596.3 313.3,623.2 288.1,636.7C262.9,650.1 262.9,650.1 262.9,650.1"/><path d="M381.4,199.5C381.4,199.5 381.4,199.5 387.7,208C393.9,216.5 406.5,233.5 412.2,253.7C417.9,274 416.8,297.4 414.1,324.6C411.4,351.8 407.1,382.7 419.5,418.2C431.9,453.7 461,493.9 462.8,519.8C464.7,545.8 439.4,557.6 401.6,576.9C363.8,596.3 313.3,623.2 288.1,636.6C262.9,650.1 262.9,650.1 262.9,650.1"/><path d="M381.4,199.5C381.4,199.5 381.4,199.5 387.3,207.3C393.3,215.1 405.1,230.7 410.1,249.6C415.2,268.5 413.3,290.6 409.9,316.4C406.6,342.2 401.6,371.7 387.2,392.5C372.7,413.2 348.8,425.3 318.3,431.3C287.7,437.4 250.6,437.5 232.1,437.5C213.5,437.6 213.5,437.6 213.5,437.6"/><path d="M381.4,199.5C381.4,199.5 381.4,199.5 387.8,208.1C394.2,216.8 407,234.1 412.9,254.6C418.8,275.1 417.9,298.9 415.5,326.4C413,353.9 408.9,385 421.6,420.9C434.2,456.7 463.4,497.1 465.6,523.4C467.7,549.6 442.6,561.7 408.9,586.3C375.1,611 332.6,648.2 311.4,666.8C290.1,685.4 290.1,685.4 290.1,685.4"/><path d="M381.4,199.5C381.4,199.5 381.4,199.5 388.6,205.9C395.7,212.4 410.1,225.2 415.5,222.9C421,220.5 417.5,202.8 415.8,194C414,185.1 414,185.1 414,185.1"/><path d="M381.4,199.5C381.4,199.5 381.4,199.5 387.3,207.3C393.2,215.2 405.1,230.9 410.1,249.9C415.1,268.8 413.3,291 409.9,316.9C406.5,342.8 401.5,372.4 387.1,393.3C372.6,414.1 348.7,426.3 318,433.7C287.3,441.1 249.9,443.8 231.2,445.1C212.5,446.4 212.5,446.4 212.5,446.4"/><path d="M389.4,195.5C389.4,195.5 389.4,195.5 396.9,203.8C404.4,212 419.3,228.4 428.6,247.6C437.9,266.7 441.4,288.5 443.4,314C445.4,339.6 445.8,368.8 462.9,402.6C480,436.5 513.7,475 550,483.9C586.2,492.8 624.9,472.2 672.6,461C720.3,449.9 777,448.1 805.3,447.3C833.7,446.4 833.7,446.4 833.7,446.4"/><path class="h" d="M389.4,195.5C389.4,195.5 389.4,195.5 396.5,202.9C403.6,210.4 417.7,225.2 426.2,242.7C434.7,260.2 437.4,280.4 438.6,304.3C439.8,328.1 439.4,355.7 455.7,388C472,420.2 504.9,457 532.4,452C559.9,446.9 581.9,399.9 615.2,359.4C648.4,318.8 692.9,284.7 715.2,267.7C737.4,250.7 737.4,250.7 737.4,250.7" stroke="url(#ga)"/><path class="h" d="M389.4,195.5C389.4,195.5 389.4,195.5 396.5,203C403.6,210.4 417.8,225.3 426.4,242.8C434.9,260.4 437.7,280.6 438.9,304.6C440.2,328.5 439.9,356.2 456.2,388.4C472.5,420.7 505.5,457.6 533,452.6C560.6,447.6 582.6,400.6 616.9,361C651.1,321.4 697.5,289.1 720.6,273C743.8,256.9 743.8,256.9 743.8,256.9" stroke="url(#ga)"/><path d="M389.4,195.5C389.4,195.5 389.4,195.5 394.1,203.9C398.9,212.3 408.4,229.1 412.2,248.6C416,268 414.1,290.2 410.7,316C407.2,341.9 402.2,371.4 387.6,392.2C373.1,413 349.1,425.1 318.5,431.2C287.9,437.3 250.7,437.5 232.1,437.5C213.5,437.6 213.5,437.6 213.5,437.6"/><path d="M389.4,195.5C389.4,195.5 389.4,195.5 394.1,204C398.9,212.5 408.4,229.4 412.2,249.1C416,268.7 414,291.1 410.6,317.1C407.1,343.1 402,372.8 387.5,393.8C372.9,414.8 348.9,427.1 318,435.9C287.2,444.7 249.5,450 230.6,452.7C211.7,455.3 211.7,455.3 211.7,455.3"/><path d="M389.4,195.5C389.4,195.5 389.4,195.5 396.9,203.7C404.4,211.9 419.3,228.3 428.6,247.3C437.9,266.4 441.4,288.2 443.4,313.6C445.4,339.1 445.8,368.2 462.9,402C479.9,435.8 513.6,474.2 549.9,483C586.1,491.9 624.8,471.1 672.3,458.7C719.9,446.2 776.3,441.9 804.5,439.7C832.7,437.6 832.7,437.6 832.7,437.6"/><path d="M389.4,195.5C389.4,195.5 389.4,195.5 396.9,203.8C404.4,212.1 419.4,228.6 428.6,247.8C437.9,267 441.5,288.9 443.5,314.5C445.5,340.1 445.9,369.4 463,403.3C480.1,437.2 513.8,475.8 550,484.8C586.3,493.8 625,473.2 672.8,463.4C720.6,453.6 777.5,454.4 806,454.9C834.5,455.3 834.5,455.3 834.5,455.3"/><path d="M389.4,195.5C389.4,195.5 389.4,195.5 395.3,202.6C401.3,209.6 413.2,223.7 417.3,222C421.4,220.3 417.7,202.7 415.9,193.9C414,185.1 414,185.1 414,185.1"/><path d="M389.4,195.5C389.4,195.5 389.4,195.5 394.1,204C398.9,212.4 408.4,229.3 412.2,248.8C416,268.4 414.1,290.6 410.6,316.6C407.1,342.5 402.1,372.1 387.5,393C373,413.9 349,426.1 318.2,433.5C287.5,441 250,443.7 231.2,445.1C212.5,446.4 212.5,446.4 212.5,446.4"/><path d="M389.4,195.5C389.4,195.5 389.4,195.5 394.1,204.1C398.9,212.7 408.4,229.8 412.2,249.6C415.9,269.4 414,292 410.5,318.2C407,344.4 402,374.3 387.4,395.4C372.9,416.6 348.8,429 317.8,440.5C286.8,452 248.9,462.6 229.9,467.9C211,473.1 211,473.1 211,473.1"/><path d="M397.5,191.8C397.5,191.8 397.5,191.8 401.1,200.8C404.6,209.7 411.8,227.6 414.4,247.6C416.9,267.6 414.9,289.8 411.4,315.7C407.8,341.6 402.7,371.2 388.1,392C373.5,412.9 349.4,425 318.7,431.1C288.1,437.3 250.8,437.4 232.2,437.5C213.5,437.6 213.5,437.6 213.5,437.6"/><path d="M397.5,191.8C397.5,191.8 397.5,191.8 401.5,201.6C405.6,211.4 413.7,230.9 417.2,252.6C420.7,274.2 419.7,298.1 417.1,325.6C414.5,353.2 410.3,384.4 422.8,420.3C435.3,456.2 464.4,496.7 466.4,523C468.3,549.3 443.2,561.4 409.3,586.1C375.4,610.8 332.7,648.1 311.4,666.7C290.1,685.4 290.1,685.4 290.1,685.4"/><path d="M397.5,191.8C397.5,191.8 397.5,191.8 402.2,199.5C406.9,207.1 416.3,222.3 419,221.2C421.8,220.1 417.9,202.6 416,193.9C414,185.1 414,185.1 414,185.1"/><path class="h" d="M405.7,188.4C405.7,188.4 405.7,188.4 410.4,196.8C415.2,205.3 424.6,222.3 430.7,240.9C436.8,259.5 439.5,279.9 440.6,303.9C441.7,327.9 441.2,355.6 457.4,387.9C473.6,420.2 506.5,457.2 533.9,452.2C561.2,447.3 583.2,400.4 617.3,360.8C651.4,321.3 697.6,289.1 720.7,273C743.8,256.9 743.8,256.9 743.8,256.9" stroke="url(#ga)"/><path class="h" d="M405.7,188.4C405.7,188.4 405.7,188.4 410.4,196.8C415.1,205.3 424.5,222.2 430.6,240.8C436.6,259.3 439.2,279.6 440.3,303.5C441.3,327.5 440.8,355.1 456.9,387.4C473.1,419.7 505.9,456.6 533.2,451.6C560.6,446.6 582.4,399.6 615.6,359.2C648.7,318.7 693.1,284.7 715.2,267.7C737.4,250.7 737.4,250.7 737.4,250.7" stroke="url(#ga)"/><path d="M405.7,188.4C405.7,188.4 405.7,188.4 408.1,197.8C410.4,207.2 415.2,226.1 416.5,246.7C417.8,267.2 415.8,289.5 412.1,315.4C408.5,341.3 403.3,370.9 388.6,391.8C373.9,412.7 349.7,424.8 319,431C288.2,437.2 250.9,437.4 232.2,437.5C213.5,437.6 213.5,437.6 213.5,437.6"/><path d="M405.7,188.4C405.7,188.4 405.7,188.4 409,199C412.3,209.5 418.9,230.7 422.1,253.6C425.2,276.4 425,301 423.3,329.2C421.5,357.4 418.1,389.3 431.4,425.9C444.7,462.4 474.7,503.6 477.5,530.6C480.3,557.6 456,570.4 438.1,606.9C420.2,643.3 408.9,703.3 403.2,733.3C397.5,763.4 397.5,763.4 397.5,763.4"/><path d="M405.7,188.4C405.7,188.4 405.7,188.4 409.1,196.5C412.6,204.7 419.4,221 420.8,220.4C422.2,219.9 418.1,202.5 416.1,193.8C414,185.1 414,185.1 414,185.1"/><path d="M405.7,188.4C405.7,188.4 405.7,188.4 408.1,197.9C410.4,207.3 415.1,226.3 416.5,246.9C417.8,267.6 415.7,289.9 412.1,315.9C408.4,341.9 403.2,371.6 388.5,392.6C373.8,413.6 349.6,425.8 318.7,433.3C287.8,440.8 250.2,443.6 231.3,445C212.5,446.4 212.5,446.4 212.5,446.4"/><path class="h" d="M414,185.1C414,185.1 414,185.1 417.5,194.1C421.1,203 428.1,220.9 432.9,240.1C437.8,259.2 440.4,279.5 441.4,303.5C442.4,327.6 441.9,355.3 458,387.6C474.2,420 506.9,457 534.3,452.1C561.6,447.1 583.5,400.3 617.5,360.8C651.5,321.2 697.7,289.1 720.7,273C743.8,256.9 743.8,256.9 743.8,256.9" stroke="url(#ga)"/><path d="M414,185.1C414,185.1 414,185.1 415.2,195C416.3,205 418.6,224.8 418.7,245.8C418.7,266.9 416.6,289.1 412.9,315.1C409.2,341 403.9,370.7 389.1,391.6C374.3,412.5 350.1,424.7 319.2,430.9C288.4,437.1 251,437.4 232.2,437.5C213.5,437.6 213.5,437.6 213.5,437.6"/><path d="M414,185.1C414,185.1 414,185.1 415.2,195.2C416.3,205.2 418.6,225.3 418.6,246.6C418.7,267.9 416.5,290.5 412.7,316.7C409,342.9 403.7,372.8 388.9,394C374.1,415.2 349.8,427.6 318.6,437.9C287.4,448.1 249.3,456.2 230.3,460.2C211.2,464.2 211.2,464.2 211.2,464.2"/><path d="M414,185.1C414,185.1 414,185.1 415.2,195.1C416.3,205.1 418.6,225.1 418.6,246.4C418.7,267.6 416.5,290 412.8,316.2C409,342.3 403.7,372.1 389,393.2C374.2,414.3 349.9,426.7 318.8,435.6C287.6,444.4 249.7,449.9 230.7,452.6C211.7,455.3 211.7,455.3 211.7,455.3"/><path d="M414,185.1C414,185.1 414,185.1 415.2,195.1C416.3,205.1 418.6,225 418.6,246.1C418.7,267.2 416.6,289.6 412.8,315.6C409.1,341.7 403.8,371.4 389,392.4C374.2,413.4 350,425.7 319,433.2C288,440.8 250.2,443.6 231.4,445C212.5,446.4 212.5,446.4 212.5,446.4"/><path d="M414,185.1C414,185.1 414,185.1 416.8,193.7C419.6,202.2 425.2,219.3 428.6,237.5C432,255.8 433.2,275.3 432.8,298.5C432.4,321.7 430.4,348.5 444.4,327C458.5,305.4 488.6,235.5 503.6,200.5C518.6,165.5 518.6,165.5 518.6,165.5"/><path d="M414,185.1C414,185.1 414,185.1 415.2,195.8C416.4,206.4 418.9,227.6 419.1,250.1C419.3,272.5 417.3,296.2 413.7,323.5C410.2,350.9 405,382 391.9,418.8C378.9,455.6 357.9,498.2 329.2,525.7C300.5,553.3 264,565.8 245.8,572C227.6,578.3 227.6,578.3 227.6,578.3"/><path d="M414,185.1C414,185.1 414,185.1 415.3,195.9C416.6,206.7 419.2,228.3 419.5,251C419.8,273.8 418,297.8 414.5,325.5C411.1,353.2 406.1,384.6 393.1,421.8C380.2,458.9 359.3,501.8 332.7,534.4C306,566.9 273.5,589.1 257.3,600.2C241,611.3 241,611.3 241,611.3"/><path class="h" d="M414,185.1C414,185.1 414,185.1 417.5,194.1C421,203 428,220.8 432.8,239.9C437.5,259 440.1,279.2 441.1,303.2C442.1,327.2 441.5,354.9 457.6,387.2C473.6,419.5 506.4,456.4 533.6,451.4C560.9,446.4 582.7,399.5 615.8,359.1C648.8,318.6 693.1,284.7 715.3,267.7C737.4,250.7 737.4,250.7 737.4,250.7" stroke="url(#ga)"/><path d="M414,185.1C414,185.1 414,185.1 416.7,193.7C419.3,202.2 424.6,219.2 427.7,237.5C430.8,255.7 431.6,275.2 439,264C446.4,252.9 460.3,211.1 467.3,190.2C474.3,169.3 474.3,169.3 474.3,169.3"/><path d="M414,185.1C414,185.1 414,185.1 415.5,195.7C417.1,206.3 420.1,227.5 420.9,249.9C421.7,272.3 420.3,295.9 417.4,323.2C414.4,350.5 409.9,381.5 422,417.1C434.1,452.8 462.9,493 464.5,519.1C466.1,545.2 440.5,557.1 402.4,576.6C364.3,596 313.6,623.1 288.3,636.6C262.9,650.1 262.9,650.1 262.9,650.1"/><path d="M422.4,182.1C422.4,182.1 422.4,182.1 422.3,192.5C422.2,202.8 422.1,223.6 420.9,245.1C419.7,266.5 417.4,288.8 413.6,314.8C409.8,340.8 404.5,370.5 389.6,391.4C374.8,412.4 350.4,424.6 319.5,430.8C288.6,437.1 251,437.3 232.3,437.5C213.5,437.6 213.5,437.6 213.5,437.6"/><path d="M422.4,182.1C422.4,182.1 422.4,182.1 423.3,193.6C424.1,205.1 425.8,228.1 426.5,251.9C427.2,275.7 426.8,300.3 424.9,328.6C423,356.8 419.5,388.8 432.7,425.4C445.9,462 475.7,503.2 478.3,530.3C481,557.3 456.5,570.2 438.5,606.7C420.5,643.2 409,703.3 403.2,733.3C397.5,763.4 397.5,763.4 397.5,763.4"/><path d="M422.4,182.1C422.4,182.1 422.4,182.1 422.8,193.3C423.2,204.5 424,226.8 423.8,250C423.6,273.1 422.4,297 419.6,324.7C416.7,352.3 412.4,383.6 424.6,419.6C436.9,455.5 465.8,496.1 467.6,522.5C469.4,548.9 444,561.1 409.9,585.9C375.8,610.7 333,648 311.5,666.7C290.1,685.4 290.1,685.4 290.1,685.4"/><path d="M422.4,182.1C422.4,182.1 422.4,182.1 423.3,191.3C424.1,200.4 425.8,218.6 424.4,219.1C423,219.6 418.5,202.4 416.3,193.7C414,185.1 414,185.1 414,185.1"/><path d="M430.9,179.4C430.9,179.4 430.9,179.4 429.5,190.3C428.2,201.2 425.5,222.9 423,245.1C420.5,267.3 418.2,289.9 414.3,316.2C410.4,342.4 404.9,372.4 389.9,393.7C375,414.9 350.5,427.4 319.1,437.7C287.8,448 249.5,456.1 230.4,460.2C211.2,464.2 211.2,464.2 211.2,464.2"/><path d="M430.9,179.4C430.9,179.4 430.9,179.4 429.6,190.2C428.2,201.1 425.5,222.8 423,244.9C420.5,267 418.2,289.4 414.3,315.6C410.4,341.8 404.9,371.7 390,392.9C375,414 350.6,426.4 319.3,435.4C288,444.3 249.9,449.8 230.8,452.6C211.7,455.3 211.7,455.3 211.7,455.3"/><path d="M430.9,179.4C430.9,179.4 430.9,179.4 429.9,190.8C429,202.2 427,225 425.3,248.2C423.5,271.4 422,294.9 418.8,322.2C415.7,349.5 410.9,380.5 422.9,416.1C434.8,451.8 463.4,492 464.8,518.1C466.3,544.1 440.5,556 401.6,574.4C362.6,592.8 310.3,617.7 284.2,630.1C258.1,642.6 258.1,642.6 258.1,642.6"/><path d="M430.9,179.4C430.9,179.4 430.9,179.4 429.9,190.8C429,202.2 427.1,225.1 425.4,248.4C423.7,271.6 422.2,295.3 419,322.6C415.9,350 411.3,381 423.2,416.7C435.2,452.4 463.8,492.7 465.3,518.8C466.8,545 441.1,556.9 402.8,576.4C364.6,595.9 313.8,623 288.3,636.6C262.9,650.1 262.9,650.1 262.9,650.1"/><path d="M430.9,179.4C430.9,179.4 430.9,179.4 430.4,188.9C430,198.5 429.1,217.5 426.3,218.5C423.5,219.5 418.7,202.3 416.4,193.7C414,185.1 414,185.1 414,185.1"/><path d="M430.9,179.4C430.9,179.4 430.9,179.4 429.5,190.3C428.2,201.3 425.5,223.1 423,245.4C420.5,267.7 418.2,290.3 414.3,316.7C410.3,343.1 404.9,373.1 389.9,394.5C374.9,415.8 350.5,428.4 319.1,440C287.7,451.7 249.3,462.4 230.2,467.8C211,473.1 211,473.1 211,473.1"/><path d="M439.4,176.9C439.4,176.9 439.4,176.9 436.9,188C434.3,199.1 429.1,221.4 425.3,243.7C421.5,266 419.1,288.3 415.2,314.3C411.2,340.4 405.7,370.1 390.6,391.1C375.6,412.1 351.1,424.4 320,430.7C288.9,437 251.2,437.3 232.4,437.4C213.5,437.6 213.5,437.6 213.5,437.6"/><path d="M439.4,176.9C439.4,176.9 439.4,176.9 437.8,189.1C436.2,201.4 432.9,225.9 431.1,250.5C429.2,275.1 428.7,299.7 426.6,328C424.6,356.3 420.9,388.4 434,425C447,461.7 476.7,502.9 479.2,530C481.7,557.1 457.1,570 438.9,606.6C420.8,643.1 409.1,703.2 403.3,733.3C397.5,763.4 397.5,763.4 397.5,763.4"/><path d="M439.4,176.9C439.4,176.9 439.4,176.9 437.7,186.8C435.9,196.7 432.4,216.6 428.1,218C423.9,219.3 418.9,202.2 416.5,193.7C414,185.1 414,185.1 414,185.1"/><path d="M448.1,174.6C448.1,174.6 448.1,174.6 445,184.9C441.9,195.2 435.7,215.7 430,217.5C424.3,219.2 419.2,202.2 416.6,193.7C414,185.1 414,185.1 414,185.1"/><path d="M448.1,174.6C448.1,174.6 448.1,174.6 444.2,186.2C440.4,197.7 432.6,220.8 427.5,243.6C422.4,266.4 419.9,289 415.8,315.2C411.8,341.4 406.1,371.4 391,392.6C375.9,413.8 351.2,426.2 319.8,435.2C288.3,444.2 250,449.8 230.9,452.6C211.7,455.3 211.7,455.3 211.7,455.3"/><path d="M448.1,174.6C448.1,174.6 448.1,174.6 444.2,186.2C440.3,197.9 432.6,221.2 427.5,244.1C422.4,267.1 419.9,289.9 415.8,316.3C411.7,342.7 406.1,372.8 390.9,394.2C375.8,415.6 351.2,428.2 319.6,439.9C288,451.6 249.5,462.4 230.2,467.8C211,473.1 211,473.1 211,473.1"/><path d="M456.7,172.6C456.7,172.6 456.7,172.6 452.7,185.5C448.7,198.4 440.6,224.3 436.3,249.6C432,274.9 431.6,299.6 429.6,328.1C427.6,356.5 424,388.7 437.1,425.4C450.2,462.2 480,503.6 490.2,535C500.4,566.5 491.2,588 476.6,626C462.1,664.1 442.2,718.6 432.3,745.8C422.4,773.1 422.4,773.1 422.4,773.1"/><path d="M456.7,172.6C456.7,172.6 456.7,172.6 452.9,185.6C449.1,198.6 441.4,224.5 437.6,249.9C433.8,275.3 433.8,300.2 432.2,328.7C430.6,357.3 427.5,389.5 441,426.4C454.5,463.2 484.7,504.7 495.4,536.3C506.1,567.9 497.2,589.5 490.4,629.5C483.7,669.4 479,727.7 476.6,756.8C474.3,785.9 474.3,785.9 474.3,785.9"/><path d="M456.7,172.6C456.7,172.6 456.7,172.6 452.6,185.5C448.4,198.4 440.1,224.2 435.7,249.4C431.2,274.6 430.6,299.2 428.4,327.6C426.2,356 422.4,388 435.3,424.7C448.1,461.4 477.7,502.7 480.1,529.8C482.4,556.9 457.7,569.9 439.4,606.5C421.1,643 409.3,703.2 403.4,733.3C397.5,763.4 397.5,763.4 397.5,763.4"/><path d="M456.7,172.6C456.7,172.6 456.7,172.6 452.8,185.6C448.9,198.5 441.1,224.5 437.2,249.9C433.2,275.2 433,300 431.3,328.6C429.6,357.1 426.3,389.3 439.7,426.1C453.1,463 483.1,504.4 493.6,536C504.2,567.5 495.2,589.1 485.8,628.6C476.4,668 466.6,725.3 461.7,754C456.7,782.6 456.7,782.6 456.7,782.6"/><path d="M456.7,172.6C456.7,172.6 456.7,172.6 451.6,184.3C446.5,196.1 436.3,219.6 429.9,242.6C423.4,265.5 420.9,287.9 416.7,314C412.6,340 406.9,369.8 391.7,390.9C376.5,411.9 351.8,424.2 320.5,430.5C289.2,436.9 251.4,437.2 232.5,437.4C213.5,437.6 213.5,437.6 213.5,437.6"/><path d="M456.7,172.6C456.7,172.6 456.7,172.6 452.8,185.5C448.8,198.5 440.8,224.4 436.7,249.7C432.6,275.1 432.3,299.9 430.5,328.3C428.6,356.8 425.2,389 438.4,425.8C451.6,462.6 481.5,504.1 491.9,535.6C502.3,567.1 493.1,588.6 481.1,627.4C469.2,666.3 454.3,722.3 446.9,750.3C439.4,778.3 439.4,778.3 439.4,778.3"/><path d="M456.7,172.6C456.7,172.6 456.7,172.6 452.2,185.2C447.6,197.8 438.5,223 433.1,247.6C427.8,272.2 426.3,296.3 423.3,324C420.2,351.8 415.6,383.2 427.7,419.3C439.7,455.4 468.4,496.1 469.9,522.7C471.5,549.2 445.8,561.6 412.3,587.4C378.9,613.3 337.5,652.6 316.8,672.3C296.2,691.9 296.2,691.9 296.2,691.9"/><path d="M456.7,172.6C456.7,172.6 456.7,172.6 452.1,185.2C447.6,197.7 438.4,222.9 433,247.4C427.6,272 426.1,296 423,323.7C419.9,351.4 415.2,382.8 427.2,418.8C439.2,454.9 467.8,495.5 469.3,522C470.8,548.5 445.1,560.8 410.7,585.7C376.3,610.5 333.2,647.9 311.7,666.7C290.1,685.4 290.1,685.4 290.1,685.4"/><path d="M456.7,172.6C456.7,172.6 456.7,172.6 451.7,185C446.6,197.5 436.5,222.4 430.3,246.8C424,271.1 421.6,294.9 417.6,322.4C413.6,349.9 408,381.1 394.5,418C381,455 359.6,497.7 330.4,525.4C301.3,553 264.5,565.7 246.1,572C227.6,578.3 227.6,578.3 227.6,578.3"/><path d="M456.7,172.6C456.7,172.6 456.7,172.6 452,185C447.3,197.4 437.8,222.1 432.2,246.4C426.6,270.6 424.8,294.2 421.4,321.6C418,348.9 413.1,380 424.8,415.6C436.5,451.3 464.9,491.6 466.1,517.7C467.3,543.9 441.4,555.8 402.2,574.3C363,592.7 310.6,617.6 284.3,630.1C258.1,642.6 258.1,642.6 258.1,642.6"/><path d="M456.7,172.6C456.7,172.6 456.7,172.6 452,184.9C447.2,197.2 437.7,221.9 432,246C426.3,270.1 424.4,293.6 420.9,320.8C417.5,348 412.5,378.9 424.1,414.5C435.8,450 464.1,490.2 465.2,516.2C466.4,542.2 440.3,554 399.8,570.2C359.3,586.3 304.2,606.7 276.7,617C249.1,627.2 249.1,627.2 249.1,627.2"/><path d="M456.7,172.6C456.7,172.6 456.7,172.6 452.3,183.2C447.9,193.8 439,214.9 431.9,217C424.7,219.1 419.4,202.1 416.7,193.6C414,185.1 414,185.1 414,185.1"/><path d="M456.7,172.6C456.7,172.6 456.7,172.6 451.6,184.5C446.5,196.5 436.2,220.3 429.8,243.6C423.3,266.9 420.7,289.7 416.6,316.1C412.4,342.5 406.7,372.7 391.4,394.1C376.2,415.5 351.5,428.1 319.8,439.8C288.2,451.6 249.6,462.4 230.3,467.7C211,473.1 211,473.1 211,473.1"/><path class="h" d="M465.5,170.8C465.5,170.8 465.5,170.8 461.5,181.9C457.5,192.9 449.6,215 446.7,236.2C443.8,257.5 445.9,277.9 446.6,302.1C447.2,326.2 446.2,354.1 461.9,386.6C477.6,419 509.9,456.1 536.8,451.3C563.7,446.5 585.2,399.8 618.8,360.4C652.4,321 698.1,288.9 721,272.9C743.8,256.9 743.8,256.9 743.8,256.9" stroke="url(#ga)"/><path class="h" d="M465.5,170.8C465.5,170.8 465.5,170.8 461.5,181.8C457.5,192.8 449.4,214.9 446.5,236.1C443.6,257.3 445.7,277.7 446.2,301.8C446.8,325.9 445.8,353.7 461.4,386.1C477.1,418.5 509.4,455.6 536.2,450.7C563,445.8 584.4,399.1 617.1,358.7C649.7,318.4 693.6,284.5 715.5,267.6C737.4,250.7 737.4,250.7 737.4,250.7" stroke="url(#ga)"/><path d="M465.5,170.8C465.5,170.8 465.5,170.8 459.1,182.8C452.7,194.8 439.9,218.9 432.1,242.1C424.4,265.3 421.7,287.7 417.5,313.8C413.3,339.9 407.5,369.7 392.2,390.8C376.9,411.8 352.1,424.1 320.8,430.5C289.4,436.8 251.5,437.2 232.5,437.4C213.5,437.6 213.5,437.6 213.5,437.6"/><path d="M465.5,170.8C465.5,170.8 465.5,170.8 459.5,183.5C453.5,196.2 441.5,221.5 434.6,246.1C427.7,270.6 425.9,294.3 422.5,321.8C419.1,349.2 414.1,380.3 425.8,416.1C437.5,451.8 465.9,492.2 467,518.4C468.2,544.6 442.2,556.6 403.7,576.2C365.2,595.8 314,622.9 288.5,636.5C262.9,650.1 262.9,650.1 262.9,650.1"/><path d="M465.5,170.8C465.5,170.8 465.5,170.8 459.7,181.7C453.9,192.5 442.3,214.3 433.8,216.6C425.2,219 419.6,202.1 416.8,193.6C414,185.1 414,185.1 414,185.1"/><path class="h" d="M474.3,169.3C474.3,169.3 474.3,169.3 469.2,190.5C464,211.7 453.8,254.1 448.4,289.3C443,324.5 442.4,352.5 458.5,385.1C474.6,417.8 507.3,455 534.6,450.4C561.9,445.7 583.7,399.2 617.6,359.9C651.6,320.7 697.7,288.8 720.8,272.8C743.8,256.9 743.8,256.9 743.8,256.9" stroke="url(#ga)"/><path class="h" d="M474.3,169.3C474.3,169.3 474.3,169.3 469.1,190.5C464,211.6 453.7,254 448.2,289.1C442.8,324.3 442.1,352.2 458.1,384.8C474.1,417.3 506.8,454.5 534,449.8C561.2,445.1 583,398.5 616,358.3C649,318.1 693.2,284.4 715.3,267.5C737.4,250.7 737.4,250.7 737.4,250.7" stroke="url(#ga)"/><path d="M474.3,169.3C474.3,169.3 474.3,169.3 465.9,190.9C457.5,212.6 440.8,255.8 415.5,267.4C390.1,279 356.1,258.9 339.1,248.8C322.1,238.8 322.1,238.8 322.1,238.8"/><path d="M474.3,169.3C474.3,169.3 474.3,169.3 466.8,192.5C459.2,215.6 444.2,262 434,301.1C423.8,340.2 418.4,372.2 429.7,408.7C440.9,445.3 468.8,486.5 469.6,513.5C470.4,540.5 443.9,553.4 405,573.8C366,594.2 314.5,622.1 288.7,636.1C262.9,650.1 262.9,650.1 262.9,650.1"/><path d="M474.3,169.3C474.3,169.3 474.3,169.3 467.1,192.8C460,216.4 445.7,263.5 436.2,303.4C426.7,343.3 422.1,376 434,413.4C446,450.7 474.7,492.7 476.2,520.5C477.7,548.3 452,561.9 424.1,594C396.2,626.2 366.1,676.8 351.1,702.2C336,727.5 336,727.5 336,727.5"/><path d="M474.3,169.3C474.3,169.3 474.3,169.3 468.2,190C462.1,210.8 449.9,252.2 442.6,286.5C435.2,320.7 432.7,347.8 446.1,326.4C459.6,305.1 489.1,235.3 503.9,200.4C518.6,165.5 518.6,165.5 518.6,165.5"/><path class="h" d="M483.1,168C483.1,168 483.1,168 476.7,189.4C470.3,210.8 457.5,253.6 450.7,289C444,324.4 443.3,352.4 459.3,385C475.3,417.7 507.9,454.9 535.1,450.3C562.3,445.7 584,399.1 617.9,359.9C651.8,320.7 697.8,288.8 720.8,272.8C743.8,256.9 743.8,256.9 743.8,256.9" stroke="url(#ga)"/><path class="h" d="M483.1,168C483.1,168 483.1,168 476.7,189.4C470.2,210.7 457.3,253.4 450.5,288.8C443.7,324.1 443,352.1 458.9,384.7C474.8,417.2 507.4,454.5 534.5,449.7C561.7,445 583.3,398.4 616.2,358.3C649.1,318.1 693.3,284.4 715.4,267.5C737.4,250.7 737.4,250.7 737.4,250.7" stroke="url(#ga)"/><path d="M483.1,168C483.1,168 483.1,168 475,191.9C466.8,215.9 450.5,263.7 440.3,304.2C430.1,344.6 426,377.7 438.5,415.4C451,453.1 480.2,495.5 482.2,523.6C484.2,551.8 459.1,565.8 440.5,603.4C421.8,641 409.6,702.2 403.6,732.8C397.5,763.4 397.5,763.4 397.5,763.4"/><path d="M483.1,168C483.1,168 483.1,168 473.4,189.9C463.7,211.7 444.2,255.3 417.4,267.1C390.5,278.9 356.3,258.9 339.2,248.8C322.1,238.8 322.1,238.8 322.1,238.8"/><path d="M483.1,168C483.1,168 483.1,168 475.7,188.9C468.3,209.9 453.4,251.7 444.7,286.2C435.9,320.6 433.2,347.7 446.6,326.4C459.9,305 489.3,235.3 504,200.4C518.6,165.5 518.6,165.5 518.6,165.5"/><path d="M483.1,168C483.1,168 483.1,168 475.3,189C467.5,209.9 451.8,251.9 450.3,252.1C448.9,252.3 461.6,210.8 467.9,190C474.3,169.3 474.3,169.3 474.3,169.3"/><path class="h" d="M491.9,167C491.9,167 491.9,167 484.2,188.5C476.5,210.1 461.1,253.1 453.1,288.7C445,324.2 444.2,352.3 460.1,384.9C476,417.6 508.5,454.9 535.6,450.2C562.7,445.6 584.4,399.1 618.2,359.8C652,320.6 697.9,288.8 720.9,272.8C743.8,256.9 743.8,256.9 743.8,256.9" stroke="url(#ga)"/><path class="h" d="M491.9,167C491.9,167 491.9,167 484.2,188.5C476.5,210 461,253 452.9,288.5C444.7,324 443.9,352 459.7,384.6C475.5,417.2 508,454.4 535.1,449.7C562.1,445 583.7,398.4 616.5,358.2C649.3,318.1 693.4,284.4 715.4,267.5C737.4,250.7 737.4,250.7 737.4,250.7" stroke="url(#ga)"/><path d="M491.9,167C491.9,167 491.9,167 482.5,191.1C473.1,215.1 454.2,263.3 442.7,303.9C431.1,344.5 426.9,377.6 439.3,415.3C451.8,453 480.8,495.4 482.8,523.6C484.7,551.7 459.5,565.7 440.7,603.3C422,640.9 409.7,702.2 403.6,732.8C397.5,763.4 397.5,763.4 397.5,763.4"/><path d="M491.9,167C491.9,167 491.9,167 480.9,189C469.8,211 447.6,254.9 419.3,266.9C391,278.9 356.5,258.8 339.3,248.8C322.1,238.8 322.1,238.8 322.1,238.8"/><path d="M491.9,167C491.9,167 491.9,167 482.9,188.1C473.8,209.2 455.7,251.4 454.2,251.6C452.7,251.7 467.9,209.9 475.5,189C483.1,168 483.1,168 483.1,168"/><path d="M491.9,167C491.9,167 491.9,167 482.8,188.1C473.6,209.2 455.2,251.5 452.3,251.8C449.3,252.2 461.8,210.8 468,190C474.3,169.3 474.3,169.3 474.3,169.3"/><path class="h" d="M500.8,166.2C500.8,166.2 500.8,166.2 491.8,187.9C482.8,209.5 464.8,252.8 455.4,288.5C445.9,324.2 445.1,352.2 460.9,384.9C476.7,417.5 509.2,454.8 536.2,450.2C563.2,445.6 584.7,399 618.4,359.8C652.1,320.6 698,288.7 720.9,272.8C743.8,256.9 743.8,256.9 743.8,256.9" stroke="url(#ga)"/><path d="M500.8,166.2C500.8,166.2 500.8,166.2 490.4,187.5C479.9,208.7 459.1,251.1 456.1,251.4C453.1,251.7 468.1,209.9 475.6,188.9C483.1,168 483.1,168 483.1,168"/><path d="M500.8,166.2C500.8,166.2 500.8,166.2 488.4,188.3C475.9,210.4 451,254.6 421.2,266.7C391.4,278.8 356.7,258.8 339.4,248.8C322.1,238.8 322.1,238.8 322.1,238.8"/><path d="M500.8,166.2C500.8,166.2 500.8,166.2 490.3,187.5C479.7,208.7 458.6,251.2 454.2,251.7C449.8,252.2 462,210.7 468.1,190C474.3,169.3 474.3,169.3 474.3,169.3"/><path d="M509.7,165.7C509.7,165.7 509.7,165.7 497.8,187C485.9,208.4 462,251 456.1,251.6C450.2,252.2 462.2,210.7 468.3,190C474.3,169.3 474.3,169.3 474.3,169.3"/><path class="h" d="M509.7,165.7C509.7,165.7 509.7,165.7 499.4,187.5C489.1,209.2 468.5,252.6 457.7,288.4C446.9,324.1 446,352.1 461.7,384.8C477.4,417.5 509.8,454.8 536.7,450.2C563.6,445.6 585.1,399 618.7,359.8C652.3,320.6 698.1,288.7 720.9,272.8C743.8,256.9 743.8,256.9 743.8,256.9" stroke="url(#ga)"/><path d="M509.7,165.7C509.7,165.7 509.7,165.7 497.7,190C485.6,214.2 461.6,262.8 447.3,303.6C433.1,344.4 428.7,377.5 440.9,415.2C453.2,452.9 482.1,495.3 483.8,523.5C485.6,551.7 460.2,565.7 441.3,603.3C422.3,640.9 409.9,702.1 403.7,732.8C397.5,763.4 397.5,763.4 397.5,763.4"/><path d="M509.7,165.7C509.7,165.7 509.7,165.7 496.4,188.9C483,212.1 456.3,258.5 439.5,297.2C422.6,335.8 415.6,366.8 399.1,389C382.6,411.3 356.6,424.8 323.7,437.3C290.7,449.9 250.9,461.5 230.9,467.3C211,473.1 211,473.1 211,473.1"/><path class="h" d="M518.6,165.5C518.6,165.5 518.6,165.5 505.7,200.9C492.7,236.4 466.7,307.2 470.2,361.4C473.6,415.6 506.5,453.2 533.9,448.8C561.3,444.4 583.2,398.1 617.3,359.1C651.4,320.1 697.6,288.5 720.7,272.7C743.8,256.9 743.8,256.9 743.8,256.9" stroke="url(#ga)"/><path class="h" d="M518.6,165.5C518.6,165.5 518.6,165.5 505.6,200.9C492.6,236.3 466.6,307.1 469.9,361.2C473.3,415.3 506.1,452.8 533.4,448.3C560.7,443.9 582.6,397.5 615.7,357.5C648.8,317.6 693.1,284.1 715.3,267.4C737.4,250.7 737.4,250.7 737.4,250.7" stroke="url(#ga)"/><path d="M518.6,165.5C518.6,165.5 518.6,165.5 502.6,201C486.6,236.4 454.6,307.4 438.5,329.9C422.5,352.4 422.5,326.5 405.8,303.3C389,280 355.6,259.4 338.8,249.1C322.1,238.8 322.1,238.8 322.1,238.8"/><path class="h" d="M518.6,165.5C518.6,165.5 518.6,165.5 505.5,200.8C492.4,236.1 466.2,306.8 469.4,360.8C472.6,414.7 505.2,452 532.4,447.4C559.5,442.8 581.2,396.3 612.3,354.5C643.3,312.8 683.7,275.8 703.9,257.3C724.1,238.8 724.1,238.8 724.1,238.8" stroke="url(#ga)"/><path d="M518.6,165.5C518.6,165.5 518.6,165.5 501.9,201.8C485.2,238.2 451.9,310.9 423.4,347.8C395,384.6 371.5,385.6 341.9,379C312.4,372.4 276.7,358.1 258.9,351C241,343.9 241,343.9 241,343.9"/><path d="M518.6,165.5C518.6,165.5 518.6,165.5 501.8,202.2C485,238.9 451.3,312.3 420.9,355.6C390.5,399 363.3,412.3 331.2,412.3C299.1,412.2 262,398.8 243.4,392.1C224.9,385.4 224.9,385.4 224.9,385.4"/><path d="M518.6,165.5C518.6,165.5 518.6,165.5 501.9,202C485.1,238.6 451.5,311.7 422.9,349C394.3,386.3 370.6,387.7 339.4,385C308.2,382.2 269.4,375.4 250,371.9C230.6,368.5 230.6,368.5 230.6,368.5"/><path d="M518.6,165.5C518.6,165.5 518.6,165.5 501.9,204.1C485.2,242.6 451.9,319.8 423.3,381.4C394.7,443.1 370.9,489.1 341.4,524.9C311.8,560.6 276.4,586 258.7,598.6C241,611.3 241,611.3 241,611.3"/><path d="M518.6,165.5C518.6,165.5 518.6,165.5 501.8,203.8C485,242.1 451.4,318.7 422.6,379.8C393.8,440.9 369.8,486.4 338.1,516.9C306.4,547.4 267,562.8 247.3,570.6C227.6,578.3 227.6,578.3 227.6,578.3"/><path d="M518.6,165.5C518.6,165.5 518.6,165.5 503.4,204C488.1,242.5 457.5,319.6 456.3,380C455.1,440.4 483.3,484.1 484.4,513.6C485.4,543.2 459.3,558.5 436.3,595.8C413.3,633.1 393.4,692.3 383.5,722C373.5,751.6 373.5,751.6 373.5,751.6"/><path d="M518.6,165.5C518.6,165.5 518.6,165.5 504,200.4C489.3,235.3 459.9,305 446.6,326.4C433.2,347.7 435.9,320.6 444.7,286.2C453.4,251.7 468.3,209.9 475.7,188.9C483.1,168 483.1,168 483.1,168"/><path d="M518.6,165.5C518.6,165.5 518.6,165.5 501.8,203.5C484.9,241.5 451.1,317.6 420.5,372.2C389.9,426.9 362.5,460.2 329.3,485.3C296.1,510.3 257.1,527.1 237.6,535.5C218.1,544 218.1,544 218.1,544"/><path class="h" d="M518.6,165.5C518.6,165.5 518.6,165.5 505.4,200.7C492.2,235.9 465.7,306.4 468.6,360.1C471.6,413.9 503.9,451 530.8,446.2C557.7,441.4 579.1,394.6 606.9,350.4C634.7,306.1 668.8,264.3 685.9,243.4C703,222.5 703,222.5 703,222.5" stroke="url(#ga)"/><path d="M518.6,165.5C518.6,165.5 518.6,165.5 501.7,202.9C484.7,240.3 450.9,315.2 420.2,360C389.6,404.8 362.2,419.6 327.9,433.5C293.5,447.3 252.3,460.2 231.6,466.7C211,473.1 211,473.1 211,473.1"/></g><g stroke="#fff" stroke-width="1.5" stroke-linejoin="round"><path d="M523.1,-2.4A480,480 0 1,1 523.1,957.6A480,480 0 1,1 523.1,-2.4ZM523.1,31.4A446.2,446.2 0 1,0 523.1,923.8A446.2,446.2 0 1,0 523.1,31.4Z" fill="#ede6b0" fill-rule="evenodd"/><path d="M523.1,-2.4L523.1,31.4" fill="none"/><path d="M523.1,31.4A446.2,446.2 0 0,1 648.8,49.5L639.3,81.9A412.4,412.4 0 0,0 523.1,65.2Z" fill="#cccccc"/><path d="M523.1,65.2A412.4,412.4 0 0,1 570.1,67.8L566.3,101.1A379,379 0 0,0 523.1,98.6Z" fill="#cccccc"/><path d="M523.1,98.6A379,379 0 0,1 533.9,98.8L532,165.6A312.1,312.1 0 0,0 523.1,165.5Z" fill="#489e37"/><path d="M533.9,98.8A379,379 0 0,1 544.7,99.2L540.9,166A312.1,312.1 0 0,0 532,165.6Z" fill="#489e37"/><path d="M544.7,99.2A379,379 0 0,1 555.5,100L549.8,166.6A312.1,312.1 0 0,0 540.9,166Z" fill="#b9b9d9"/><path d="M555.5,100A379,379 0 0,1 566.3,101.1L558.7,167.5A312.1,312.1 0 0,0 549.8,166.6Z" fill="#b9b9d9"/><path d="M570.1,67.8A412.4,412.4 0 0,1 628,78.7L619.4,111.1A379,379 0 0,0 566.3,101.1Z" fill="#cccccc"/><path d="M566.3,101.1A379,379 0 0,1 577,102.5L567.5,168.6A312.1,312.1 0 0,0 558.7,167.5Z" fill="#489e37"/><path d="M577,102.5A379,379 0 0,1 587.7,104.2L576.3,170A312.1,312.1 0 0,0 567.5,168.6Z" fill="#489e37"/><path d="M587.7,104.2A379,379 0 0,1 598.4,106.1L585.1,171.7A312.1,312.1 0 0,0 576.3,170Z" fill="#489e37"/><path d="M598.4,106.1A379,379 0 0,1 608.9,108.4L593.8,173.6A312.1,312.1 0 0,0 585.1,171.7Z" fill="#489e37"/><path d="M608.9,108.4A379,379 0 0,1 619.4,111.1L602.5,175.7A312.1,312.1 0 0,0 593.8,173.6Z" fill="#489e37"/><path d="M628,78.7A412.4,412.4 0 0,1 639.3,81.9L629.9,114A379,379 0 0,0 619.4,111.1Z" fill="#cccccc"/><path d="M619.4,111.1A379,379 0 0,1 629.9,114L611,178.1A312.1,312.1 0 0,0 602.5,175.7Z" fill="#489e37"/><path d="M648.8,49.5A446.2,446.2 0 0,1 860.3,185.4L834.8,207.5A412.4,412.4 0 0,0 639.3,81.9Z" fill="#5083b5"/><path d="M639.3,81.9A412.4,412.4 0 0,1 650.6,85.3L619.6,180.7A312.1,312.1 0 0,0 611,178.1Z" fill="#c6212e"/><path d="M650.6,85.3A412.4,412.4 0 0,1 661.7,89.1L628,183.6A312.1,312.1 0 0,0 619.6,180.7Z" fill="#489e37"/><path d="M661.7,89.1A412.4,412.4 0 0,1 755.9,137.1L737,164.7A379,379 0 0,0 650.5,120.6Z" fill="#e0d9a0"/><path d="M650.5,120.6A379,379 0 0,1 660.6,124.4L636.4,186.7A312.1,312.1 0 0,0 628,183.6Z" fill="#c6212e"/><path d="M660.6,124.4A379,379 0 0,1 670.6,128.5L644.6,190.1A312.1,312.1 0 0,0 636.4,186.7Z" fill="#c6212e"/><path d="M670.6,128.5A379,379 0 0,1 680.5,132.8L652.8,193.7A312.1,312.1 0 0,0 644.6,190.1Z" fill="#c6212e"/><path d="M680.5,132.8A379,379 0 0,1 690.3,137.5L660.8,197.5A312.1,312.1 0 0,0 652.8,193.7Z" fill="#c6212e"/><path d="M690.3,137.5A379,379 0 0,1 700,142.4L668.8,201.5A312.1,312.1 0 0,0 660.8,197.5Z" fill="#c6212e"/><path d="M700,142.4A379,379 0 0,1 709.5,147.6L676.6,205.8A312.1,312.1 0 0,0 668.8,201.5Z" fill="#c6212e"/><path d="M709.5,147.6A379,379 0 0,1 718.8,153L684.3,210.3A312.1,312.1 0 0,0 676.6,205.8Z" fill="#c6212e"/><path d="M718.8,153A379,379 0 0,1 728,158.8L691.9,215A312.1,312.1 0 0,0 684.3,210.3Z" fill="#c6212e"/><path d="M728,158.8A379,379 0 0,1 737,164.7L699.3,219.9A312.1,312.1 0 0,0 691.9,215Z" fill="#c6212e"/><path d="M755.9,137.1A412.4,412.4 0 0,1 765.5,143.9L706.6,225.1A312.1,312.1 0 0,0 699.3,219.9Z" fill="#c6212e"/><path d="M765.5,143.9A412.4,412.4 0 0,1 775,151L713.7,230.4A312.1,312.1 0 0,0 706.6,225.1Z" fill="#c6212e"/><path d="M775,151A412.4,412.4 0 0,1 784.2,158.3L720.7,236A312.1,312.1 0 0,0 713.7,230.4Z" fill="#c6212e"/><path d="M784.2,158.3A412.4,412.4 0 0,1 793.2,165.9L727.5,241.7A312.1,312.1 0 0,0 720.7,236Z" fill="#c6212e"/><path d="M793.2,165.9A412.4,412.4 0 0,1 802,173.7L734.2,247.6A312.1,312.1 0 0,0 727.5,241.7Z" fill="#c6212e"/><path d="M802,173.7A412.4,412.4 0 0,1 810.6,181.8L740.6,253.7A312.1,312.1 0 0,0 734.2,247.6Z" fill="#c6212e"/><path d="M810.6,181.8A412.4,412.4 0 0,1 818.9,190.1L747,260.1A312.1,312.1 0 0,0 740.6,253.7Z" fill="#c6212e"/><path d="M818.9,190.1A412.4,412.4 0 0,1 827,198.7L753.1,266.5A312.1,312.1 0 0,0 747,260.1Z" fill="#c6212e"/><path d="M827,198.7A412.4,412.4 0 0,1 834.8,207.5L759,273.2A312.1,312.1 0 0,0 753.1,266.5Z" fill="#c6212e"/><path d="M860.3,185.4A446.2,446.2 0 0,1 934.1,303.9L903,317A412.4,412.4 0 0,0 834.8,207.5Z" fill="#cccccc"/><path d="M834.8,207.5A412.4,412.4 0 0,1 870.1,254.6L841.9,272.7A379,379 0 0,0 809.5,229.4Z" fill="#cccccc"/><path d="M809.5,229.4A379,379 0 0,1 816.5,237.7L764.7,280A312.1,312.1 0 0,0 759,273.2Z" fill="#b9b9d9"/><path d="M816.5,237.7A379,379 0 0,1 823.2,246.2L770.3,287A312.1,312.1 0 0,0 764.7,280Z" fill="#b9b9d9"/><path d="M823.2,246.2A379,379 0 0,1 829.7,254.8L775.6,294.1A312.1,312.1 0 0,0 770.3,287Z" fill="#b9b9d9"/><path d="M829.7,254.8A379,379 0 0,1 836,263.7L780.8,301.4A312.1,312.1 0 0,0 775.6,294.1Z" fill="#b9b9d9"/><path d="M836,263.7A379,379 0 0,1 841.9,272.7L785.7,308.8A312.1,312.1 0 0,0 780.8,301.4Z" fill="#b9b9d9"/><path d="M870.1,254.6A412.4,412.4 0 0,1 876.3,264.6L790.4,316.4A312.1,312.1 0 0,0 785.7,308.8Z" fill="#b9b9d9"/><path d="M876.3,264.6A412.4,412.4 0 0,1 882.2,274.8L794.9,324.1A312.1,312.1 0 0,0 790.4,316.4Z" fill="#b9b9d9"/><path d="M882.2,274.8A412.4,412.4 0 0,1 887.9,285.1L799.2,331.9A312.1,312.1 0 0,0 794.9,324.1Z" fill="#b9b9d9"/><path d="M887.9,285.1A412.4,412.4 0 0,1 893.2,295.6L803.2,339.9A312.1,312.1 0 0,0 799.2,331.9Z" fill="#b9b9d9"/><path d="M893.2,295.6A412.4,412.4 0 0,1 898.3,306.3L807,347.9A312.1,312.1 0 0,0 803.2,339.9Z" fill="#b9b9d9"/><path d="M898.3,306.3A412.4,412.4 0 0,1 903,317L810.6,356.1A312.1,312.1 0 0,0 807,347.9Z" fill="#b9b9d9"/><path d="M934.1,303.9A446.2,446.2 0 0,1 951.2,351.9L918.8,361.4A412.4,412.4 0 0,0 903,317Z" fill="#cccccc"/><path d="M903,317A412.4,412.4 0 0,1 907.4,328L814,364.3A312.1,312.1 0 0,0 810.6,356.1Z" fill="#b9b9d9"/><path d="M907.4,328A412.4,412.4 0 0,1 911.6,339L817.1,372.7A312.1,312.1 0 0,0 814,364.3Z" fill="#b9b9d9"/><path d="M911.6,339A412.4,412.4 0 0,1 915.4,350.1L820,381.1A312.1,312.1 0 0,0 817.1,372.7Z" fill="#b9b9d9"/><path d="M915.4,350.1A412.4,412.4 0 0,1 918.8,361.4L822.6,389.7A312.1,312.1 0 0,0 820,381.1Z" fill="#b9b9d9"/><path d="M951.2,351.9A446.2,446.2 0 0,1 954.6,364.2L922,372.7A412.4,412.4 0 0,0 918.8,361.4Z" fill="#cccccc"/><path d="M918.8,361.4A412.4,412.4 0 0,1 922,372.7L825,398.2A312.1,312.1 0 0,0 822.6,389.7Z" fill="#b9b9d9"/><path d="M954.6,364.2A446.2,446.2 0 0,1 969.1,464.9L935.4,465.8A412.4,412.4 0 0,0 922,372.7Z" fill="#cccccc"/><path d="M922,372.7A412.4,412.4 0 0,1 924.8,384.2L827.1,406.9A312.1,312.1 0 0,0 825,398.2Z" fill="#b9b9d9"/><path d="M924.8,384.2A412.4,412.4 0 0,1 927.3,395.7L829,415.6A312.1,312.1 0 0,0 827.1,406.9Z" fill="#b9b9d9"/><path d="M927.3,395.7A412.4,412.4 0 0,1 929.5,407.3L830.7,424.4A312.1,312.1 0 0,0 829,415.6Z" fill="#b9b9d9"/><path d="M929.5,407.3A412.4,412.4 0 0,1 931.4,418.9L832.1,433.2A312.1,312.1 0 0,0 830.7,424.4Z" fill="#b9b9d9"/><path d="M931.4,418.9A412.4,412.4 0 0,1 932.9,430.6L833.2,442A312.1,312.1 0 0,0 832.1,433.2Z" fill="#b9b9d9"/><path d="M932.9,430.6A412.4,412.4 0 0,1 934,442.3L834.1,450.9A312.1,312.1 0 0,0 833.2,442Z" fill="#b9b9d9"/><path d="M934,442.3A412.4,412.4 0 0,1 934.9,454.1L834.7,459.8A312.1,312.1 0 0,0 834.1,450.9Z" fill="#b9b9d9"/><path d="M934.9,454.1A412.4,412.4 0 0,1 935.4,465.8L835.1,468.7A312.1,312.1 0 0,0 834.7,459.8Z" fill="#b9b9d9"/><path d="M969.1,464.9A446.2,446.2 0 0,1 472.2,920.9L476.1,887.4A412.4,412.4 0 0,0 935.4,465.8Z" fill="#cccccc"/><path d="M935.4,465.8A412.4,412.4 0 0,1 935.5,477.6L835.2,477.6A312.1,312.1 0 0,0 835.1,468.7Z" fill="#b9b9d9"/><path d="M935.5,477.6A412.4,412.4 0 0,1 935.4,489.4L835.1,486.5A312.1,312.1 0 0,0 835.2,477.6Z" fill="#b9b9d9"/><path d="M935.4,489.4A412.4,412.4 0 0,1 934.9,501.1L834.7,495.4A312.1,312.1 0 0,0 835.1,486.5Z" fill="#b9b9d9"/><path d="M934.9,501.1A412.4,412.4 0 0,1 934,512.9L834.1,504.3A312.1,312.1 0 0,0 834.7,495.4Z" fill="#b9b9d9"/><path d="M934,512.9A412.4,412.4 0 0,1 932.9,524.6L833.2,513.2A312.1,312.1 0 0,0 834.1,504.3Z" fill="#b9b9d9"/><path d="M932.9,524.6A412.4,412.4 0 0,1 931.4,536.3L832.1,522A312.1,312.1 0 0,0 833.2,513.2Z" fill="#b9b9d9"/><path d="M931.4,536.3A412.4,412.4 0 0,1 929.5,547.9L830.7,530.8A312.1,312.1 0 0,0 832.1,522Z" fill="#b9b9d9"/><path d="M929.5,547.9A412.4,412.4 0 0,1 927.3,559.5L829,539.6A312.1,312.1 0 0,0 830.7,530.8Z" fill="#b9b9d9"/><path d="M927.3,559.5A412.4,412.4 0 0,1 924.8,571L827.1,548.3A312.1,312.1 0 0,0 829,539.6Z" fill="#b9b9d9"/><path d="M924.8,571A412.4,412.4 0 0,1 922,582.5L825,557A312.1,312.1 0 0,0 827.1,548.3Z" fill="#b9b9d9"/><path d="M922,582.5A412.4,412.4 0 0,1 918.8,593.8L822.6,565.5A312.1,312.1 0 0,0 825,557Z" fill="#b9b9d9"/><path d="M918.8,593.8A412.4,412.4 0 0,1 915.4,605.1L820,574.1A312.1,312.1 0 0,0 822.6,565.5Z" fill="#b9b9d9"/><path d="M915.4,605.1A412.4,412.4 0 0,1 911.6,616.2L817.1,582.5A312.1,312.1 0 0,0 820,574.1Z" fill="#b9b9d9"/><path d="M911.6,616.2A412.4,412.4 0 0,1 907.4,627.2L814,590.9A312.1,312.1 0 0,0 817.1,582.5Z" fill="#b9b9d9"/><path d="M907.4,627.2A412.4,412.4 0 0,1 903,638.2L810.6,599.1A312.1,312.1 0 0,0 814,590.9Z" fill="#b9b9d9"/><path d="M903,638.2A412.4,412.4 0 0,1 898.3,648.9L807,607.3A312.1,312.1 0 0,0 810.6,599.1Z" fill="#b9b9d9"/><path d="M898.3,648.9A412.4,412.4 0 0,1 893.2,659.6L803.2,615.3A312.1,312.1 0 0,0 807,607.3Z" fill="#b9b9d9"/><path d="M893.2,659.6A412.4,412.4 0 0,1 887.9,670.1L799.2,623.3A312.1,312.1 0 0,0 803.2,615.3Z" fill="#b9b9d9"/><path d="M887.9,670.1A412.4,412.4 0 0,1 593.4,884L587.7,851A379,379 0 0,0 858.3,654.5Z" fill="#cccccc"/><path d="M858.3,654.5A379,379 0 0,1 853.1,664L794.9,631.1A312.1,312.1 0 0,0 799.2,623.3Z" fill="#b9b9d9"/><path d="M853.1,664A379,379 0 0,1 847.7,673.3L790.4,638.8A312.1,312.1 0 0,0 794.9,631.1Z" fill="#b9b9d9"/><path d="M847.7,673.3A379,379 0 0,1 841.9,682.5L785.7,646.4A312.1,312.1 0 0,0 790.4,638.8Z" fill="#b9b9d9"/><path d="M841.9,682.5A379,379 0 0,1 836,691.5L780.8,653.8A312.1,312.1 0 0,0 785.7,646.4Z" fill="#b9b9d9"/><path d="M836,691.5A379,379 0 0,1 829.7,700.4L775.6,661.1A312.1,312.1 0 0,0 780.8,653.8Z" fill="#b9b9d9"/><path d="M829.7,700.4A379,379 0 0,1 823.2,709L770.3,668.2A312.1,312.1 0 0,0 775.6,661.1Z" fill="#b9b9d9"/><path d="M823.2,709A379,379 0 0,1 816.5,717.5L764.7,675.2A312.1,312.1 0 0,0 770.3,668.2Z" fill="#b9b9d9"/><path d="M816.5,717.5A379,379 0 0,1 809.5,725.8L759,682A312.1,312.1 0 0,0 764.7,675.2Z" fill="#b9b9d9"/><path d="M809.5,725.8A379,379 0 0,1 802.3,733.9L753.1,688.7A312.1,312.1 0 0,0 759,682Z" fill="#b9b9d9"/><path d="M802.3,733.9A379,379 0 0,1 794.9,741.7L747,695.1A312.1,312.1 0 0,0 753.1,688.7Z" fill="#b9b9d9"/><path d="M794.9,741.7A379,379 0 0,1 787.2,749.4L740.6,701.5A312.1,312.1 0 0,0 747,695.1Z" fill="#b9b9d9"/><path d="M787.2,749.4A379,379 0 0,1 779.4,756.8L734.2,707.6A312.1,312.1 0 0,0 740.6,701.5Z" fill="#b9b9d9"/><path d="M779.4,756.8A379,379 0 0,1 771.3,764L727.5,713.5A312.1,312.1 0 0,0 734.2,707.6Z" fill="#b9b9d9"/><path d="M771.3,764A379,379 0 0,1 763,771L720.7,719.2A312.1,312.1 0 0,0 727.5,713.5Z" fill="#b9b9d9"/><path d="M763,771A379,379 0 0,1 754.5,777.7L713.7,724.8A312.1,312.1 0 0,0 720.7,719.2Z" fill="#b9b9d9"/><path d="M754.5,777.7A379,379 0 0,1 745.9,784.2L706.6,730.1A312.1,312.1 0 0,0 713.7,724.8Z" fill="#b9b9d9"/><path d="M745.9,784.2A379,379 0 0,1 737,790.5L699.3,735.3A312.1,312.1 0 0,0 706.6,730.1Z" fill="#b9b9d9"/><path d="M737,790.5A379,379 0 0,1 728,796.4L691.9,740.2A312.1,312.1 0 0,0 699.3,735.3Z" fill="#b9b9d9"/><path d="M728,796.4A379,379 0 0,1 718.8,802.2L684.3,744.9A312.1,312.1 0 0,0 691.9,740.2Z" fill="#b9b9d9"/><path d="M718.8,802.2A379,379 0 0,1 709.5,807.6L676.6,749.4A312.1,312.1 0 0,0 684.3,744.9Z" fill="#b9b9d9"/><path d="M709.5,807.6A379,379 0 0,1 700,812.8L668.8,753.7A312.1,312.1 0 0,0 676.6,749.4Z" fill="#b9b9d9"/><path d="M700,812.8A379,379 0 0,1 690.3,817.7L660.8,757.7A312.1,312.1 0 0,0 668.8,753.7Z" fill="#b9b9d9"/><path d="M690.3,817.7A379,379 0 0,1 680.5,822.4L652.8,761.5A312.1,312.1 0 0,0 660.8,757.7Z" fill="#b9b9d9"/><path d="M680.5,822.4A379,379 0 0,1 670.6,826.7L644.6,765.1A312.1,312.1 0 0,0 652.8,761.5Z" fill="#b9b9d9"/><path d="M670.6,826.7A379,379 0 0,1 660.6,830.8L636.4,768.5A312.1,312.1 0 0,0 644.6,765.1Z" fill="#b9b9d9"/><path d="M660.6,830.8A379,379 0 0,1 650.5,834.6L628,771.6A312.1,312.1 0 0,0 636.4,768.5Z" fill="#b9b9d9"/><path d="M650.5,834.6A379,379 0 0,1 640.2,838.1L619.6,774.5A312.1,312.1 0 0,0 628,771.6Z" fill="#b9b9d9"/><path d="M640.2,838.1A379,379 0 0,1 629.9,841.2L611,777.1A312.1,312.1 0 0,0 619.6,774.5Z" fill="#b9b9d9"/><path d="M629.9,841.2A379,379 0 0,1 619.4,844.1L602.5,779.5A312.1,312.1 0 0,0 611,777.1Z" fill="#b9b9d9"/><path d="M619.4,844.1A379,379 0 0,1 608.9,846.8L593.8,781.6A312.1,312.1 0 0,0 602.5,779.5Z" fill="#b9b9d9"/><path d="M608.9,846.8A379,379 0 0,1 598.4,849.1L585.1,783.5A312.1,312.1 0 0,0 593.8,781.6Z" fill="#b9b9d9"/><path d="M598.4,849.1A379,379 0 0,1 587.7,851L576.3,785.2A312.1,312.1 0 0,0 585.1,783.5Z" fill="#b9b9d9"/><path d="M593.4,884A412.4,412.4 0 0,1 581.8,885.9L567.5,786.6A312.1,312.1 0 0,0 576.3,785.2Z" fill="#b9b9d9"/><path d="M581.8,885.9A412.4,412.4 0 0,1 570.1,887.4L558.7,787.7A312.1,312.1 0 0,0 567.5,786.6Z" fill="#b9b9d9"/><path d="M570.1,887.4A412.4,412.4 0 0,1 558.4,888.5L549.8,788.6A312.1,312.1 0 0,0 558.7,787.7Z" fill="#b9b9d9"/><path d="M558.4,888.5A412.4,412.4 0 0,1 546.6,889.4L540.9,789.2A312.1,312.1 0 0,0 549.8,788.6Z" fill="#b9b9d9"/><path d="M546.6,889.4A412.4,412.4 0 0,1 534.9,889.9L532,789.6A312.1,312.1 0 0,0 540.9,789.2Z" fill="#b9b9d9"/><path d="M534.9,889.9A412.4,412.4 0 0,1 523.1,890L523.1,789.8A312.1,312.1 0 0,0 532,789.6Z" fill="#b9b9d9"/><path d="M523.1,890A412.4,412.4 0 0,1 511.3,889.9L514.2,789.6A312.1,312.1 0 0,0 523.1,789.8Z" fill="#b9b9d9"/><path d="M511.3,889.9A412.4,412.4 0 0,1 499.6,889.4L505.3,789.2A312.1,312.1 0 0,0 514.2,789.6Z" fill="#b9b9d9"/><path d="M499.6,889.4A412.4,412.4 0 0,1 487.8,888.5L496.4,788.6A312.1,312.1 0 0,0 505.3,789.2Z" fill="#b9b9d9"/><path d="M487.8,888.5A412.4,412.4 0 0,1 476.1,887.4L487.5,787.7A312.1,312.1 0 0,0 496.4,788.6Z" fill="#b9b9d9"/><path d="M472.2,920.9A446.2,446.2 0 0,1 349.4,888.6L362.5,857.5A412.4,412.4 0 0,0 476.1,887.4Z" fill="#cccccc"/><path d="M476.1,887.4A412.4,412.4 0 0,1 464.4,885.9L478.7,786.6A312.1,312.1 0 0,0 487.5,787.7Z" fill="#b9b9d9"/><path d="M464.4,885.9A412.4,412.4 0 0,1 452.8,884L469.9,785.2A312.1,312.1 0 0,0 478.7,786.6Z" fill="#b9b9d9"/><path d="M452.8,884A412.4,412.4 0 0,1 441.2,881.8L461.1,783.5A312.1,312.1 0 0,0 469.9,785.2Z" fill="#b9b9d9"/><path d="M441.2,881.8A412.4,412.4 0 0,1 429.7,879.3L452.4,781.6A312.1,312.1 0 0,0 461.1,783.5Z" fill="#b9b9d9"/><path d="M429.7,879.3A412.4,412.4 0 0,1 418.2,876.5L443.7,779.5A312.1,312.1 0 0,0 452.4,781.6Z" fill="#b9b9d9"/><path d="M418.2,876.5A412.4,412.4 0 0,1 406.9,873.3L435.2,777.1A312.1,312.1 0 0,0 443.7,779.5Z" fill="#b9b9d9"/><path d="M406.9,873.3A412.4,412.4 0 0,1 395.6,869.9L426.6,774.5A312.1,312.1 0 0,0 435.2,777.1Z" fill="#b9b9d9"/><path d="M395.6,869.9A412.4,412.4 0 0,1 384.5,866.1L418.2,771.6A312.1,312.1 0 0,0 426.6,774.5Z" fill="#b9b9d9"/><path d="M384.5,866.1A412.4,412.4 0 0,1 373.5,861.9L409.8,768.5A312.1,312.1 0 0,0 418.2,771.6Z" fill="#b9b9d9"/><path d="M373.5,861.9A412.4,412.4 0 0,1 362.5,857.5L401.6,765.1A312.1,312.1 0 0,0 409.8,768.5Z" fill="#b9b9d9"/><path d="M349.4,888.6A446.2,446.2 0 0,1 122.7,674.5L153,659.6A412.4,412.4 0 0,0 362.5,857.5Z" fill="#cccccc"/><path d="M362.5,857.5A412.4,412.4 0 0,1 351.8,852.8L393.4,761.5A312.1,312.1 0 0,0 401.6,765.1Z" fill="#c6212e"/><path d="M351.8,852.8A412.4,412.4 0 0,1 341.1,847.7L385.4,757.7A312.1,312.1 0 0,0 393.4,761.5Z" fill="#b9b9d9"/><path d="M341.1,847.7A412.4,412.4 0 0,1 330.6,842.4L377.4,753.7A312.1,312.1 0 0,0 385.4,757.7Z" fill="#b9b9d9"/><path d="M330.6,842.4A412.4,412.4 0 0,1 320.3,836.7L369.6,749.4A312.1,312.1 0 0,0 377.4,753.7Z" fill="#b9b9d9"/><path d="M320.3,836.7A412.4,412.4 0 0,1 310.1,830.8L361.9,744.9A312.1,312.1 0 0,0 369.6,749.4Z" fill="#b9b9d9"/><path d="M310.1,830.8A412.4,412.4 0 0,1 300.1,824.6L354.3,740.2A312.1,312.1 0 0,0 361.9,744.9Z" fill="#b9b9d9"/><path d="M300.1,824.6A412.4,412.4 0 0,1 280.7,811.3L300.3,784.2A379,379 0 0,0 318.2,796.4Z" fill="#cccccc"/><path d="M318.2,796.4A379,379 0 0,1 309.2,790.5L346.9,735.3A312.1,312.1 0 0,0 354.3,740.2Z" fill="#b9b9d9"/><path d="M309.2,790.5A379,379 0 0,1 300.3,784.2L339.6,730.1A312.1,312.1 0 0,0 346.9,735.3Z" fill="#b9b9d9"/><path d="M280.7,811.3A412.4,412.4 0 0,1 271.2,804.2L332.5,724.8A312.1,312.1 0 0,0 339.6,730.1Z" fill="#b9b9d9"/><path d="M271.2,804.2A412.4,412.4 0 0,1 262,796.9L325.5,719.2A312.1,312.1 0 0,0 332.5,724.8Z" fill="#b9b9d9"/><path d="M262,796.9A412.4,412.4 0 0,1 253,789.3L318.7,713.5A312.1,312.1 0 0,0 325.5,719.2Z" fill="#c6212e"/><path d="M253,789.3A412.4,412.4 0 0,1 227.3,765.1L251.3,741.7A379,379 0 0,0 274.9,764Z" fill="#cccccc"/><path d="M274.9,764A379,379 0 0,1 266.8,756.8L312,707.6A312.1,312.1 0 0,0 318.7,713.5Z" fill="#b9b9d9"/><path d="M266.8,756.8A379,379 0 0,1 259,749.4L305.6,701.5A312.1,312.1 0 0,0 312,707.6Z" fill="#b9b9d9"/><path d="M259,749.4A379,379 0 0,1 251.3,741.7L299.2,695.1A312.1,312.1 0 0,0 305.6,701.5Z" fill="#b9b9d9"/><path d="M227.3,765.1A412.4,412.4 0 0,1 219.2,756.5L293.1,688.7A312.1,312.1 0 0,0 299.2,695.1Z" fill="#c6212e"/><path d="M219.2,756.5A412.4,412.4 0 0,1 211.4,747.7L287.2,682A312.1,312.1 0 0,0 293.1,688.7Z" fill="#b9b9d9"/><path d="M211.4,747.7A412.4,412.4 0 0,1 182.6,710.4L210.2,691.5A379,379 0 0,0 236.7,725.8Z" fill="#cccccc"/><path d="M236.7,725.8A379,379 0 0,1 229.7,717.5L281.5,675.2A312.1,312.1 0 0,0 287.2,682Z" fill="#b9b9d9"/><path d="M229.7,717.5A379,379 0 0,1 223,709L275.9,668.2A312.1,312.1 0 0,0 281.5,675.2Z" fill="#b9b9d9"/><path d="M223,709A379,379 0 0,1 216.5,700.4L270.6,661.1A312.1,312.1 0 0,0 275.9,668.2Z" fill="#b9b9d9"/><path d="M216.5,700.4A379,379 0 0,1 210.2,691.5L265.4,653.8A312.1,312.1 0 0,0 270.6,661.1Z" fill="#b9b9d9"/><path d="M182.6,710.4A412.4,412.4 0 0,1 176.1,700.6L260.5,646.4A312.1,312.1 0 0,0 265.4,653.8Z" fill="#c6212e"/><path d="M176.1,700.6A412.4,412.4 0 0,1 169.9,690.6L255.8,638.8A312.1,312.1 0 0,0 260.5,646.4Z" fill="#b9b9d9"/><path d="M169.9,690.6A412.4,412.4 0 0,1 164,680.4L251.3,631.1A312.1,312.1 0 0,0 255.8,638.8Z" fill="#b9b9d9"/><path d="M164,680.4A412.4,412.4 0 0,1 158.3,670.1L247,623.3A312.1,312.1 0 0,0 251.3,631.1Z" fill="#b9b9d9"/><path d="M158.3,670.1A412.4,412.4 0 0,1 153,659.6L243,615.3A312.1,312.1 0 0,0 247,623.3Z" fill="#b9b9d9"/><path d="M122.7,674.5A446.2,446.2 0 0,1 523.1,31.4L523.1,65.2A412.4,412.4 0 0,0 153,659.6Z" fill="#cccccc"/><path d="M153,659.6A412.4,412.4 0 0,1 130.8,605.1L162.6,594.7A379,379 0 0,0 183,644.8Z" fill="#cccccc"/><path d="M183,644.8A379,379 0 0,1 178.3,635L239.2,607.3A312.1,312.1 0 0,0 243,615.3Z" fill="#489e37"/><path d="M178.3,635A379,379 0 0,1 174,625.1L235.6,599.1A312.1,312.1 0 0,0 239.2,607.3Z" fill="#489e37"/><path d="M174,625.1A379,379 0 0,1 169.9,615.1L232.2,590.9A312.1,312.1 0 0,0 235.6,599.1Z" fill="#b9b9d9"/><path d="M169.9,615.1A379,379 0 0,1 166.1,605L229.1,582.5A312.1,312.1 0 0,0 232.2,590.9Z" fill="#b9b9d9"/><path d="M166.1,605A379,379 0 0,1 162.6,594.7L226.2,574.1A312.1,312.1 0 0,0 229.1,582.5Z" fill="#489e37"/><path d="M130.8,605.1A412.4,412.4 0 0,1 110.7,477.6L144.1,477.6A379,379 0 0,0 162.6,594.7Z" fill="#cccccc"/><path d="M162.6,594.7A379,379 0 0,1 159.5,584.4L223.6,565.5A312.1,312.1 0 0,0 226.2,574.1Z" fill="#b9b9d9"/><path d="M159.5,584.4A379,379 0 0,1 156.6,573.9L221.2,557A312.1,312.1 0 0,0 223.6,565.5Z" fill="#b9b9d9"/><path d="M156.6,573.9A379,379 0 0,1 153.9,563.4L219.1,548.3A312.1,312.1 0 0,0 221.2,557Z" fill="#b9b9d9"/><path d="M153.9,563.4A379,379 0 0,1 151.6,552.9L217.2,539.6A312.1,312.1 0 0,0 219.1,548.3Z" fill="#b9b9d9"/><path d="M151.6,552.9A379,379 0 0,1 149.7,542.2L215.5,530.8A312.1,312.1 0 0,0 217.2,539.6Z" fill="#b9b9d9"/><path d="M149.7,542.2A379,379 0 0,1 148,531.5L214.1,522A312.1,312.1 0 0,0 215.5,530.8Z" fill="#489e37"/><path d="M148,531.5A379,379 0 0,1 146.6,520.8L213,513.2A312.1,312.1 0 0,0 214.1,522Z" fill="#b9b9d9"/><path d="M146.6,520.8A379,379 0 0,1 145.5,510L212.1,504.3A312.1,312.1 0 0,0 213,513.2Z" fill="#b9b9d9"/><path d="M145.5,510A379,379 0 0,1 144.7,499.2L211.5,495.4A312.1,312.1 0 0,0 212.1,504.3Z" fill="#b9b9d9"/><path d="M144.7,499.2A379,379 0 0,1 144.3,488.4L211.1,486.5A312.1,312.1 0 0,0 211.5,495.4Z" fill="#b9b9d9"/><path d="M144.3,488.4A379,379 0 0,1 144.1,477.6L211,477.6A312.1,312.1 0 0,0 211.1,486.5Z" fill="#489e37"/><path d="M110.7,477.6A412.4,412.4 0 0,1 134.6,339L166.1,350.2A379,379 0 0,0 144.1,477.6Z" fill="#cccccc"/><path d="M144.1,477.6A379,379 0 0,1 144.3,466.8L211.1,468.7A312.1,312.1 0 0,0 211,477.6Z" fill="#b9b9d9"/><path d="M144.3,466.8A379,379 0 0,1 144.7,456L211.5,459.8A312.1,312.1 0 0,0 211.1,468.7Z" fill="#489e37"/><path d="M144.7,456A379,379 0 0,1 145.5,445.2L212.1,450.9A312.1,312.1 0 0,0 211.5,459.8Z" fill="#b9b9d9"/><path d="M145.5,445.2A379,379 0 0,1 146.6,434.4L213,442A312.1,312.1 0 0,0 212.1,450.9Z" fill="#b9b9d9"/><path d="M146.6,434.4A379,379 0 0,1 148,423.7L214.1,433.2A312.1,312.1 0 0,0 213,442Z" fill="#489e37"/><path d="M148,423.7A379,379 0 0,1 156.6,381.3L188.9,389.7A345.6,345.6 0 0,0 181,428.4Z" fill="#cccccc"/><path d="M181,428.4A345.6,345.6 0 0,1 182.6,418.7L215.5,424.4A312.1,312.1 0 0,0 214.1,433.2Z" fill="#b9b9d9"/><path d="M182.6,418.7A345.6,345.6 0 0,1 184.4,409L217.2,415.6A312.1,312.1 0 0,0 215.5,424.4Z" fill="#b9b9d9"/><path d="M184.4,409A345.6,345.6 0 0,1 186.5,399.3L219.1,406.9A312.1,312.1 0 0,0 217.2,415.6Z" fill="#b9b9d9"/><path d="M186.5,399.3A345.6,345.6 0 0,1 188.9,389.7L221.2,398.2A312.1,312.1 0 0,0 219.1,406.9Z" fill="#b9b9d9"/><path d="M156.6,381.3A379,379 0 0,1 159.5,370.8L223.6,389.7A312.1,312.1 0 0,0 221.2,398.2Z" fill="#b9b9d9"/><path d="M159.5,370.8A379,379 0 0,1 162.6,360.5L226.2,381.1A312.1,312.1 0 0,0 223.6,389.7Z" fill="#b9b9d9"/><path d="M162.6,360.5A379,379 0 0,1 166.1,350.2L229.1,372.7A312.1,312.1 0 0,0 226.2,381.1Z" fill="#b9b9d9"/><path d="M134.6,339A412.4,412.4 0 0,1 153,295.6L183,310.4A379,379 0 0,0 166.1,350.2Z" fill="#cccccc"/><path d="M166.1,350.2A379,379 0 0,1 169.9,340.1L232.2,364.3A312.1,312.1 0 0,0 229.1,372.7Z" fill="#b9b9d9"/><path d="M169.9,340.1A379,379 0 0,1 174,330.1L235.6,356.1A312.1,312.1 0 0,0 232.2,364.3Z" fill="#b9b9d9"/><path d="M174,330.1A379,379 0 0,1 178.3,320.2L239.2,347.9A312.1,312.1 0 0,0 235.6,356.1Z" fill="#b9b9d9"/><path d="M178.3,320.2A379,379 0 0,1 183,310.4L243,339.9A312.1,312.1 0 0,0 239.2,347.9Z" fill="#489e37"/><path d="M153,295.6A412.4,412.4 0 0,1 169.9,264.6L198.5,281.9A379,379 0 0,0 183,310.4Z" fill="#cccccc"/><path d="M183,310.4A379,379 0 0,1 187.9,300.7L247,331.9A312.1,312.1 0 0,0 243,339.9Z" fill="#489e37"/><path d="M187.9,300.7A379,379 0 0,1 193.1,291.2L251.3,324.1A312.1,312.1 0 0,0 247,331.9Z" fill="#b9b9d9"/><path d="M193.1,291.2A379,379 0 0,1 198.5,281.9L255.8,316.4A312.1,312.1 0 0,0 251.3,324.1Z" fill="#b9b9d9"/><path d="M169.9,264.6A412.4,412.4 0 0,1 511.3,65.3L512.3,98.8A379,379 0 0,0 198.5,281.9Z" fill="#cccccc"/><path d="M198.5,281.9A379,379 0 0,1 216.5,254.8L243.5,274.5A345.6,345.6 0 0,0 227.1,299.1Z" fill="#cccccc"/><path d="M227.1,299.1A345.6,345.6 0 0,1 232.4,290.8L260.5,308.8A312.1,312.1 0 0,0 255.8,316.4Z" fill="#b9b9d9"/><path d="M232.4,290.8A345.6,345.6 0 0,1 237.8,282.5L265.4,301.4A312.1,312.1 0 0,0 260.5,308.8Z" fill="#489e37"/><path d="M237.8,282.5A345.6,345.6 0 0,1 243.5,274.5L270.6,294.1A312.1,312.1 0 0,0 265.4,301.4Z" fill="#b9b9d9"/><path d="M216.5,254.8A379,379 0 0,1 251.3,213.5L275.3,236.7A345.6,345.6 0 0,0 243.5,274.5Z" fill="#cccccc"/><path d="M243.5,274.5A345.6,345.6 0 0,1 249.4,266.6L275.9,287A312.1,312.1 0 0,0 270.6,294.1Z" fill="#489e37"/><path d="M249.4,266.6A345.6,345.6 0 0,1 255.6,258.8L281.5,280A312.1,312.1 0 0,0 275.9,287Z" fill="#489e37"/><path d="M255.6,258.8A345.6,345.6 0 0,1 261.9,251.3L287.2,273.2A312.1,312.1 0 0,0 281.5,280Z" fill="#489e37"/><path d="M261.9,251.3A345.6,345.6 0 0,1 268.5,243.9L293.1,266.5A312.1,312.1 0 0,0 287.2,273.2Z" fill="#b9b9d9"/><path d="M268.5,243.9A345.6,345.6 0 0,1 275.3,236.7L299.2,260.1A312.1,312.1 0 0,0 293.1,266.5Z" fill="#b9b9d9"/><path d="M251.3,213.5A379,379 0 0,1 274.9,191.2L296.8,216.4A345.6,345.6 0 0,0 275.3,236.7Z" fill="#cccccc"/><path d="M275.3,236.7A345.6,345.6 0 0,1 282.2,229.8L305.6,253.7A312.1,312.1 0 0,0 299.2,260.1Z" fill="#489e37"/><path d="M282.2,229.8A345.6,345.6 0 0,1 289.4,223L312,247.6A312.1,312.1 0 0,0 305.6,253.7Z" fill="#489e37"/><path d="M289.4,223A345.6,345.6 0 0,1 296.8,216.4L318.7,241.7A312.1,312.1 0 0,0 312,247.6Z" fill="#489e37"/><path d="M274.9,191.2A379,379 0 0,1 283.2,184.2L325.5,236A312.1,312.1 0 0,0 318.7,241.7Z" fill="#489e37"/><path d="M283.2,184.2A379,379 0 0,1 309.2,164.7L328,192.3A345.6,345.6 0 0,0 304.3,210.1Z" fill="#cccccc"/><path d="M304.3,210.1A345.6,345.6 0 0,1 312.1,203.9L332.5,230.4A312.1,312.1 0 0,0 325.5,236Z" fill="#489e37"/><path d="M312.1,203.9A345.6,345.6 0 0,1 320,198L339.6,225.1A312.1,312.1 0 0,0 332.5,230.4Z" fill="#b9b9d9"/><path d="M320,198A345.6,345.6 0 0,1 328,192.3L346.9,219.9A312.1,312.1 0 0,0 339.6,225.1Z" fill="#b9b9d9"/><path d="M309.2,164.7A379,379 0 0,1 458.5,104.2L464.2,137.1A345.6,345.6 0 0,0 328,192.3Z" fill="#cccccc"/><path d="M328,192.3A345.6,345.6 0 0,1 336.3,186.9L354.3,215A312.1,312.1 0 0,0 346.9,219.9Z" fill="#b9b9d9"/><path d="M336.3,186.9A345.6,345.6 0 0,1 344.6,181.6L361.9,210.3A312.1,312.1 0 0,0 354.3,215Z" fill="#489e37"/><path d="M344.6,181.6A345.6,345.6 0 0,1 353.2,176.7L369.6,205.8A312.1,312.1 0 0,0 361.9,210.3Z" fill="#b9b9d9"/><path d="M353.2,176.7A345.6,345.6 0 0,1 361.8,171.9L377.4,201.5A312.1,312.1 0 0,0 369.6,205.8Z" fill="#b9b9d9"/><path d="M361.8,171.9A345.6,345.6 0 0,1 370.6,167.5L385.4,197.5A312.1,312.1 0 0,0 377.4,201.5Z" fill="#b9b9d9"/><path d="M370.6,167.5A345.6,345.6 0 0,1 379.5,163.2L393.4,193.7A312.1,312.1 0 0,0 385.4,197.5Z" fill="#489e37"/><path d="M379.5,163.2A345.6,345.6 0 0,1 388.6,159.3L401.6,190.1A312.1,312.1 0 0,0 393.4,193.7Z" fill="#b9b9d9"/><path d="M388.6,159.3A345.6,345.6 0 0,1 397.7,155.5L409.8,186.7A312.1,312.1 0 0,0 401.6,190.1Z" fill="#489e37"/><path d="M397.7,155.5A345.6,345.6 0 0,1 407,152.1L418.2,183.6A312.1,312.1 0 0,0 409.8,186.7Z" fill="#489e37"/><path d="M407,152.1A345.6,345.6 0 0,1 416.3,148.9L426.6,180.7A312.1,312.1 0 0,0 418.2,183.6Z" fill="#b9b9d9"/><path d="M416.3,148.9A345.6,345.6 0 0,1 425.7,146L435.2,178.1A312.1,312.1 0 0,0 426.6,180.7Z" fill="#b9b9d9"/><path d="M425.7,146A345.6,345.6 0 0,1 435.2,143.4L443.7,175.7A312.1,312.1 0 0,0 435.2,178.1Z" fill="#b9b9d9"/><path d="M435.2,143.4A345.6,345.6 0 0,1 444.8,141L452.4,173.6A312.1,312.1 0 0,0 443.7,175.7Z" fill="#b9b9d9"/><path d="M444.8,141A345.6,345.6 0 0,1 454.5,138.9L461.1,171.7A312.1,312.1 0 0,0 452.4,173.6Z" fill="#b9b9d9"/><path d="M454.5,138.9A345.6,345.6 0 0,1 464.2,137.1L469.9,170A312.1,312.1 0 0,0 461.1,171.7Z" fill="#489e37"/><path d="M458.5,104.2A379,379 0 0,1 469.2,102.5L478.7,168.6A312.1,312.1 0 0,0 469.9,170Z" fill="#489e37"/><path d="M469.2,102.5A379,379 0 0,1 479.9,101.1L487.5,167.5A312.1,312.1 0 0,0 478.7,168.6Z" fill="#489e37"/><path d="M479.9,101.1A379,379 0 0,1 490.7,100L496.4,166.6A312.1,312.1 0 0,0 487.5,167.5Z" fill="#489e37"/><path d="M490.7,100A379,379 0 0,1 501.5,99.2L505.3,166A312.1,312.1 0 0,0 496.4,166.6Z" fill="#489e37"/><path d="M501.5,99.2A379,379 0 0,1 512.3,98.8L514.2,165.6A312.1,312.1 0 0,0 505.3,166Z" fill="#489e37"/><path d="M511.3,65.3A412.4,412.4 0 0,1 523.1,65.2L523.1,165.5A312.1,312.1 0 0,0 514.2,165.6Z" fill="#489e37"/></g><g font-family="'Liberation Sans',Arial,sans-serif" font-size="25.4" text-anchor="middle" transform="translate(-0.5,1.7)"><text transform="translate(523.1,940.7)" dy="0.35em" fill="#000">flare</text><text transform="translate(584.2,52.6)rotate(188.2)" dy="0.35em" fill="#888888">analytics</text><g transform="translate(596.1,88.7)rotate(190.6)" clip-path="url(#c1)"><text dy="0.35em" fill="#888888">graph</text></g><text transform="translate(755.2,116.4)rotate(212.7)" dy="0.35em" fill="#000">animate</text><g transform="translate(702.8,125)rotate(207)" clip-path="url(#c2)"><text dy="0.35em" fill="#000">interpolate</text></g><text transform="translate(887.5,250.7)rotate(238.1)" dy="0.35em" fill="#888888">data</text><g transform="translate(839.9,240.5)rotate(233.2)" clip-path="url(#c3)"><text dy="0.35em" fill="#888888">converters</text></g><text transform="translate(948.1,416.5)rotate(261.8)" dy="0.35em" fill="#888888">physics</text><text transform="translate(813.4,793.9)rotate(317.5)" dy="0.35em" fill="#888888">query</text><text transform="translate(755.7,797.7)rotate(324)" dy="0.35em" fill="#888888">methods</text><text transform="translate(414,892.8)rotate(14.7)" dy="0.35em" fill="#888888">scale</text><text transform="translate(228.3,789.7)rotate(43.4)" dy="0.35em" fill="#888888">util</text><text transform="translate(158.7,250.7)rotate(121.9)" dy="0.35em" fill="#888888">vis</text><text transform="translate(156.4,626.4)rotate(67.9)" dy="0.35em" fill="#888888">axis</text><text transform="translate(132.2,539.5)rotate(81)" dy="0.35em" fill="#888888">controls</text><text transform="translate(133.2,410.1)rotate(99.8)" dy="0.35em" fill="#888888">data</text><text transform="translate(323.6,135.8)rotate(149.7)" dy="0.35em" fill="#888888">operator</text><g transform="translate(245.9,244.3)rotate(130.1)" clip-path="url(#c4)"><text dy="0.35em" fill="#888888">encoder</text></g><text transform="translate(386.8,141.9)rotate(157.9)" dy="0.35em" fill="#888888">layout</text></g><g stroke="#fff" stroke-width="1.2" fill="none"><path d="M780.5,136.5h2.5m1,0h2.5M780.5,151.5h2.5m1,0h2.5M783.5,137v14"/></g></svg></body></html>
